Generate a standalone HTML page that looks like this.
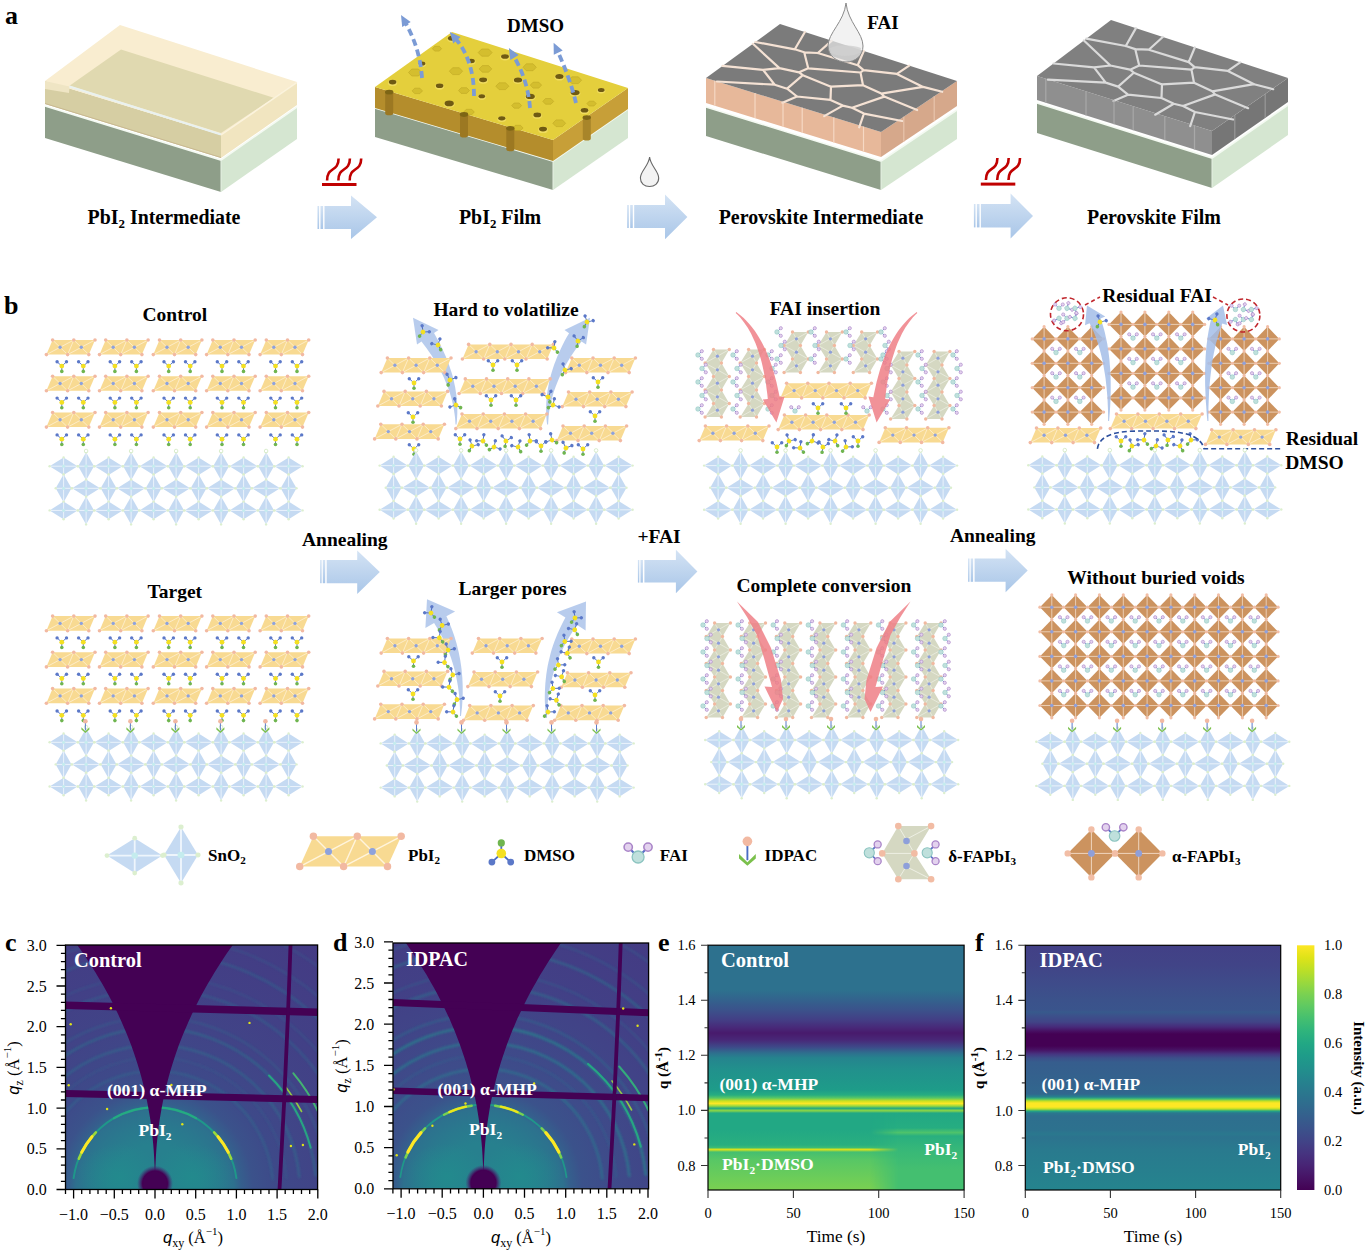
<!DOCTYPE html>
<html><head><meta charset="utf-8"><style>
html,body{margin:0;padding:0;background:#fff;}
svg{display:block;}
text{font-family:"Liberation Serif",serif;}
</style></head><body>
<svg width="1367" height="1252" viewBox="0 0 1367 1252">
<defs>
<linearGradient id="barrow" x1="0" y1="0" x2="0" y2="1">
 <stop offset="0" stop-color="#d4e3f4"/><stop offset="1" stop-color="#a9c6e8"/>
</linearGradient>
<linearGradient id="barrowh" x1="0" y1="0" x2="1" y2="0">
 <stop offset="0" stop-color="#ffffff" stop-opacity="0.35"/><stop offset="1" stop-color="#ffffff" stop-opacity="0"/>
</linearGradient>

<g id="snw"><polygon points="-14.0,0 0,-8.8 14.0,0 0,8.8" fill="#c5daf2"/><path d="M-14.0,0H14.0M0,-8.8V8.8" stroke="#eef5fc" stroke-width="0.9"/><circle r="1.6" fill="#c4ecee"/><circle cx="-14.0" cy="0.0" r="1.2" fill="#dcefcf"/><circle cx="14.0" cy="0.0" r="1.2" fill="#dcefcf"/><circle cx="0.0" cy="-8.8" r="1.2" fill="#dcefcf"/><circle cx="0.0" cy="8.8" r="1.2" fill="#dcefcf"/></g>
<g id="snt"><polygon points="-7.9,0 0,-14.0 7.9,0 0,14.0" fill="#c5daf2"/><path d="M-7.9,0H7.9M0,-14.0V14.0" stroke="#eef5fc" stroke-width="0.9"/><circle r="1.6" fill="#c4ecee"/><circle cx="-7.9" cy="0.0" r="1.2" fill="#dcefcf"/><circle cx="7.9" cy="0.0" r="1.2" fill="#dcefcf"/><circle cx="0.0" cy="-14.0" r="1.2" fill="#dcefcf"/><circle cx="0.0" cy="14.0" r="1.2" fill="#dcefcf"/></g>
<g id="dmso"><path d="M-4.7,-4.3L0,0L4.7,-4.3M0,0V5.3" stroke="#4a6cc4" stroke-width="0.9" fill="none"/><circle cx="-4.7" cy="-4.3" r="1.7" fill="#5b78c8"/><circle cx="4.7" cy="-4.3" r="1.7" fill="#5b78c8"/><circle cx="0" cy="5.3" r="1.8" fill="#6fb54f"/><circle r="2.4" fill="#f4e021"/></g>
<g id="fai"><path d="M-3.5,-3.5L0,0L3.5,-3.5" stroke="#5a70c8" stroke-width="0.8" fill="none"/><circle cx="-3.8" cy="-3.8" r="1.6" fill="#e3d2ee" stroke="#a984c8" stroke-width="0.6"/><circle cx="3.8" cy="-3.8" r="1.6" fill="#e3d2ee" stroke="#a984c8" stroke-width="0.6"/><circle r="2.3" fill="#bfe0dc" stroke="#8cc4c0" stroke-width="0.5"/></g>
<g id="idpac"><path d="M0,-6V2" stroke="#4a6cc4" stroke-width="0.9"/><path d="M-4,-1L0,3L4,-1L4,1.2L0,4.6L-4,1.2Z" fill="#7bc04c"/><circle cx="0" cy="-7" r="2.3" fill="#f2b9a2"/></g>
<clipPath id="clipc"><rect x="65.5" y="945.0" width="252.1" height="244.5"/></clipPath>
<radialGradient id="lobec"><stop offset="0" stop-color="#228b8d" stop-opacity="0.9"/><stop offset="1" stop-color="#228b8d" stop-opacity="0"/></radialGradient>
<radialGradient id="rgc" gradientUnits="userSpaceOnUse" cx="155.0" cy="1189.5" r="309.3"><stop offset="0.0000" stop-color="#2a788e"/><stop offset="0.0789" stop-color="#27808e"/><stop offset="0.1447" stop-color="#27808e"/><stop offset="0.2105" stop-color="#2a788e"/><stop offset="0.2553" stop-color="#2d718e"/><stop offset="0.2789" stop-color="#355f8d"/><stop offset="0.3158" stop-color="#3b528b"/><stop offset="0.3947" stop-color="#3e4989"/><stop offset="0.5263" stop-color="#414487"/><stop offset="0.6842" stop-color="#424086"/><stop offset="1.0000" stop-color="#443a83"/></radialGradient>
<radialGradient id="bsc" gradientUnits="userSpaceOnUse" cx="155.0" cy="1183.5" r="18.0"><stop offset="0" stop-color="#440154"/><stop offset="0.7" stop-color="#440154"/><stop offset="1" stop-color="#482475" stop-opacity="0"/></radialGradient>
<filter id="blc" x="-5%" y="-5%" width="110%" height="110%"><feGaussianBlur stdDeviation="0.9"/></filter>
<clipPath id="clipd"><rect x="393.0" y="943.0" width="255.6" height="245.8"/></clipPath>
<radialGradient id="lobed"><stop offset="0" stop-color="#228b8d" stop-opacity="0.9"/><stop offset="1" stop-color="#228b8d" stop-opacity="0"/></radialGradient>
<radialGradient id="rgd" gradientUnits="userSpaceOnUse" cx="483.4" cy="1188.8" r="312.7"><stop offset="0.0000" stop-color="#2a788e"/><stop offset="0.0789" stop-color="#27808e"/><stop offset="0.1447" stop-color="#27808e"/><stop offset="0.2105" stop-color="#2a788e"/><stop offset="0.2553" stop-color="#2d718e"/><stop offset="0.2789" stop-color="#355f8d"/><stop offset="0.3158" stop-color="#3b528b"/><stop offset="0.3947" stop-color="#3e4c8a"/><stop offset="0.5263" stop-color="#404688"/><stop offset="0.6842" stop-color="#424086"/><stop offset="1.0000" stop-color="#443a83"/></radialGradient>
<radialGradient id="bsd" gradientUnits="userSpaceOnUse" cx="483.4" cy="1182.8" r="18.0"><stop offset="0" stop-color="#440154"/><stop offset="0.7" stop-color="#440154"/><stop offset="1" stop-color="#482475" stop-opacity="0"/></radialGradient>
<filter id="bld" x="-5%" y="-5%" width="110%" height="110%"><feGaussianBlur stdDeviation="0.9"/></filter>
<linearGradient id="lge" x1="0" y1="0" x2="0" y2="1"><stop offset="-0.0008" stop-color="#2d718e"/><stop offset="0.1830" stop-color="#2d718e"/><stop offset="0.2239" stop-color="#33628d"/><stop offset="0.2647" stop-color="#3b528b"/><stop offset="0.3056" stop-color="#433e85"/><stop offset="0.3382" stop-color="#482878"/><stop offset="0.3587" stop-color="#481a6c"/><stop offset="0.3873" stop-color="#482878"/><stop offset="0.4158" stop-color="#3e4989"/><stop offset="0.4404" stop-color="#2e6f8e"/><stop offset="0.4608" stop-color="#25848e"/><stop offset="0.5098" stop-color="#21918c"/><stop offset="0.5915" stop-color="#1e9c89"/><stop offset="0.6119" stop-color="#26ad81"/><stop offset="0.6242" stop-color="#58c765"/><stop offset="0.6364" stop-color="#cae11f"/><stop offset="0.6467" stop-color="#fde725"/><stop offset="0.6569" stop-color="#9bd93c"/><stop offset="0.6663" stop-color="#22a884"/><stop offset="0.6761" stop-color="#8ed645"/><stop offset="0.6855" stop-color="#22a884"/><stop offset="0.7549" stop-color="#22a884"/><stop offset="0.8162" stop-color="#29af7f"/><stop offset="0.8264" stop-color="#3bbb75"/><stop offset="0.8350" stop-color="#dfe318"/><stop offset="0.8448" stop-color="#44bf70"/><stop offset="0.8775" stop-color="#58c765"/><stop offset="1.0000" stop-color="#7ad151"/></linearGradient>
<linearGradient id="lge2" x1="0" y1="0" x2="0" y2="1"><stop offset="0.0000" stop-color="#22a884"/><stop offset="0.1948" stop-color="#26ad81"/><stop offset="0.2545" stop-color="#4ec36b"/><stop offset="0.2987" stop-color="#29af7f"/><stop offset="0.4805" stop-color="#37b878"/><stop offset="0.7403" stop-color="#44bf70"/><stop offset="1.0000" stop-color="#44bf70"/></linearGradient>
<linearGradient id="lge2m" x1="0" y1="0" x2="1" y2="0"><stop offset="0" stop-color="#fff" stop-opacity="0"/><stop offset="0.3" stop-color="#fff" stop-opacity="1"/><stop offset="1" stop-color="#fff" stop-opacity="1"/></linearGradient>
<mask id="me2" maskUnits="userSpaceOnUse" x="870.0" y="1113.0" width="94.1" height="77.0"><rect x="870.0" y="1113.0" width="94.1" height="77.0" fill="url(#lge2m)"/></mask>
<linearGradient id="lgf" x1="0" y1="0" x2="0" y2="1"><stop offset="-0.0012" stop-color="#424086"/><stop offset="0.0805" stop-color="#414487"/><stop offset="0.1622" stop-color="#3e4c8a"/><stop offset="0.2235" stop-color="#3b528b"/><stop offset="0.2644" stop-color="#3a548c"/><stop offset="0.2726" stop-color="#375a8c"/><stop offset="0.2848" stop-color="#3b528b"/><stop offset="0.3134" stop-color="#414487"/><stop offset="0.3339" stop-color="#472a7a"/><stop offset="0.3502" stop-color="#471063"/><stop offset="0.3625" stop-color="#440154"/><stop offset="0.4115" stop-color="#440154"/><stop offset="0.4279" stop-color="#471365"/><stop offset="0.4442" stop-color="#463480"/><stop offset="0.4606" stop-color="#3c4f8a"/><stop offset="0.4769" stop-color="#365d8d"/><stop offset="0.5505" stop-color="#33628d"/><stop offset="0.6077" stop-color="#31678e"/><stop offset="0.6199" stop-color="#25848e"/><stop offset="0.6281" stop-color="#44bf70"/><stop offset="0.6363" stop-color="#bddf26"/><stop offset="0.6445" stop-color="#fde725"/><stop offset="0.6608" stop-color="#fde725"/><stop offset="0.6690" stop-color="#bddf26"/><stop offset="0.6772" stop-color="#22a884"/><stop offset="0.6853" stop-color="#2a788e"/><stop offset="0.6976" stop-color="#2e6f8e"/><stop offset="0.7548" stop-color="#2d718e"/><stop offset="0.7711" stop-color="#2a788e"/><stop offset="0.7834" stop-color="#2c738e"/><stop offset="0.8365" stop-color="#297a8e"/><stop offset="1.0000" stop-color="#25848e"/></linearGradient>
<linearGradient id="cbar" x1="0" y1="1" x2="0" y2="0"><stop offset="0.0000" stop-color="#440154"/><stop offset="0.0500" stop-color="#471365"/><stop offset="0.1000" stop-color="#482475"/><stop offset="0.1500" stop-color="#463480"/><stop offset="0.2000" stop-color="#414487"/><stop offset="0.2500" stop-color="#3b528b"/><stop offset="0.3000" stop-color="#355f8d"/><stop offset="0.3500" stop-color="#2f6c8e"/><stop offset="0.4000" stop-color="#2a788e"/><stop offset="0.4500" stop-color="#25848e"/><stop offset="0.5000" stop-color="#21918c"/><stop offset="0.5500" stop-color="#1e9c89"/><stop offset="0.6000" stop-color="#22a884"/><stop offset="0.6500" stop-color="#2fb47c"/><stop offset="0.7000" stop-color="#44bf70"/><stop offset="0.7500" stop-color="#5ec962"/><stop offset="0.8000" stop-color="#7ad151"/><stop offset="0.8500" stop-color="#9bd93c"/><stop offset="0.9000" stop-color="#bddf26"/><stop offset="0.9500" stop-color="#dfe318"/><stop offset="1.0000" stop-color="#fde725"/></linearGradient></defs>
<rect width="1367" height="1252" fill="#fff"/>
<text x="5.0" y="24.0" font-size="26" text-anchor="start" font-weight="bold" fill="#000" >a</text>
<polygon points="45.0,106.0 221.0,160.0 221.0,192.0 45.0,138.0" fill="#8e9e89" />
<polygon points="221.0,160.0 297.0,107.0 297.0,139.0 221.0,192.0" fill="#d5e6d1" />
<polyline points="45.0,106.0 221.0,160.0 297.0,107.0" fill="none" stroke="#f4faf2" stroke-width="1.6"/>
<line x1="221.0" y1="160.0" x2="221.0" y2="192.0" stroke="#e6f0e3" stroke-width="1"/>
<polygon points="45.0,81.0 221.0,135.0 221.0,158.0 45.0,104.0" fill="#d6cea3" />
<polygon points="221.0,135.0 297.0,82.0 297.0,105.0 221.0,158.0" fill="#f1e5c0" />
<polygon points="120.0,25.0 45.0,81.0 221.0,135.0 297.0,82.0" fill="#f9edd0" />
<polygon points="121.0,49.5 273.6,97.8 221.0,133.0 69.5,85.7" fill="#e0d9b0" />
<polygon points="45.0,81.0 69.5,86.5 69.0,93.0 45.0,89.0" fill="#efe5c4" />
<polyline points="69.5,86.5 221.0,134.5" fill="none" stroke="#e9f1ef" stroke-width="2"/>
<polyline points="221.0,135.0 297.0,82.5" fill="none" stroke="#fbf3dd" stroke-width="1.5"/>
<line x1="45" y1="103.5" x2="221" y2="157.5" stroke="#c8b890" stroke-width="1"/>
<polygon points="375.0,108.0 553.0,161.0 553.0,190.0 375.0,137.0" fill="#8e9e89" />
<polygon points="553.0,161.0 628.0,109.0 628.0,138.0 553.0,190.0" fill="#d5e6d1" />
<polyline points="375.0,108.0 553.0,161.0 628.0,109.0" fill="none" stroke="#f4faf2" stroke-width="1.6"/>
<line x1="553.0" y1="161.0" x2="553.0" y2="190.0" stroke="#e6f0e3" stroke-width="1"/>
<polygon points="375.0,87.0 553.0,140.0 553.0,161.0 375.0,108.0" fill="#b48d2c" />
<polygon points="553.0,140.0 628.0,88.0 628.0,109.0 553.0,161.0" fill="#c79f38" />
<polygon points="452.0,32.0 375.0,87.0 553.0,140.0 628.0,88.0" fill="#e4cf3c" />
<ellipse cx="452.1" cy="39.1" rx="5.0" ry="3.3" fill="#f0dc60"/>
<ellipse cx="452.1" cy="38.3" rx="4.2" ry="2.5" fill="#6f5a12"/>
<polygon points="441.6,48.7 439.3,51.1 434.7,51.1 432.4,48.7 434.7,46.3 439.3,46.3" fill="#d4be2e" stroke="#bfa825" stroke-width="0.6"/>
<ellipse cx="422.0" cy="64.3" rx="4.2" ry="2.8" fill="#f0dc60"/>
<ellipse cx="422.0" cy="63.5" rx="3.4" ry="2.0" fill="#6f5a12"/>
<polygon points="421.8,72.5 418.5,76.0 411.8,76.0 408.5,72.5 411.8,69.0 418.5,69.0" fill="#d4be2e" stroke="#bfa825" stroke-width="0.6"/>
<ellipse cx="392.6" cy="82.9" rx="4.6" ry="3.1" fill="#f0dc60"/>
<ellipse cx="392.6" cy="82.1" rx="3.8" ry="2.3" fill="#6f5a12"/>
<polygon points="492.1,52.6 488.6,56.2 481.7,56.2 478.2,52.6 481.7,49.0 488.6,49.0" fill="#d4be2e" stroke="#bfa825" stroke-width="0.6"/>
<ellipse cx="471.2" cy="61.8" rx="4.4" ry="3.0" fill="#f0dc60"/>
<ellipse cx="471.2" cy="61.0" rx="3.6" ry="2.2" fill="#6f5a12"/>
<polygon points="462.6,71.2 459.3,74.6 452.7,74.6 449.3,71.2 452.7,67.7 459.3,67.7" fill="#d4be2e" stroke="#bfa825" stroke-width="0.6"/>
<ellipse cx="439.6" cy="86.6" rx="4.6" ry="3.1" fill="#f0dc60"/>
<ellipse cx="439.6" cy="85.8" rx="3.8" ry="2.3" fill="#6f5a12"/>
<polygon points="422.5,90.9 419.9,93.6 414.7,93.6 412.1,90.9 414.7,88.2 419.9,88.2" fill="#d4be2e" stroke="#bfa825" stroke-width="0.6"/>
<ellipse cx="505.0" cy="57.3" rx="4.7" ry="3.1" fill="#f0dc60"/>
<ellipse cx="505.0" cy="56.5" rx="3.9" ry="2.3" fill="#6f5a12"/>
<polygon points="491.8,68.9 488.6,72.2 482.3,72.2 479.2,68.9 482.3,65.6 488.6,65.6" fill="#d4be2e" stroke="#bfa825" stroke-width="0.6"/>
<ellipse cx="483.1" cy="80.6" rx="4.8" ry="3.2" fill="#f0dc60"/>
<ellipse cx="483.1" cy="79.8" rx="4.0" ry="2.4" fill="#6f5a12"/>
<polygon points="469.5,90.6 466.7,93.4 461.2,93.4 458.5,90.6 461.2,87.7 466.7,87.7" fill="#d4be2e" stroke="#bfa825" stroke-width="0.6"/>
<ellipse cx="449.2" cy="104.2" rx="5.4" ry="3.6" fill="#f0dc60"/>
<ellipse cx="449.2" cy="103.4" rx="4.6" ry="2.8" fill="#6f5a12"/>
<polygon points="536.3,67.3 533.0,70.7 526.3,70.7 523.0,67.3 526.3,63.8 533.0,63.8" fill="#d4be2e" stroke="#bfa825" stroke-width="0.6"/>
<ellipse cx="518.0" cy="80.7" rx="5.0" ry="3.3" fill="#f0dc60"/>
<ellipse cx="518.0" cy="79.9" rx="4.2" ry="2.5" fill="#6f5a12"/>
<polygon points="508.9,86.2 505.6,89.6 499.1,89.6 495.8,86.2 499.1,82.8 505.6,82.8" fill="#d4be2e" stroke="#bfa825" stroke-width="0.6"/>
<ellipse cx="481.8" cy="97.1" rx="4.1" ry="2.8" fill="#f0dc60"/>
<ellipse cx="481.8" cy="96.3" rx="3.3" ry="2.0" fill="#6f5a12"/>
<polygon points="474.3,112.0 471.7,114.8 466.3,114.8 463.7,112.0 466.3,109.3 471.7,109.3" fill="#d4be2e" stroke="#bfa825" stroke-width="0.6"/>
<ellipse cx="559.4" cy="77.3" rx="4.9" ry="3.3" fill="#f0dc60"/>
<ellipse cx="559.4" cy="76.5" rx="4.1" ry="2.5" fill="#6f5a12"/>
<polygon points="541.6,85.1 538.8,88.1 533.1,88.1 530.3,85.1 533.1,82.2 538.8,82.2" fill="#d4be2e" stroke="#bfa825" stroke-width="0.6"/>
<ellipse cx="530.3" cy="97.2" rx="5.3" ry="3.5" fill="#f0dc60"/>
<ellipse cx="530.3" cy="96.4" rx="4.5" ry="2.7" fill="#6f5a12"/>
<polygon points="521.6,105.6 519.1,108.2 514.2,108.2 511.7,105.6 514.2,103.0 519.1,103.0" fill="#d4be2e" stroke="#bfa825" stroke-width="0.6"/>
<ellipse cx="501.8" cy="119.1" rx="4.4" ry="2.9" fill="#f0dc60"/>
<ellipse cx="501.8" cy="118.3" rx="3.6" ry="2.1" fill="#6f5a12"/>
<polygon points="581.6,80.2 578.3,83.6 571.8,83.6 568.6,80.2 571.8,76.8 578.3,76.8" fill="#d4be2e" stroke="#bfa825" stroke-width="0.6"/>
<ellipse cx="575.1" cy="93.4" rx="5.3" ry="3.5" fill="#f0dc60"/>
<ellipse cx="575.1" cy="92.6" rx="4.5" ry="2.7" fill="#6f5a12"/>
<polygon points="553.7,101.4 550.9,104.2 545.5,104.2 542.8,101.4 545.5,98.5 550.9,98.5" fill="#d4be2e" stroke="#bfa825" stroke-width="0.6"/>
<ellipse cx="537.3" cy="115.7" rx="4.7" ry="3.1" fill="#f0dc60"/>
<ellipse cx="537.3" cy="114.9" rx="3.9" ry="2.3" fill="#6f5a12"/>
<polygon points="523.1,128.0 520.5,130.6 515.4,130.6 512.9,128.0 515.4,125.3 520.5,125.3" fill="#d4be2e" stroke="#bfa825" stroke-width="0.6"/>
<ellipse cx="601.2" cy="90.7" rx="4.2" ry="2.8" fill="#f0dc60"/>
<ellipse cx="601.2" cy="89.9" rx="3.4" ry="2.0" fill="#6f5a12"/>
<polygon points="596.2,103.6 593.9,106.0 589.2,106.0 586.9,103.6 589.2,101.2 593.9,101.2" fill="#d4be2e" stroke="#bfa825" stroke-width="0.6"/>
<ellipse cx="584.5" cy="111.0" rx="4.6" ry="3.1" fill="#f0dc60"/>
<ellipse cx="584.5" cy="110.2" rx="3.8" ry="2.3" fill="#6f5a12"/>
<polygon points="565.6,123.3 562.4,126.6 556.0,126.6 552.8,123.3 556.0,119.9 562.4,119.9" fill="#d4be2e" stroke="#bfa825" stroke-width="0.6"/>
<ellipse cx="543.0" cy="129.9" rx="4.8" ry="3.2" fill="#f0dc60"/>
<ellipse cx="543.0" cy="129.1" rx="4.0" ry="2.4" fill="#6f5a12"/>
<path d="M385.2,92.2 v21 a4,2 0 0 0 8,0 v-21 a4,2 0 0 1 -8,0z" fill="#9c7822"/>
<ellipse cx="389.2" cy="92.2" rx="4.2" ry="2.4" fill="#7d6515"/>
<path d="M460.0,114.5 v21 a4,2 0 0 0 8,0 v-21 a4,2 0 0 1 -8,0z" fill="#9c7822"/>
<ellipse cx="464.0" cy="114.5" rx="4.2" ry="2.4" fill="#7d6515"/>
<path d="M506.3,128.3 v21 a4,2 0 0 0 8,0 v-21 a4,2 0 0 1 -8,0z" fill="#9c7822"/>
<ellipse cx="510.3" cy="128.3" rx="4.2" ry="2.4" fill="#7d6515"/>
<path d="M582.8,117.6 v21 a4,2 0 0 0 8,0 v-21 a4,2 0 0 1 -8,0z" fill="#a8852a"/>
<ellipse cx="586.8" cy="117.6" rx="4.2" ry="2.4" fill="#7d6515"/>
<path d="M422.0,78.0 Q420.0,48.0 405.0,22.0" fill="none" stroke="#7b9bd5" stroke-width="3.8" stroke-dasharray="7,4"/>
<polygon points="401.0,15.1 410.7,22.1 402.2,27.0" fill="#7b9bd5" />
<path d="M474.0,96.0 Q474.0,60.0 455.0,38.0" fill="none" stroke="#7b9bd5" stroke-width="3.8" stroke-dasharray="7,4"/>
<polygon points="449.8,31.9 460.6,37.0 453.2,43.4" fill="#7b9bd5" />
<path d="M530.0,108.0 Q528.0,80.0 513.0,55.0" fill="none" stroke="#7b9bd5" stroke-width="3.8" stroke-dasharray="7,4"/>
<polygon points="508.9,48.1 518.7,55.0 510.3,60.1" fill="#7b9bd5" />
<path d="M576.0,103.0 Q570.0,78.0 557.0,50.0" fill="none" stroke="#7b9bd5" stroke-width="3.8" stroke-dasharray="7,4"/>
<polygon points="553.6,42.7 562.7,50.6 553.8,54.7" fill="#7b9bd5" />
<text x="535.5" y="32.0" font-size="19" text-anchor="middle" font-weight="bold" fill="#000" >DMSO</text>
<polygon points="706.0,107.0 881.0,161.0 881.0,190.0 706.0,136.0" fill="#8e9e89" />
<polygon points="881.0,161.0 957.0,110.0 957.0,139.0 881.0,190.0" fill="#d5e6d1" />
<polyline points="706.0,107.0 881.0,161.0 957.0,110.0" fill="none" stroke="#f4faf2" stroke-width="1.6"/>
<line x1="881.0" y1="161.0" x2="881.0" y2="190.0" stroke="#e6f0e3" stroke-width="1"/>
<polygon points="706.0,78.0 881.0,132.0 881.0,157.0 706.0,103.0" fill="#e7b89a" />
<polygon points="881.0,132.0 957.0,81.0 957.0,106.0 881.0,157.0" fill="#d6a88b" />
<polygon points="780.0,24.0 706.0,78.0 881.0,132.0 957.0,81.0" fill="#7b7b7b" />
<polygon points="1037.0,103.0 1212.0,158.0 1212.0,188.0 1037.0,133.0" fill="#8e9e89" />
<polygon points="1212.0,158.0 1288.0,105.0 1288.0,135.0 1212.0,188.0" fill="#d5e6d1" />
<polyline points="1037.0,103.0 1212.0,158.0 1288.0,105.0" fill="none" stroke="#f4faf2" stroke-width="1.6"/>
<line x1="1212.0" y1="158.0" x2="1212.0" y2="188.0" stroke="#e6f0e3" stroke-width="1"/>
<polygon points="1037.0,76.0 1212.0,131.0 1212.0,155.0 1037.0,100.0" fill="#8f8f8f" />
<polygon points="1212.0,131.0 1288.0,78.0 1288.0,102.0 1212.0,155.0" fill="#767676" />
<polygon points="1111.0,20.0 1037.0,76.0 1212.0,131.0 1288.0,78.0" fill="#808080" />
<path d="M942.2,91.8L923.1,86.9M896.9,73.9L909.2,65.6M923.1,86.9L896.9,73.9M802.8,75.2L799.1,72.3M808.2,68.3L799.1,72.3M860.5,72.5L863.0,85.2M808.2,68.3L860.5,72.5M802.8,75.2L831.0,86.7M831.0,86.7L863.0,85.2M923.1,86.9L881.3,93.6M896.9,73.9L863.6,70.1M860.5,72.5L863.6,70.1M863.0,85.2L881.3,93.6M917.1,110.1L884.2,96.6M884.2,96.6L881.3,93.6M857.7,65.2L863.8,51.0M863.6,70.1L857.7,65.2M857.7,65.2L817.8,53.0M817.8,53.0L831.8,40.7M808.2,68.3L804.2,52.3M804.2,52.3L817.8,53.0M852.0,107.8L884.2,96.6M852.0,107.8L842.8,105.6M831.0,86.7L830.5,99.9M842.8,105.6L830.5,99.9M722.5,65.9L763.0,69.8M779.4,68.1L752.9,43.8M763.0,69.8L779.4,68.1M863.9,113.6L859.2,127.3M863.9,113.6L902.1,121.0M852.0,107.8L863.9,113.6M794.8,49.3L755.3,42.0M794.8,49.3L804.9,32.0M779.4,68.1L799.1,72.3M804.2,52.3L794.8,49.3M842.8,105.6L824.2,116.1M802.8,75.2L787.1,88.7M830.5,99.9L797.0,96.5M797.0,96.5L787.1,88.7M763.0,69.8L774.7,84.7M774.7,84.7L787.1,88.7M797.0,96.5L782.5,102.7M774.7,84.7L716.9,81.5" stroke="#f5e2d4" stroke-width="2.2" fill="none" stroke-linecap="round"/>
<path d="M1273.2,89.2L1254.1,84.2M1227.9,70.9L1240.2,62.3M1254.1,84.2L1227.9,70.9M1133.8,72.7L1130.1,69.7M1139.2,65.5L1130.1,69.7M1191.5,69.7L1194.0,82.7M1139.2,65.5L1191.5,69.7M1133.8,72.7L1162.0,84.4M1162.0,84.4L1194.0,82.7M1254.1,84.2L1212.3,91.3M1227.9,70.9L1194.6,67.2M1191.5,69.7L1194.6,67.2M1194.0,82.7L1212.3,91.3M1248.1,108.2L1215.2,94.4M1215.2,94.4L1212.3,91.3M1188.7,62.1L1194.8,47.5M1194.6,67.2L1188.7,62.1M1188.7,62.1L1148.8,49.7M1148.8,49.7L1162.8,37.0M1139.2,65.5L1135.2,49.1M1135.2,49.1L1148.8,49.7M1183.0,106.0L1215.2,94.4M1183.0,106.0L1173.8,103.8M1162.0,84.4L1161.5,98.0M1173.8,103.8L1161.5,98.0M1053.5,63.5L1094.0,67.3M1110.4,65.5L1083.9,40.5M1094.0,67.3L1110.4,65.5M1194.9,112.0L1190.2,126.2M1194.9,112.0L1233.1,119.5M1183.0,106.0L1194.9,112.0M1125.8,46.0L1086.3,38.7M1125.8,46.0L1135.9,28.1M1110.4,65.5L1130.1,69.7M1135.2,49.1L1125.8,46.0M1173.8,103.8L1155.2,114.7M1133.8,72.7L1118.1,86.6M1161.5,98.0L1128.0,94.7M1128.0,94.7L1118.1,86.6M1094.0,67.3L1105.7,82.6M1105.7,82.6L1118.1,86.6M1128.0,94.7L1113.5,101.1M1105.7,82.6L1047.9,79.6" stroke="#dadada" stroke-width="2.2" fill="none" stroke-linecap="round"/>
<line x1="714.8" y1="80.7" x2="714.8" y2="105.7" stroke="#f6d8c4" stroke-width="1.2"/>
<line x1="1045.8" y1="78.8" x2="1045.8" y2="102.8" stroke="#a8a8a8" stroke-width="1.2"/>
<line x1="755.0" y1="93.1" x2="755.0" y2="118.1" stroke="#f6d8c4" stroke-width="1.2"/>
<line x1="1086.0" y1="91.4" x2="1086.0" y2="115.4" stroke="#a8a8a8" stroke-width="1.2"/>
<line x1="783.0" y1="101.8" x2="783.0" y2="126.8" stroke="#f6d8c4" stroke-width="1.2"/>
<line x1="1114.0" y1="100.2" x2="1114.0" y2="124.2" stroke="#a8a8a8" stroke-width="1.2"/>
<line x1="802.2" y1="107.7" x2="802.2" y2="132.7" stroke="#f6d8c4" stroke-width="1.2"/>
<line x1="1133.2" y1="106.2" x2="1133.2" y2="130.2" stroke="#a8a8a8" stroke-width="1.2"/>
<line x1="833.8" y1="117.4" x2="833.8" y2="142.4" stroke="#f6d8c4" stroke-width="1.2"/>
<line x1="1164.8" y1="116.2" x2="1164.8" y2="140.2" stroke="#a8a8a8" stroke-width="1.2"/>
<line x1="863.5" y1="126.6" x2="863.5" y2="151.6" stroke="#f6d8c4" stroke-width="1.2"/>
<line x1="1194.5" y1="125.5" x2="1194.5" y2="149.5" stroke="#a8a8a8" stroke-width="1.2"/>
<line x1="903.8" y1="116.7" x2="903.8" y2="141.7" stroke="#e8c4ac" stroke-width="1.2"/>
<line x1="1234.8" y1="115.1" x2="1234.8" y2="139.1" stroke="#999" stroke-width="1.2"/>
<line x1="934.2" y1="96.3" x2="934.2" y2="121.3" stroke="#e8c4ac" stroke-width="1.2"/>
<line x1="1265.2" y1="93.9" x2="1265.2" y2="117.9" stroke="#999" stroke-width="1.2"/>
<path d="M846,3 C848,22 863,33 863,46 C863,56 855,62 846,62 C837,62 828,56 828,46 C828,33 844,22 846,3 Z" fill="#ececec" fill-opacity="0.7" stroke="#8a8a8a" stroke-width="1"/>
<path d="M830,48 C838,44 852,45 861,48 L860,53 C852,57 838,57 831,53 Z" fill="#cfcfcf" opacity="0.8"/>
<text x="883.0" y="28.5" font-size="19" text-anchor="middle" font-weight="bold" fill="#000" >FAI</text>
<path d="M649.6,157 C650.5,166 658.7,171 658.7,178 C658.7,183.5 654.5,186.5 649.5,186.5 C644.5,186.5 640.4,183.5 640.4,178 C640.4,171 648.7,166 649.6,157 Z" fill="#f3f3f3" stroke="#666" stroke-width="1.1"/>
<rect x="317.5" y="206.0" width="1.6" height="23.0" fill="url(#barrow)"/>
<rect x="320.5" y="206.0" width="2.6" height="23.0" fill="url(#barrow)"/>
<polygon points="324.5,206.0 351.0,206.0 351.0,195.5 377.0,217.2 351.0,239.0 351.0,229.0 324.5,229.0" fill="url(#barrow)" />
<rect x="627.2" y="205.0" width="1.6" height="23.0" fill="url(#barrow)"/>
<rect x="630.2" y="205.0" width="2.6" height="23.0" fill="url(#barrow)"/>
<polygon points="634.2,205.0 665.0,205.0 665.0,194.5 687.4,216.9 665.0,239.3 665.0,228.0 634.2,228.0" fill="url(#barrow)" />
<rect x="973.9" y="204.0" width="1.6" height="23.4" fill="url(#barrow)"/>
<rect x="976.9" y="204.0" width="2.6" height="23.4" fill="url(#barrow)"/>
<polygon points="980.9,204.0 1010.6,204.0 1010.6,193.6 1033.0,216.0 1010.6,238.4 1010.6,227.4 980.9,227.4" fill="url(#barrow)" />
<path d="M338.6,158.5 C338.6,165.5 335.6,167.5 332.6,169.5 S327.1,173.5 327.1,180.5 M349.9,158.5 C349.9,165.5 346.9,167.5 343.9,169.5 S338.4,173.5 338.4,180.5 M361.2,158.5 C361.2,165.5 358.2,167.5 355.2,169.5 S349.7,173.5 349.7,180.5 " fill="none" stroke="#c00000" stroke-width="2.6"/>
<rect x="322.0" y="183.0" width="34.5" height="3" fill="#c00000"/>
<path d="M997.4,158.1 C997.4,165.1 994.4,167.1 991.4,169.1 S985.9,173.1 985.9,180.1 M1008.7,158.1 C1008.7,165.1 1005.7,167.1 1002.7,169.1 S997.2,173.1 997.2,180.1 M1020.0,158.1 C1020.0,165.1 1017.0,167.1 1014.0,169.1 S1008.5,173.1 1008.5,180.1 " fill="none" stroke="#c00000" stroke-width="2.6"/>
<rect x="980.8" y="182.6" width="34.5" height="3" fill="#c00000"/>
<text x="164.0" y="223.5" font-size="19.9" font-weight="bold" text-anchor="middle">PbI<tspan font-size="12.9" dy="4">2</tspan><tspan dy="-4"> Intermediate</tspan></text>
<text x="500.0" y="223.5" font-size="19.9" font-weight="bold" text-anchor="middle">PbI<tspan font-size="12.9" dy="4">2</tspan><tspan dy="-4"> Film</tspan></text>
<text x="821.0" y="223.5" font-size="19.9" text-anchor="middle" font-weight="bold" fill="#000" >Perovskite Intermediate</text>
<text x="1154.0" y="223.5" font-size="19.9" text-anchor="middle" font-weight="bold" fill="#000" >Perovskite Film</text>
<text x="4.0" y="313.5" font-size="26" text-anchor="start" font-weight="bold" fill="#000" >b</text>
<polygon points="52.6,340.0 95.0,340.0 88.8,354.6 46.4,354.6" fill="#f8da92"/><path d="M73.8,340.0L67.6,354.6M52.6,340.0L67.6,354.6M73.8,340.0L46.4,354.6M73.8,340.0L88.8,354.6M95.0,340.0L67.6,354.6" stroke="#fff4dc" stroke-width="0.7" fill="none"/><circle cx="60.1" cy="347.3" r="1.7" fill="#8ea2dc"/><circle cx="81.3" cy="347.3" r="1.7" fill="#8ea2dc"/><circle cx="52.6" cy="340.0" r="1.8" fill="#f2b9a2"/><circle cx="46.4" cy="354.6" r="1.8" fill="#f2b9a2"/><circle cx="73.8" cy="340.0" r="1.8" fill="#f2b9a2"/><circle cx="67.6" cy="354.6" r="1.8" fill="#f2b9a2"/><circle cx="95.0" cy="340.0" r="1.8" fill="#f2b9a2"/><circle cx="88.8" cy="354.6" r="1.8" fill="#f2b9a2"/>
<polygon points="105.7,340.0 148.1,340.0 141.9,354.6 99.5,354.6" fill="#f8da92"/><path d="M126.9,340.0L120.7,354.6M105.7,340.0L120.7,354.6M126.9,340.0L99.5,354.6M126.9,340.0L141.9,354.6M148.1,340.0L120.7,354.6" stroke="#fff4dc" stroke-width="0.7" fill="none"/><circle cx="113.2" cy="347.3" r="1.7" fill="#8ea2dc"/><circle cx="134.4" cy="347.3" r="1.7" fill="#8ea2dc"/><circle cx="105.7" cy="340.0" r="1.8" fill="#f2b9a2"/><circle cx="99.5" cy="354.6" r="1.8" fill="#f2b9a2"/><circle cx="126.9" cy="340.0" r="1.8" fill="#f2b9a2"/><circle cx="120.7" cy="354.6" r="1.8" fill="#f2b9a2"/><circle cx="148.1" cy="340.0" r="1.8" fill="#f2b9a2"/><circle cx="141.9" cy="354.6" r="1.8" fill="#f2b9a2"/>
<polygon points="159.5,340.0 201.9,340.0 195.7,354.6 153.3,354.6" fill="#f8da92"/><path d="M180.7,340.0L174.5,354.6M159.5,340.0L174.5,354.6M180.7,340.0L153.3,354.6M180.7,340.0L195.7,354.6M201.9,340.0L174.5,354.6" stroke="#fff4dc" stroke-width="0.7" fill="none"/><circle cx="167.0" cy="347.3" r="1.7" fill="#8ea2dc"/><circle cx="188.2" cy="347.3" r="1.7" fill="#8ea2dc"/><circle cx="159.5" cy="340.0" r="1.8" fill="#f2b9a2"/><circle cx="153.3" cy="354.6" r="1.8" fill="#f2b9a2"/><circle cx="180.7" cy="340.0" r="1.8" fill="#f2b9a2"/><circle cx="174.5" cy="354.6" r="1.8" fill="#f2b9a2"/><circle cx="201.9" cy="340.0" r="1.8" fill="#f2b9a2"/><circle cx="195.7" cy="354.6" r="1.8" fill="#f2b9a2"/>
<polygon points="212.8,340.0 255.2,340.0 249.0,354.6 206.6,354.6" fill="#f8da92"/><path d="M234.0,340.0L227.8,354.6M212.8,340.0L227.8,354.6M234.0,340.0L206.6,354.6M234.0,340.0L249.0,354.6M255.2,340.0L227.8,354.6" stroke="#fff4dc" stroke-width="0.7" fill="none"/><circle cx="220.3" cy="347.3" r="1.7" fill="#8ea2dc"/><circle cx="241.5" cy="347.3" r="1.7" fill="#8ea2dc"/><circle cx="212.8" cy="340.0" r="1.8" fill="#f2b9a2"/><circle cx="206.6" cy="354.6" r="1.8" fill="#f2b9a2"/><circle cx="234.0" cy="340.0" r="1.8" fill="#f2b9a2"/><circle cx="227.8" cy="354.6" r="1.8" fill="#f2b9a2"/><circle cx="255.2" cy="340.0" r="1.8" fill="#f2b9a2"/><circle cx="249.0" cy="354.6" r="1.8" fill="#f2b9a2"/>
<polygon points="266.3,340.0 308.7,340.0 302.5,354.6 260.1,354.6" fill="#f8da92"/><path d="M287.5,340.0L281.3,354.6M266.3,340.0L281.3,354.6M287.5,340.0L260.1,354.6M287.5,340.0L302.5,354.6M308.7,340.0L281.3,354.6" stroke="#fff4dc" stroke-width="0.7" fill="none"/><circle cx="273.8" cy="347.3" r="1.7" fill="#8ea2dc"/><circle cx="295.0" cy="347.3" r="1.7" fill="#8ea2dc"/><circle cx="266.3" cy="340.0" r="1.8" fill="#f2b9a2"/><circle cx="260.1" cy="354.6" r="1.8" fill="#f2b9a2"/><circle cx="287.5" cy="340.0" r="1.8" fill="#f2b9a2"/><circle cx="281.3" cy="354.6" r="1.8" fill="#f2b9a2"/><circle cx="308.7" cy="340.0" r="1.8" fill="#f2b9a2"/><circle cx="302.5" cy="354.6" r="1.8" fill="#f2b9a2"/>
<polygon points="52.6,376.2 95.0,376.2 88.8,390.8 46.4,390.8" fill="#f8da92"/><path d="M73.8,376.2L67.6,390.8M52.6,376.2L67.6,390.8M73.8,376.2L46.4,390.8M73.8,376.2L88.8,390.8M95.0,376.2L67.6,390.8" stroke="#fff4dc" stroke-width="0.7" fill="none"/><circle cx="60.1" cy="383.5" r="1.7" fill="#8ea2dc"/><circle cx="81.3" cy="383.5" r="1.7" fill="#8ea2dc"/><circle cx="52.6" cy="376.2" r="1.8" fill="#f2b9a2"/><circle cx="46.4" cy="390.8" r="1.8" fill="#f2b9a2"/><circle cx="73.8" cy="376.2" r="1.8" fill="#f2b9a2"/><circle cx="67.6" cy="390.8" r="1.8" fill="#f2b9a2"/><circle cx="95.0" cy="376.2" r="1.8" fill="#f2b9a2"/><circle cx="88.8" cy="390.8" r="1.8" fill="#f2b9a2"/>
<polygon points="105.7,376.2 148.1,376.2 141.9,390.8 99.5,390.8" fill="#f8da92"/><path d="M126.9,376.2L120.7,390.8M105.7,376.2L120.7,390.8M126.9,376.2L99.5,390.8M126.9,376.2L141.9,390.8M148.1,376.2L120.7,390.8" stroke="#fff4dc" stroke-width="0.7" fill="none"/><circle cx="113.2" cy="383.5" r="1.7" fill="#8ea2dc"/><circle cx="134.4" cy="383.5" r="1.7" fill="#8ea2dc"/><circle cx="105.7" cy="376.2" r="1.8" fill="#f2b9a2"/><circle cx="99.5" cy="390.8" r="1.8" fill="#f2b9a2"/><circle cx="126.9" cy="376.2" r="1.8" fill="#f2b9a2"/><circle cx="120.7" cy="390.8" r="1.8" fill="#f2b9a2"/><circle cx="148.1" cy="376.2" r="1.8" fill="#f2b9a2"/><circle cx="141.9" cy="390.8" r="1.8" fill="#f2b9a2"/>
<polygon points="159.5,376.2 201.9,376.2 195.7,390.8 153.3,390.8" fill="#f8da92"/><path d="M180.7,376.2L174.5,390.8M159.5,376.2L174.5,390.8M180.7,376.2L153.3,390.8M180.7,376.2L195.7,390.8M201.9,376.2L174.5,390.8" stroke="#fff4dc" stroke-width="0.7" fill="none"/><circle cx="167.0" cy="383.5" r="1.7" fill="#8ea2dc"/><circle cx="188.2" cy="383.5" r="1.7" fill="#8ea2dc"/><circle cx="159.5" cy="376.2" r="1.8" fill="#f2b9a2"/><circle cx="153.3" cy="390.8" r="1.8" fill="#f2b9a2"/><circle cx="180.7" cy="376.2" r="1.8" fill="#f2b9a2"/><circle cx="174.5" cy="390.8" r="1.8" fill="#f2b9a2"/><circle cx="201.9" cy="376.2" r="1.8" fill="#f2b9a2"/><circle cx="195.7" cy="390.8" r="1.8" fill="#f2b9a2"/>
<polygon points="212.8,376.2 255.2,376.2 249.0,390.8 206.6,390.8" fill="#f8da92"/><path d="M234.0,376.2L227.8,390.8M212.8,376.2L227.8,390.8M234.0,376.2L206.6,390.8M234.0,376.2L249.0,390.8M255.2,376.2L227.8,390.8" stroke="#fff4dc" stroke-width="0.7" fill="none"/><circle cx="220.3" cy="383.5" r="1.7" fill="#8ea2dc"/><circle cx="241.5" cy="383.5" r="1.7" fill="#8ea2dc"/><circle cx="212.8" cy="376.2" r="1.8" fill="#f2b9a2"/><circle cx="206.6" cy="390.8" r="1.8" fill="#f2b9a2"/><circle cx="234.0" cy="376.2" r="1.8" fill="#f2b9a2"/><circle cx="227.8" cy="390.8" r="1.8" fill="#f2b9a2"/><circle cx="255.2" cy="376.2" r="1.8" fill="#f2b9a2"/><circle cx="249.0" cy="390.8" r="1.8" fill="#f2b9a2"/>
<polygon points="266.3,376.2 308.7,376.2 302.5,390.8 260.1,390.8" fill="#f8da92"/><path d="M287.5,376.2L281.3,390.8M266.3,376.2L281.3,390.8M287.5,376.2L260.1,390.8M287.5,376.2L302.5,390.8M308.7,376.2L281.3,390.8" stroke="#fff4dc" stroke-width="0.7" fill="none"/><circle cx="273.8" cy="383.5" r="1.7" fill="#8ea2dc"/><circle cx="295.0" cy="383.5" r="1.7" fill="#8ea2dc"/><circle cx="266.3" cy="376.2" r="1.8" fill="#f2b9a2"/><circle cx="260.1" cy="390.8" r="1.8" fill="#f2b9a2"/><circle cx="287.5" cy="376.2" r="1.8" fill="#f2b9a2"/><circle cx="281.3" cy="390.8" r="1.8" fill="#f2b9a2"/><circle cx="308.7" cy="376.2" r="1.8" fill="#f2b9a2"/><circle cx="302.5" cy="390.8" r="1.8" fill="#f2b9a2"/>
<polygon points="52.6,412.5 95.0,412.5 88.8,427.1 46.4,427.1" fill="#f8da92"/><path d="M73.8,412.5L67.6,427.1M52.6,412.5L67.6,427.1M73.8,412.5L46.4,427.1M73.8,412.5L88.8,427.1M95.0,412.5L67.6,427.1" stroke="#fff4dc" stroke-width="0.7" fill="none"/><circle cx="60.1" cy="419.8" r="1.7" fill="#8ea2dc"/><circle cx="81.3" cy="419.8" r="1.7" fill="#8ea2dc"/><circle cx="52.6" cy="412.5" r="1.8" fill="#f2b9a2"/><circle cx="46.4" cy="427.1" r="1.8" fill="#f2b9a2"/><circle cx="73.8" cy="412.5" r="1.8" fill="#f2b9a2"/><circle cx="67.6" cy="427.1" r="1.8" fill="#f2b9a2"/><circle cx="95.0" cy="412.5" r="1.8" fill="#f2b9a2"/><circle cx="88.8" cy="427.1" r="1.8" fill="#f2b9a2"/>
<polygon points="105.7,412.5 148.1,412.5 141.9,427.1 99.5,427.1" fill="#f8da92"/><path d="M126.9,412.5L120.7,427.1M105.7,412.5L120.7,427.1M126.9,412.5L99.5,427.1M126.9,412.5L141.9,427.1M148.1,412.5L120.7,427.1" stroke="#fff4dc" stroke-width="0.7" fill="none"/><circle cx="113.2" cy="419.8" r="1.7" fill="#8ea2dc"/><circle cx="134.4" cy="419.8" r="1.7" fill="#8ea2dc"/><circle cx="105.7" cy="412.5" r="1.8" fill="#f2b9a2"/><circle cx="99.5" cy="427.1" r="1.8" fill="#f2b9a2"/><circle cx="126.9" cy="412.5" r="1.8" fill="#f2b9a2"/><circle cx="120.7" cy="427.1" r="1.8" fill="#f2b9a2"/><circle cx="148.1" cy="412.5" r="1.8" fill="#f2b9a2"/><circle cx="141.9" cy="427.1" r="1.8" fill="#f2b9a2"/>
<polygon points="159.5,412.5 201.9,412.5 195.7,427.1 153.3,427.1" fill="#f8da92"/><path d="M180.7,412.5L174.5,427.1M159.5,412.5L174.5,427.1M180.7,412.5L153.3,427.1M180.7,412.5L195.7,427.1M201.9,412.5L174.5,427.1" stroke="#fff4dc" stroke-width="0.7" fill="none"/><circle cx="167.0" cy="419.8" r="1.7" fill="#8ea2dc"/><circle cx="188.2" cy="419.8" r="1.7" fill="#8ea2dc"/><circle cx="159.5" cy="412.5" r="1.8" fill="#f2b9a2"/><circle cx="153.3" cy="427.1" r="1.8" fill="#f2b9a2"/><circle cx="180.7" cy="412.5" r="1.8" fill="#f2b9a2"/><circle cx="174.5" cy="427.1" r="1.8" fill="#f2b9a2"/><circle cx="201.9" cy="412.5" r="1.8" fill="#f2b9a2"/><circle cx="195.7" cy="427.1" r="1.8" fill="#f2b9a2"/>
<polygon points="212.8,412.5 255.2,412.5 249.0,427.1 206.6,427.1" fill="#f8da92"/><path d="M234.0,412.5L227.8,427.1M212.8,412.5L227.8,427.1M234.0,412.5L206.6,427.1M234.0,412.5L249.0,427.1M255.2,412.5L227.8,427.1" stroke="#fff4dc" stroke-width="0.7" fill="none"/><circle cx="220.3" cy="419.8" r="1.7" fill="#8ea2dc"/><circle cx="241.5" cy="419.8" r="1.7" fill="#8ea2dc"/><circle cx="212.8" cy="412.5" r="1.8" fill="#f2b9a2"/><circle cx="206.6" cy="427.1" r="1.8" fill="#f2b9a2"/><circle cx="234.0" cy="412.5" r="1.8" fill="#f2b9a2"/><circle cx="227.8" cy="427.1" r="1.8" fill="#f2b9a2"/><circle cx="255.2" cy="412.5" r="1.8" fill="#f2b9a2"/><circle cx="249.0" cy="427.1" r="1.8" fill="#f2b9a2"/>
<polygon points="266.3,412.5 308.7,412.5 302.5,427.1 260.1,427.1" fill="#f8da92"/><path d="M287.5,412.5L281.3,427.1M266.3,412.5L281.3,427.1M287.5,412.5L260.1,427.1M287.5,412.5L302.5,427.1M308.7,412.5L281.3,427.1" stroke="#fff4dc" stroke-width="0.7" fill="none"/><circle cx="273.8" cy="419.8" r="1.7" fill="#8ea2dc"/><circle cx="295.0" cy="419.8" r="1.7" fill="#8ea2dc"/><circle cx="266.3" cy="412.5" r="1.8" fill="#f2b9a2"/><circle cx="260.1" cy="427.1" r="1.8" fill="#f2b9a2"/><circle cx="287.5" cy="412.5" r="1.8" fill="#f2b9a2"/><circle cx="281.3" cy="427.1" r="1.8" fill="#f2b9a2"/><circle cx="308.7" cy="412.5" r="1.8" fill="#f2b9a2"/><circle cx="302.5" cy="427.1" r="1.8" fill="#f2b9a2"/>
<use href="#dmso" x="61.8" y="366.1"/>
<use href="#dmso" x="83.3" y="366.1"/>
<use href="#dmso" x="114.9" y="366.1"/>
<use href="#dmso" x="136.4" y="366.1"/>
<use href="#dmso" x="168.7" y="366.1"/>
<use href="#dmso" x="190.2" y="366.1"/>
<use href="#dmso" x="222.0" y="366.1"/>
<use href="#dmso" x="243.5" y="366.1"/>
<use href="#dmso" x="275.5" y="366.1"/>
<use href="#dmso" x="297.0" y="366.1"/>
<use href="#dmso" x="61.8" y="402.4"/>
<use href="#dmso" x="83.3" y="402.4"/>
<use href="#dmso" x="114.9" y="402.4"/>
<use href="#dmso" x="136.4" y="402.4"/>
<use href="#dmso" x="168.7" y="402.4"/>
<use href="#dmso" x="190.2" y="402.4"/>
<use href="#dmso" x="222.0" y="402.4"/>
<use href="#dmso" x="243.5" y="402.4"/>
<use href="#dmso" x="275.5" y="402.4"/>
<use href="#dmso" x="297.0" y="402.4"/>
<use href="#dmso" x="61.8" y="439.2"/>
<use href="#dmso" x="83.3" y="439.2"/>
<use href="#dmso" x="114.9" y="439.2"/>
<use href="#dmso" x="136.4" y="439.2"/>
<use href="#dmso" x="168.7" y="439.2"/>
<use href="#dmso" x="190.2" y="439.2"/>
<use href="#dmso" x="222.0" y="439.2"/>
<use href="#dmso" x="243.5" y="439.2"/>
<use href="#dmso" x="275.5" y="439.2"/>
<use href="#dmso" x="297.0" y="439.2"/>
<use href="#snw" x="63.6" y="466.2"/>
<use href="#snt" x="86.1" y="466.2"/>
<use href="#snw" x="108.6" y="466.2"/>
<use href="#snt" x="131.1" y="466.2"/>
<use href="#snw" x="153.6" y="466.2"/>
<use href="#snt" x="176.1" y="466.2"/>
<use href="#snw" x="198.6" y="466.2"/>
<use href="#snt" x="221.1" y="466.2"/>
<use href="#snw" x="243.6" y="466.2"/>
<use href="#snt" x="266.1" y="466.2"/>
<use href="#snw" x="288.6" y="466.2"/>
<use href="#snt" x="63.6" y="488.3"/>
<use href="#snw" x="86.1" y="488.3"/>
<use href="#snt" x="108.6" y="488.3"/>
<use href="#snw" x="131.1" y="488.3"/>
<use href="#snt" x="153.6" y="488.3"/>
<use href="#snw" x="176.1" y="488.3"/>
<use href="#snt" x="198.6" y="488.3"/>
<use href="#snw" x="221.1" y="488.3"/>
<use href="#snt" x="243.6" y="488.3"/>
<use href="#snw" x="266.1" y="488.3"/>
<use href="#snt" x="288.6" y="488.3"/>
<use href="#snw" x="63.6" y="510.4"/>
<use href="#snt" x="86.1" y="510.4"/>
<use href="#snw" x="108.6" y="510.4"/>
<use href="#snt" x="131.1" y="510.4"/>
<use href="#snw" x="153.6" y="510.4"/>
<use href="#snt" x="176.1" y="510.4"/>
<use href="#snw" x="198.6" y="510.4"/>
<use href="#snt" x="221.1" y="510.4"/>
<use href="#snw" x="243.6" y="510.4"/>
<use href="#snt" x="266.1" y="510.4"/>
<use href="#snw" x="288.6" y="510.4"/>
<circle cx="86.1" cy="451.0" r="1.8" fill="#fff" stroke="#d0e8c0" stroke-width="0.8"/>
<circle cx="131.1" cy="451.0" r="1.8" fill="#fff" stroke="#d0e8c0" stroke-width="0.8"/>
<circle cx="176.1" cy="451.0" r="1.8" fill="#fff" stroke="#d0e8c0" stroke-width="0.8"/>
<circle cx="221.1" cy="451.0" r="1.8" fill="#fff" stroke="#d0e8c0" stroke-width="0.8"/>
<circle cx="266.1" cy="451.0" r="1.8" fill="#fff" stroke="#d0e8c0" stroke-width="0.8"/>
<polygon points="52.6,616.1 95.0,616.1 88.8,630.7 46.4,630.7" fill="#f8da92"/><path d="M73.8,616.1L67.6,630.7M52.6,616.1L67.6,630.7M73.8,616.1L46.4,630.7M73.8,616.1L88.8,630.7M95.0,616.1L67.6,630.7" stroke="#fff4dc" stroke-width="0.7" fill="none"/><circle cx="60.1" cy="623.4" r="1.7" fill="#8ea2dc"/><circle cx="81.3" cy="623.4" r="1.7" fill="#8ea2dc"/><circle cx="52.6" cy="616.1" r="1.8" fill="#f2b9a2"/><circle cx="46.4" cy="630.7" r="1.8" fill="#f2b9a2"/><circle cx="73.8" cy="616.1" r="1.8" fill="#f2b9a2"/><circle cx="67.6" cy="630.7" r="1.8" fill="#f2b9a2"/><circle cx="95.0" cy="616.1" r="1.8" fill="#f2b9a2"/><circle cx="88.8" cy="630.7" r="1.8" fill="#f2b9a2"/>
<polygon points="105.7,616.1 148.1,616.1 141.9,630.7 99.5,630.7" fill="#f8da92"/><path d="M126.9,616.1L120.7,630.7M105.7,616.1L120.7,630.7M126.9,616.1L99.5,630.7M126.9,616.1L141.9,630.7M148.1,616.1L120.7,630.7" stroke="#fff4dc" stroke-width="0.7" fill="none"/><circle cx="113.2" cy="623.4" r="1.7" fill="#8ea2dc"/><circle cx="134.4" cy="623.4" r="1.7" fill="#8ea2dc"/><circle cx="105.7" cy="616.1" r="1.8" fill="#f2b9a2"/><circle cx="99.5" cy="630.7" r="1.8" fill="#f2b9a2"/><circle cx="126.9" cy="616.1" r="1.8" fill="#f2b9a2"/><circle cx="120.7" cy="630.7" r="1.8" fill="#f2b9a2"/><circle cx="148.1" cy="616.1" r="1.8" fill="#f2b9a2"/><circle cx="141.9" cy="630.7" r="1.8" fill="#f2b9a2"/>
<polygon points="159.5,616.1 201.9,616.1 195.7,630.7 153.3,630.7" fill="#f8da92"/><path d="M180.7,616.1L174.5,630.7M159.5,616.1L174.5,630.7M180.7,616.1L153.3,630.7M180.7,616.1L195.7,630.7M201.9,616.1L174.5,630.7" stroke="#fff4dc" stroke-width="0.7" fill="none"/><circle cx="167.0" cy="623.4" r="1.7" fill="#8ea2dc"/><circle cx="188.2" cy="623.4" r="1.7" fill="#8ea2dc"/><circle cx="159.5" cy="616.1" r="1.8" fill="#f2b9a2"/><circle cx="153.3" cy="630.7" r="1.8" fill="#f2b9a2"/><circle cx="180.7" cy="616.1" r="1.8" fill="#f2b9a2"/><circle cx="174.5" cy="630.7" r="1.8" fill="#f2b9a2"/><circle cx="201.9" cy="616.1" r="1.8" fill="#f2b9a2"/><circle cx="195.7" cy="630.7" r="1.8" fill="#f2b9a2"/>
<polygon points="212.8,616.1 255.2,616.1 249.0,630.7 206.6,630.7" fill="#f8da92"/><path d="M234.0,616.1L227.8,630.7M212.8,616.1L227.8,630.7M234.0,616.1L206.6,630.7M234.0,616.1L249.0,630.7M255.2,616.1L227.8,630.7" stroke="#fff4dc" stroke-width="0.7" fill="none"/><circle cx="220.3" cy="623.4" r="1.7" fill="#8ea2dc"/><circle cx="241.5" cy="623.4" r="1.7" fill="#8ea2dc"/><circle cx="212.8" cy="616.1" r="1.8" fill="#f2b9a2"/><circle cx="206.6" cy="630.7" r="1.8" fill="#f2b9a2"/><circle cx="234.0" cy="616.1" r="1.8" fill="#f2b9a2"/><circle cx="227.8" cy="630.7" r="1.8" fill="#f2b9a2"/><circle cx="255.2" cy="616.1" r="1.8" fill="#f2b9a2"/><circle cx="249.0" cy="630.7" r="1.8" fill="#f2b9a2"/>
<polygon points="266.3,616.1 308.7,616.1 302.5,630.7 260.1,630.7" fill="#f8da92"/><path d="M287.5,616.1L281.3,630.7M266.3,616.1L281.3,630.7M287.5,616.1L260.1,630.7M287.5,616.1L302.5,630.7M308.7,616.1L281.3,630.7" stroke="#fff4dc" stroke-width="0.7" fill="none"/><circle cx="273.8" cy="623.4" r="1.7" fill="#8ea2dc"/><circle cx="295.0" cy="623.4" r="1.7" fill="#8ea2dc"/><circle cx="266.3" cy="616.1" r="1.8" fill="#f2b9a2"/><circle cx="260.1" cy="630.7" r="1.8" fill="#f2b9a2"/><circle cx="287.5" cy="616.1" r="1.8" fill="#f2b9a2"/><circle cx="281.3" cy="630.7" r="1.8" fill="#f2b9a2"/><circle cx="308.7" cy="616.1" r="1.8" fill="#f2b9a2"/><circle cx="302.5" cy="630.7" r="1.8" fill="#f2b9a2"/>
<polygon points="52.6,652.3 95.0,652.3 88.8,666.9 46.4,666.9" fill="#f8da92"/><path d="M73.8,652.3L67.6,666.9M52.6,652.3L67.6,666.9M73.8,652.3L46.4,666.9M73.8,652.3L88.8,666.9M95.0,652.3L67.6,666.9" stroke="#fff4dc" stroke-width="0.7" fill="none"/><circle cx="60.1" cy="659.6" r="1.7" fill="#8ea2dc"/><circle cx="81.3" cy="659.6" r="1.7" fill="#8ea2dc"/><circle cx="52.6" cy="652.3" r="1.8" fill="#f2b9a2"/><circle cx="46.4" cy="666.9" r="1.8" fill="#f2b9a2"/><circle cx="73.8" cy="652.3" r="1.8" fill="#f2b9a2"/><circle cx="67.6" cy="666.9" r="1.8" fill="#f2b9a2"/><circle cx="95.0" cy="652.3" r="1.8" fill="#f2b9a2"/><circle cx="88.8" cy="666.9" r="1.8" fill="#f2b9a2"/>
<polygon points="105.7,652.3 148.1,652.3 141.9,666.9 99.5,666.9" fill="#f8da92"/><path d="M126.9,652.3L120.7,666.9M105.7,652.3L120.7,666.9M126.9,652.3L99.5,666.9M126.9,652.3L141.9,666.9M148.1,652.3L120.7,666.9" stroke="#fff4dc" stroke-width="0.7" fill="none"/><circle cx="113.2" cy="659.6" r="1.7" fill="#8ea2dc"/><circle cx="134.4" cy="659.6" r="1.7" fill="#8ea2dc"/><circle cx="105.7" cy="652.3" r="1.8" fill="#f2b9a2"/><circle cx="99.5" cy="666.9" r="1.8" fill="#f2b9a2"/><circle cx="126.9" cy="652.3" r="1.8" fill="#f2b9a2"/><circle cx="120.7" cy="666.9" r="1.8" fill="#f2b9a2"/><circle cx="148.1" cy="652.3" r="1.8" fill="#f2b9a2"/><circle cx="141.9" cy="666.9" r="1.8" fill="#f2b9a2"/>
<polygon points="159.5,652.3 201.9,652.3 195.7,666.9 153.3,666.9" fill="#f8da92"/><path d="M180.7,652.3L174.5,666.9M159.5,652.3L174.5,666.9M180.7,652.3L153.3,666.9M180.7,652.3L195.7,666.9M201.9,652.3L174.5,666.9" stroke="#fff4dc" stroke-width="0.7" fill="none"/><circle cx="167.0" cy="659.6" r="1.7" fill="#8ea2dc"/><circle cx="188.2" cy="659.6" r="1.7" fill="#8ea2dc"/><circle cx="159.5" cy="652.3" r="1.8" fill="#f2b9a2"/><circle cx="153.3" cy="666.9" r="1.8" fill="#f2b9a2"/><circle cx="180.7" cy="652.3" r="1.8" fill="#f2b9a2"/><circle cx="174.5" cy="666.9" r="1.8" fill="#f2b9a2"/><circle cx="201.9" cy="652.3" r="1.8" fill="#f2b9a2"/><circle cx="195.7" cy="666.9" r="1.8" fill="#f2b9a2"/>
<polygon points="212.8,652.3 255.2,652.3 249.0,666.9 206.6,666.9" fill="#f8da92"/><path d="M234.0,652.3L227.8,666.9M212.8,652.3L227.8,666.9M234.0,652.3L206.6,666.9M234.0,652.3L249.0,666.9M255.2,652.3L227.8,666.9" stroke="#fff4dc" stroke-width="0.7" fill="none"/><circle cx="220.3" cy="659.6" r="1.7" fill="#8ea2dc"/><circle cx="241.5" cy="659.6" r="1.7" fill="#8ea2dc"/><circle cx="212.8" cy="652.3" r="1.8" fill="#f2b9a2"/><circle cx="206.6" cy="666.9" r="1.8" fill="#f2b9a2"/><circle cx="234.0" cy="652.3" r="1.8" fill="#f2b9a2"/><circle cx="227.8" cy="666.9" r="1.8" fill="#f2b9a2"/><circle cx="255.2" cy="652.3" r="1.8" fill="#f2b9a2"/><circle cx="249.0" cy="666.9" r="1.8" fill="#f2b9a2"/>
<polygon points="266.3,652.3 308.7,652.3 302.5,666.9 260.1,666.9" fill="#f8da92"/><path d="M287.5,652.3L281.3,666.9M266.3,652.3L281.3,666.9M287.5,652.3L260.1,666.9M287.5,652.3L302.5,666.9M308.7,652.3L281.3,666.9" stroke="#fff4dc" stroke-width="0.7" fill="none"/><circle cx="273.8" cy="659.6" r="1.7" fill="#8ea2dc"/><circle cx="295.0" cy="659.6" r="1.7" fill="#8ea2dc"/><circle cx="266.3" cy="652.3" r="1.8" fill="#f2b9a2"/><circle cx="260.1" cy="666.9" r="1.8" fill="#f2b9a2"/><circle cx="287.5" cy="652.3" r="1.8" fill="#f2b9a2"/><circle cx="281.3" cy="666.9" r="1.8" fill="#f2b9a2"/><circle cx="308.7" cy="652.3" r="1.8" fill="#f2b9a2"/><circle cx="302.5" cy="666.9" r="1.8" fill="#f2b9a2"/>
<polygon points="52.6,688.6 95.0,688.6 88.8,703.2 46.4,703.2" fill="#f8da92"/><path d="M73.8,688.6L67.6,703.2M52.6,688.6L67.6,703.2M73.8,688.6L46.4,703.2M73.8,688.6L88.8,703.2M95.0,688.6L67.6,703.2" stroke="#fff4dc" stroke-width="0.7" fill="none"/><circle cx="60.1" cy="695.9" r="1.7" fill="#8ea2dc"/><circle cx="81.3" cy="695.9" r="1.7" fill="#8ea2dc"/><circle cx="52.6" cy="688.6" r="1.8" fill="#f2b9a2"/><circle cx="46.4" cy="703.2" r="1.8" fill="#f2b9a2"/><circle cx="73.8" cy="688.6" r="1.8" fill="#f2b9a2"/><circle cx="67.6" cy="703.2" r="1.8" fill="#f2b9a2"/><circle cx="95.0" cy="688.6" r="1.8" fill="#f2b9a2"/><circle cx="88.8" cy="703.2" r="1.8" fill="#f2b9a2"/>
<polygon points="105.7,688.6 148.1,688.6 141.9,703.2 99.5,703.2" fill="#f8da92"/><path d="M126.9,688.6L120.7,703.2M105.7,688.6L120.7,703.2M126.9,688.6L99.5,703.2M126.9,688.6L141.9,703.2M148.1,688.6L120.7,703.2" stroke="#fff4dc" stroke-width="0.7" fill="none"/><circle cx="113.2" cy="695.9" r="1.7" fill="#8ea2dc"/><circle cx="134.4" cy="695.9" r="1.7" fill="#8ea2dc"/><circle cx="105.7" cy="688.6" r="1.8" fill="#f2b9a2"/><circle cx="99.5" cy="703.2" r="1.8" fill="#f2b9a2"/><circle cx="126.9" cy="688.6" r="1.8" fill="#f2b9a2"/><circle cx="120.7" cy="703.2" r="1.8" fill="#f2b9a2"/><circle cx="148.1" cy="688.6" r="1.8" fill="#f2b9a2"/><circle cx="141.9" cy="703.2" r="1.8" fill="#f2b9a2"/>
<polygon points="159.5,688.6 201.9,688.6 195.7,703.2 153.3,703.2" fill="#f8da92"/><path d="M180.7,688.6L174.5,703.2M159.5,688.6L174.5,703.2M180.7,688.6L153.3,703.2M180.7,688.6L195.7,703.2M201.9,688.6L174.5,703.2" stroke="#fff4dc" stroke-width="0.7" fill="none"/><circle cx="167.0" cy="695.9" r="1.7" fill="#8ea2dc"/><circle cx="188.2" cy="695.9" r="1.7" fill="#8ea2dc"/><circle cx="159.5" cy="688.6" r="1.8" fill="#f2b9a2"/><circle cx="153.3" cy="703.2" r="1.8" fill="#f2b9a2"/><circle cx="180.7" cy="688.6" r="1.8" fill="#f2b9a2"/><circle cx="174.5" cy="703.2" r="1.8" fill="#f2b9a2"/><circle cx="201.9" cy="688.6" r="1.8" fill="#f2b9a2"/><circle cx="195.7" cy="703.2" r="1.8" fill="#f2b9a2"/>
<polygon points="212.8,688.6 255.2,688.6 249.0,703.2 206.6,703.2" fill="#f8da92"/><path d="M234.0,688.6L227.8,703.2M212.8,688.6L227.8,703.2M234.0,688.6L206.6,703.2M234.0,688.6L249.0,703.2M255.2,688.6L227.8,703.2" stroke="#fff4dc" stroke-width="0.7" fill="none"/><circle cx="220.3" cy="695.9" r="1.7" fill="#8ea2dc"/><circle cx="241.5" cy="695.9" r="1.7" fill="#8ea2dc"/><circle cx="212.8" cy="688.6" r="1.8" fill="#f2b9a2"/><circle cx="206.6" cy="703.2" r="1.8" fill="#f2b9a2"/><circle cx="234.0" cy="688.6" r="1.8" fill="#f2b9a2"/><circle cx="227.8" cy="703.2" r="1.8" fill="#f2b9a2"/><circle cx="255.2" cy="688.6" r="1.8" fill="#f2b9a2"/><circle cx="249.0" cy="703.2" r="1.8" fill="#f2b9a2"/>
<polygon points="266.3,688.6 308.7,688.6 302.5,703.2 260.1,703.2" fill="#f8da92"/><path d="M287.5,688.6L281.3,703.2M266.3,688.6L281.3,703.2M287.5,688.6L260.1,703.2M287.5,688.6L302.5,703.2M308.7,688.6L281.3,703.2" stroke="#fff4dc" stroke-width="0.7" fill="none"/><circle cx="273.8" cy="695.9" r="1.7" fill="#8ea2dc"/><circle cx="295.0" cy="695.9" r="1.7" fill="#8ea2dc"/><circle cx="266.3" cy="688.6" r="1.8" fill="#f2b9a2"/><circle cx="260.1" cy="703.2" r="1.8" fill="#f2b9a2"/><circle cx="287.5" cy="688.6" r="1.8" fill="#f2b9a2"/><circle cx="281.3" cy="703.2" r="1.8" fill="#f2b9a2"/><circle cx="308.7" cy="688.6" r="1.8" fill="#f2b9a2"/><circle cx="302.5" cy="703.2" r="1.8" fill="#f2b9a2"/>
<use href="#dmso" x="61.8" y="642.2"/>
<use href="#dmso" x="83.3" y="642.2"/>
<use href="#dmso" x="114.9" y="642.2"/>
<use href="#dmso" x="136.4" y="642.2"/>
<use href="#dmso" x="168.7" y="642.2"/>
<use href="#dmso" x="190.2" y="642.2"/>
<use href="#dmso" x="222.0" y="642.2"/>
<use href="#dmso" x="243.5" y="642.2"/>
<use href="#dmso" x="275.5" y="642.2"/>
<use href="#dmso" x="297.0" y="642.2"/>
<use href="#dmso" x="61.8" y="678.5"/>
<use href="#dmso" x="83.3" y="678.5"/>
<use href="#dmso" x="114.9" y="678.5"/>
<use href="#dmso" x="136.4" y="678.5"/>
<use href="#dmso" x="168.7" y="678.5"/>
<use href="#dmso" x="190.2" y="678.5"/>
<use href="#dmso" x="222.0" y="678.5"/>
<use href="#dmso" x="243.5" y="678.5"/>
<use href="#dmso" x="275.5" y="678.5"/>
<use href="#dmso" x="297.0" y="678.5"/>
<use href="#dmso" x="61.8" y="715.3"/>
<use href="#dmso" x="83.3" y="715.3"/>
<use href="#dmso" x="114.9" y="715.3"/>
<use href="#dmso" x="136.4" y="715.3"/>
<use href="#dmso" x="168.7" y="715.3"/>
<use href="#dmso" x="190.2" y="715.3"/>
<use href="#dmso" x="222.0" y="715.3"/>
<use href="#dmso" x="243.5" y="715.3"/>
<use href="#dmso" x="275.5" y="715.3"/>
<use href="#dmso" x="297.0" y="715.3"/>
<use href="#snw" x="63.6" y="742.3"/>
<use href="#snt" x="86.1" y="742.3"/>
<use href="#snw" x="108.6" y="742.3"/>
<use href="#snt" x="131.1" y="742.3"/>
<use href="#snw" x="153.6" y="742.3"/>
<use href="#snt" x="176.1" y="742.3"/>
<use href="#snw" x="198.6" y="742.3"/>
<use href="#snt" x="221.1" y="742.3"/>
<use href="#snw" x="243.6" y="742.3"/>
<use href="#snt" x="266.1" y="742.3"/>
<use href="#snw" x="288.6" y="742.3"/>
<use href="#snt" x="63.6" y="764.4"/>
<use href="#snw" x="86.1" y="764.4"/>
<use href="#snt" x="108.6" y="764.4"/>
<use href="#snw" x="131.1" y="764.4"/>
<use href="#snt" x="153.6" y="764.4"/>
<use href="#snw" x="176.1" y="764.4"/>
<use href="#snt" x="198.6" y="764.4"/>
<use href="#snw" x="221.1" y="764.4"/>
<use href="#snt" x="243.6" y="764.4"/>
<use href="#snw" x="266.1" y="764.4"/>
<use href="#snt" x="288.6" y="764.4"/>
<use href="#snw" x="63.6" y="786.5"/>
<use href="#snt" x="86.1" y="786.5"/>
<use href="#snw" x="108.6" y="786.5"/>
<use href="#snt" x="131.1" y="786.5"/>
<use href="#snw" x="153.6" y="786.5"/>
<use href="#snt" x="176.1" y="786.5"/>
<use href="#snw" x="198.6" y="786.5"/>
<use href="#snt" x="221.1" y="786.5"/>
<use href="#snw" x="243.6" y="786.5"/>
<use href="#snt" x="266.1" y="786.5"/>
<use href="#snw" x="288.6" y="786.5"/>
<circle cx="86.1" cy="727.1" r="1.8" fill="#fff" stroke="#d0e8c0" stroke-width="0.8"/>
<circle cx="131.1" cy="727.1" r="1.8" fill="#fff" stroke="#d0e8c0" stroke-width="0.8"/>
<circle cx="176.1" cy="727.1" r="1.8" fill="#fff" stroke="#d0e8c0" stroke-width="0.8"/>
<circle cx="221.1" cy="727.1" r="1.8" fill="#fff" stroke="#d0e8c0" stroke-width="0.8"/>
<circle cx="266.1" cy="727.1" r="1.8" fill="#fff" stroke="#d0e8c0" stroke-width="0.8"/>
<use href="#idpac" x="85.4" y="728.3"/>
<use href="#idpac" x="130.4" y="728.3"/>
<use href="#idpac" x="175.4" y="728.3"/>
<use href="#idpac" x="220.4" y="728.3"/>
<use href="#idpac" x="265.4" y="728.3"/>
<text x="174.8" y="321.0" font-size="19.5" text-anchor="middle" font-weight="bold" fill="#000" >Control</text>
<text x="174.8" y="597.5" font-size="19.5" text-anchor="middle" font-weight="bold" fill="#000" >Target</text>
<polygon points="456.5,424.5 456.9,420.9 457.1,417.3 457.3,413.7 457.3,410.0 457.3,406.3 457.1,402.6 456.8,398.9 456.4,395.1 455.8,391.4 455.2,387.6 454.4,383.8 453.6,380.0 452.6,376.1 451.5,372.3 450.2,368.4 448.9,364.6 447.4,360.7 445.9,356.8 444.2,352.9 442.4,348.9 440.4,345.0 438.4,341.1 436.2,337.1 434.0,333.1 438.5,330.1 413.0,317.8 417.0,344.6 421.5,341.6 424.1,345.0 426.6,348.3 429.0,351.7 431.3,355.1 433.5,358.5 435.6,361.9 437.6,365.3 439.4,368.7 441.2,372.2 442.9,375.6 444.5,379.0 445.9,382.4 447.3,385.9 448.6,389.3 449.8,392.8 450.8,396.3 451.8,399.8 452.6,403.2 453.4,406.8 454.0,410.3 454.5,413.8 455.0,417.3 455.3,420.9 455.5,424.5" fill="#9db8e6" fill-opacity="0.72"/>
<polygon points="548.1,424.5 548.3,420.9 548.6,417.3 548.9,413.8 549.4,410.3 550.0,406.7 550.8,403.2 551.6,399.7 552.5,396.3 553.5,392.8 554.7,389.3 555.9,385.9 557.3,382.4 558.7,379.0 560.3,375.6 561.9,372.1 563.7,368.7 565.6,365.3 567.5,361.9 569.6,358.5 571.8,355.1 574.0,351.7 576.4,348.3 578.9,344.9 581.5,341.6 586.1,344.6 590.0,317.8 564.5,330.1 569.1,333.2 566.8,337.1 564.6,341.1 562.6,345.0 560.7,349.0 558.9,352.9 557.2,356.8 555.7,360.7 554.2,364.6 552.9,368.5 551.7,372.3 550.6,376.2 549.6,380.0 548.8,383.8 548.1,387.6 547.4,391.4 546.9,395.2 546.6,398.9 546.3,402.6 546.2,406.3 546.1,410.0 546.2,413.7 546.4,417.3 546.7,420.9 547.1,424.5" fill="#9db8e6" fill-opacity="0.72"/>
<polygon points="387.4,358.0 451.0,358.0 444.8,372.6 381.2,372.6" fill="#f8da92"/><path d="M408.6,358.0L402.4,372.6M429.8,358.0L423.6,372.6M387.4,358.0L402.4,372.6M408.6,358.0L381.2,372.6M408.6,358.0L423.6,372.6M429.8,358.0L402.4,372.6M429.8,358.0L444.8,372.6M451.0,358.0L423.6,372.6" stroke="#fff4dc" stroke-width="0.7" fill="none"/><circle cx="394.9" cy="365.3" r="1.7" fill="#8ea2dc"/><circle cx="416.1" cy="365.3" r="1.7" fill="#8ea2dc"/><circle cx="437.3" cy="365.3" r="1.7" fill="#8ea2dc"/><circle cx="387.4" cy="358.0" r="1.8" fill="#f2b9a2"/><circle cx="381.2" cy="372.6" r="1.8" fill="#f2b9a2"/><circle cx="408.6" cy="358.0" r="1.8" fill="#f2b9a2"/><circle cx="402.4" cy="372.6" r="1.8" fill="#f2b9a2"/><circle cx="429.8" cy="358.0" r="1.8" fill="#f2b9a2"/><circle cx="423.6" cy="372.6" r="1.8" fill="#f2b9a2"/><circle cx="451.0" cy="358.0" r="1.8" fill="#f2b9a2"/><circle cx="444.8" cy="372.6" r="1.8" fill="#f2b9a2"/>
<polygon points="384.0,391.4 447.6,391.4 441.4,406.0 377.8,406.0" fill="#f8da92"/><path d="M405.2,391.4L399.0,406.0M426.4,391.4L420.2,406.0M384.0,391.4L399.0,406.0M405.2,391.4L377.8,406.0M405.2,391.4L420.2,406.0M426.4,391.4L399.0,406.0M426.4,391.4L441.4,406.0M447.6,391.4L420.2,406.0" stroke="#fff4dc" stroke-width="0.7" fill="none"/><circle cx="391.5" cy="398.7" r="1.7" fill="#8ea2dc"/><circle cx="412.7" cy="398.7" r="1.7" fill="#8ea2dc"/><circle cx="433.9" cy="398.7" r="1.7" fill="#8ea2dc"/><circle cx="384.0" cy="391.4" r="1.8" fill="#f2b9a2"/><circle cx="377.8" cy="406.0" r="1.8" fill="#f2b9a2"/><circle cx="405.2" cy="391.4" r="1.8" fill="#f2b9a2"/><circle cx="399.0" cy="406.0" r="1.8" fill="#f2b9a2"/><circle cx="426.4" cy="391.4" r="1.8" fill="#f2b9a2"/><circle cx="420.2" cy="406.0" r="1.8" fill="#f2b9a2"/><circle cx="447.6" cy="391.4" r="1.8" fill="#f2b9a2"/><circle cx="441.4" cy="406.0" r="1.8" fill="#f2b9a2"/>
<polygon points="380.8,424.3 444.4,424.3 438.2,438.9 374.6,438.9" fill="#f8da92"/><path d="M402.0,424.3L395.8,438.9M423.2,424.3L417.0,438.9M380.8,424.3L395.8,438.9M402.0,424.3L374.6,438.9M402.0,424.3L417.0,438.9M423.2,424.3L395.8,438.9M423.2,424.3L438.2,438.9M444.4,424.3L417.0,438.9" stroke="#fff4dc" stroke-width="0.7" fill="none"/><circle cx="388.3" cy="431.6" r="1.7" fill="#8ea2dc"/><circle cx="409.5" cy="431.6" r="1.7" fill="#8ea2dc"/><circle cx="430.7" cy="431.6" r="1.7" fill="#8ea2dc"/><circle cx="380.8" cy="424.3" r="1.8" fill="#f2b9a2"/><circle cx="374.6" cy="438.9" r="1.8" fill="#f2b9a2"/><circle cx="402.0" cy="424.3" r="1.8" fill="#f2b9a2"/><circle cx="395.8" cy="438.9" r="1.8" fill="#f2b9a2"/><circle cx="423.2" cy="424.3" r="1.8" fill="#f2b9a2"/><circle cx="417.0" cy="438.9" r="1.8" fill="#f2b9a2"/><circle cx="444.4" cy="424.3" r="1.8" fill="#f2b9a2"/><circle cx="438.2" cy="438.9" r="1.8" fill="#f2b9a2"/>
<polygon points="468.6,344.4 553.4,344.4 547.2,359.0 462.4,359.0" fill="#f8da92"/><path d="M489.8,344.4L483.6,359.0M511.0,344.4L504.8,359.0M532.2,344.4L526.0,359.0M468.6,344.4L483.6,359.0M489.8,344.4L462.4,359.0M489.8,344.4L504.8,359.0M511.0,344.4L483.6,359.0M511.0,344.4L526.0,359.0M532.2,344.4L504.8,359.0M532.2,344.4L547.2,359.0M553.4,344.4L526.0,359.0" stroke="#fff4dc" stroke-width="0.7" fill="none"/><circle cx="476.1" cy="351.7" r="1.7" fill="#8ea2dc"/><circle cx="497.3" cy="351.7" r="1.7" fill="#8ea2dc"/><circle cx="518.5" cy="351.7" r="1.7" fill="#8ea2dc"/><circle cx="539.7" cy="351.7" r="1.7" fill="#8ea2dc"/><circle cx="468.6" cy="344.4" r="1.8" fill="#f2b9a2"/><circle cx="462.4" cy="359.0" r="1.8" fill="#f2b9a2"/><circle cx="489.8" cy="344.4" r="1.8" fill="#f2b9a2"/><circle cx="483.6" cy="359.0" r="1.8" fill="#f2b9a2"/><circle cx="511.0" cy="344.4" r="1.8" fill="#f2b9a2"/><circle cx="504.8" cy="359.0" r="1.8" fill="#f2b9a2"/><circle cx="532.2" cy="344.4" r="1.8" fill="#f2b9a2"/><circle cx="526.0" cy="359.0" r="1.8" fill="#f2b9a2"/><circle cx="553.4" cy="344.4" r="1.8" fill="#f2b9a2"/><circle cx="547.2" cy="359.0" r="1.8" fill="#f2b9a2"/>
<polygon points="465.3,378.9 550.1,378.9 543.9,393.5 459.1,393.5" fill="#f8da92"/><path d="M486.5,378.9L480.3,393.5M507.7,378.9L501.5,393.5M528.9,378.9L522.7,393.5M465.3,378.9L480.3,393.5M486.5,378.9L459.1,393.5M486.5,378.9L501.5,393.5M507.7,378.9L480.3,393.5M507.7,378.9L522.7,393.5M528.9,378.9L501.5,393.5M528.9,378.9L543.9,393.5M550.1,378.9L522.7,393.5" stroke="#fff4dc" stroke-width="0.7" fill="none"/><circle cx="472.8" cy="386.2" r="1.7" fill="#8ea2dc"/><circle cx="494.0" cy="386.2" r="1.7" fill="#8ea2dc"/><circle cx="515.2" cy="386.2" r="1.7" fill="#8ea2dc"/><circle cx="536.4" cy="386.2" r="1.7" fill="#8ea2dc"/><circle cx="465.3" cy="378.9" r="1.8" fill="#f2b9a2"/><circle cx="459.1" cy="393.5" r="1.8" fill="#f2b9a2"/><circle cx="486.5" cy="378.9" r="1.8" fill="#f2b9a2"/><circle cx="480.3" cy="393.5" r="1.8" fill="#f2b9a2"/><circle cx="507.7" cy="378.9" r="1.8" fill="#f2b9a2"/><circle cx="501.5" cy="393.5" r="1.8" fill="#f2b9a2"/><circle cx="528.9" cy="378.9" r="1.8" fill="#f2b9a2"/><circle cx="522.7" cy="393.5" r="1.8" fill="#f2b9a2"/><circle cx="550.1" cy="378.9" r="1.8" fill="#f2b9a2"/><circle cx="543.9" cy="393.5" r="1.8" fill="#f2b9a2"/>
<polygon points="462.0,414.0 546.8,414.0 540.6,428.6 455.8,428.6" fill="#f8da92"/><path d="M483.2,414.0L477.0,428.6M504.4,414.0L498.2,428.6M525.6,414.0L519.4,428.6M462.0,414.0L477.0,428.6M483.2,414.0L455.8,428.6M483.2,414.0L498.2,428.6M504.4,414.0L477.0,428.6M504.4,414.0L519.4,428.6M525.6,414.0L498.2,428.6M525.6,414.0L540.6,428.6M546.8,414.0L519.4,428.6" stroke="#fff4dc" stroke-width="0.7" fill="none"/><circle cx="469.5" cy="421.3" r="1.7" fill="#8ea2dc"/><circle cx="490.7" cy="421.3" r="1.7" fill="#8ea2dc"/><circle cx="511.9" cy="421.3" r="1.7" fill="#8ea2dc"/><circle cx="533.1" cy="421.3" r="1.7" fill="#8ea2dc"/><circle cx="462.0" cy="414.0" r="1.8" fill="#f2b9a2"/><circle cx="455.8" cy="428.6" r="1.8" fill="#f2b9a2"/><circle cx="483.2" cy="414.0" r="1.8" fill="#f2b9a2"/><circle cx="477.0" cy="428.6" r="1.8" fill="#f2b9a2"/><circle cx="504.4" cy="414.0" r="1.8" fill="#f2b9a2"/><circle cx="498.2" cy="428.6" r="1.8" fill="#f2b9a2"/><circle cx="525.6" cy="414.0" r="1.8" fill="#f2b9a2"/><circle cx="519.4" cy="428.6" r="1.8" fill="#f2b9a2"/><circle cx="546.8" cy="414.0" r="1.8" fill="#f2b9a2"/><circle cx="540.6" cy="428.6" r="1.8" fill="#f2b9a2"/>
<polygon points="571.8,358.0 635.4,358.0 629.2,372.6 565.6,372.6" fill="#f8da92"/><path d="M593.0,358.0L586.8,372.6M614.2,358.0L608.0,372.6M571.8,358.0L586.8,372.6M593.0,358.0L565.6,372.6M593.0,358.0L608.0,372.6M614.2,358.0L586.8,372.6M614.2,358.0L629.2,372.6M635.4,358.0L608.0,372.6" stroke="#fff4dc" stroke-width="0.7" fill="none"/><circle cx="579.3" cy="365.3" r="1.7" fill="#8ea2dc"/><circle cx="600.5" cy="365.3" r="1.7" fill="#8ea2dc"/><circle cx="621.7" cy="365.3" r="1.7" fill="#8ea2dc"/><circle cx="571.8" cy="358.0" r="1.8" fill="#f2b9a2"/><circle cx="565.6" cy="372.6" r="1.8" fill="#f2b9a2"/><circle cx="593.0" cy="358.0" r="1.8" fill="#f2b9a2"/><circle cx="586.8" cy="372.6" r="1.8" fill="#f2b9a2"/><circle cx="614.2" cy="358.0" r="1.8" fill="#f2b9a2"/><circle cx="608.0" cy="372.6" r="1.8" fill="#f2b9a2"/><circle cx="635.4" cy="358.0" r="1.8" fill="#f2b9a2"/><circle cx="629.2" cy="372.6" r="1.8" fill="#f2b9a2"/>
<polygon points="568.5,392.0 632.1,392.0 625.9,406.6 562.3,406.6" fill="#f8da92"/><path d="M589.7,392.0L583.5,406.6M610.9,392.0L604.7,406.6M568.5,392.0L583.5,406.6M589.7,392.0L562.3,406.6M589.7,392.0L604.7,406.6M610.9,392.0L583.5,406.6M610.9,392.0L625.9,406.6M632.1,392.0L604.7,406.6" stroke="#fff4dc" stroke-width="0.7" fill="none"/><circle cx="576.0" cy="399.3" r="1.7" fill="#8ea2dc"/><circle cx="597.2" cy="399.3" r="1.7" fill="#8ea2dc"/><circle cx="618.4" cy="399.3" r="1.7" fill="#8ea2dc"/><circle cx="568.5" cy="392.0" r="1.8" fill="#f2b9a2"/><circle cx="562.3" cy="406.6" r="1.8" fill="#f2b9a2"/><circle cx="589.7" cy="392.0" r="1.8" fill="#f2b9a2"/><circle cx="583.5" cy="406.6" r="1.8" fill="#f2b9a2"/><circle cx="610.9" cy="392.0" r="1.8" fill="#f2b9a2"/><circle cx="604.7" cy="406.6" r="1.8" fill="#f2b9a2"/><circle cx="632.1" cy="392.0" r="1.8" fill="#f2b9a2"/><circle cx="625.9" cy="406.6" r="1.8" fill="#f2b9a2"/>
<polygon points="563.0,426.0 626.6,426.0 620.4,440.6 556.8,440.6" fill="#f8da92"/><path d="M584.2,426.0L578.0,440.6M605.4,426.0L599.2,440.6M563.0,426.0L578.0,440.6M584.2,426.0L556.8,440.6M584.2,426.0L599.2,440.6M605.4,426.0L578.0,440.6M605.4,426.0L620.4,440.6M626.6,426.0L599.2,440.6" stroke="#fff4dc" stroke-width="0.7" fill="none"/><circle cx="570.5" cy="433.3" r="1.7" fill="#8ea2dc"/><circle cx="591.7" cy="433.3" r="1.7" fill="#8ea2dc"/><circle cx="612.9" cy="433.3" r="1.7" fill="#8ea2dc"/><circle cx="563.0" cy="426.0" r="1.8" fill="#f2b9a2"/><circle cx="556.8" cy="440.6" r="1.8" fill="#f2b9a2"/><circle cx="584.2" cy="426.0" r="1.8" fill="#f2b9a2"/><circle cx="578.0" cy="440.6" r="1.8" fill="#f2b9a2"/><circle cx="605.4" cy="426.0" r="1.8" fill="#f2b9a2"/><circle cx="599.2" cy="440.6" r="1.8" fill="#f2b9a2"/><circle cx="626.6" cy="426.0" r="1.8" fill="#f2b9a2"/><circle cx="620.4" cy="440.6" r="1.8" fill="#f2b9a2"/>
<use href="#dmso" x="414.0" y="383.0"/>
<use href="#dmso" x="413.0" y="417.0"/>
<use href="#dmso" x="414.0" y="449.0"/>
<use href="#dmso" x="493.0" y="365.0"/>
<use href="#dmso" x="517.0" y="365.0"/>
<use href="#dmso" x="491.0" y="400.0"/>
<use href="#dmso" x="516.0" y="400.0"/>
<use href="#dmso" x="598.0" y="382.0"/>
<use href="#dmso" x="595.0" y="416.0"/>
<use href="#dmso" x="583.0" y="449.0"/>
<use href="#dmso" transform="translate(423.0,332.0) rotate(40)"/>
<use href="#dmso" transform="translate(438.0,345.0) rotate(-30)"/>
<use href="#dmso" transform="translate(450.0,380.0) rotate(20)"/>
<use href="#dmso" transform="translate(456.0,405.0) rotate(-60)"/>
<use href="#dmso" transform="translate(554.0,348.0) rotate(-40)"/>
<use href="#dmso" transform="translate(565.0,370.0) rotate(30)"/>
<use href="#dmso" transform="translate(548.0,397.0) rotate(-20)"/>
<use href="#dmso" transform="translate(553.0,405.0) rotate(60)"/>
<use href="#dmso" transform="translate(587.0,322.0) rotate(30)"/>
<use href="#dmso" transform="translate(578.0,341.0) rotate(10)"/>
<use href="#dmso" x="460.0" y="439.0"/>
<use href="#dmso" transform="translate(472.0,446.0) rotate(30)"/>
<use href="#dmso" transform="translate(483.0,441.0) rotate(-40)"/>
<use href="#dmso" transform="translate(494.0,447.0) rotate(60)"/>
<use href="#dmso" transform="translate(506.0,441.0) rotate(10)"/>
<use href="#dmso" transform="translate(518.0,447.0) rotate(-30)"/>
<use href="#dmso" transform="translate(530.0,441.0) rotate(40)"/>
<use href="#dmso" x="541.0" y="446.0"/>
<use href="#dmso" transform="translate(552.0,440.0) rotate(-60)"/>
<use href="#dmso" transform="translate(566.0,448.0) rotate(20)"/>
<use href="#snw" x="393.6" y="465.6"/>
<use href="#snt" x="416.1" y="465.6"/>
<use href="#snw" x="438.6" y="465.6"/>
<use href="#snt" x="461.1" y="465.6"/>
<use href="#snw" x="483.6" y="465.6"/>
<use href="#snt" x="506.1" y="465.6"/>
<use href="#snw" x="528.6" y="465.6"/>
<use href="#snt" x="551.1" y="465.6"/>
<use href="#snw" x="573.6" y="465.6"/>
<use href="#snt" x="596.1" y="465.6"/>
<use href="#snw" x="618.6" y="465.6"/>
<use href="#snt" x="393.6" y="487.7"/>
<use href="#snw" x="416.1" y="487.7"/>
<use href="#snt" x="438.6" y="487.7"/>
<use href="#snw" x="461.1" y="487.7"/>
<use href="#snt" x="483.6" y="487.7"/>
<use href="#snw" x="506.1" y="487.7"/>
<use href="#snt" x="528.6" y="487.7"/>
<use href="#snw" x="551.1" y="487.7"/>
<use href="#snt" x="573.6" y="487.7"/>
<use href="#snw" x="596.1" y="487.7"/>
<use href="#snt" x="618.6" y="487.7"/>
<use href="#snw" x="393.6" y="509.8"/>
<use href="#snt" x="416.1" y="509.8"/>
<use href="#snw" x="438.6" y="509.8"/>
<use href="#snt" x="461.1" y="509.8"/>
<use href="#snw" x="483.6" y="509.8"/>
<use href="#snt" x="506.1" y="509.8"/>
<use href="#snw" x="528.6" y="509.8"/>
<use href="#snt" x="551.1" y="509.8"/>
<use href="#snw" x="573.6" y="509.8"/>
<use href="#snt" x="596.1" y="509.8"/>
<use href="#snw" x="618.6" y="509.8"/>
<circle cx="416.1" cy="450.4" r="1.8" fill="#fff" stroke="#d0e8c0" stroke-width="0.8"/>
<circle cx="461.1" cy="450.4" r="1.8" fill="#fff" stroke="#d0e8c0" stroke-width="0.8"/>
<circle cx="506.1" cy="450.4" r="1.8" fill="#fff" stroke="#d0e8c0" stroke-width="0.8"/>
<circle cx="551.1" cy="450.4" r="1.8" fill="#fff" stroke="#d0e8c0" stroke-width="0.8"/>
<circle cx="596.1" cy="450.4" r="1.8" fill="#fff" stroke="#d0e8c0" stroke-width="0.8"/>
<text x="506.0" y="315.5" font-size="19.5" text-anchor="middle" font-weight="bold" fill="#000" >Hard to volatilize</text>
<polygon points="461.0,716.0 461.5,711.6 462.0,707.3 462.3,702.9 462.5,698.6 462.7,694.2 462.7,689.9 462.7,685.7 462.5,681.4 462.3,677.2 461.9,673.0 461.5,668.8 460.9,664.6 460.3,660.5 459.5,656.3 458.7,652.2 457.7,648.2 456.7,644.1 455.5,640.1 454.3,636.0 452.9,632.0 451.4,628.1 449.8,624.1 448.2,620.2 446.4,616.3 455.1,611.5 427.0,599.2 425.4,627.9 434.1,623.1 436.2,626.4 438.2,629.8 440.2,633.2 442.0,636.7 443.8,640.2 445.4,643.8 447.0,647.4 448.5,651.1 449.9,654.8 451.2,658.5 452.4,662.3 453.6,666.2 454.6,670.1 455.6,674.0 456.4,678.0 457.2,682.0 457.9,686.1 458.5,690.2 459.0,694.4 459.4,698.6 459.7,702.9 459.9,707.2 460.0,711.6 460.0,716.0" fill="#9db8e6" fill-opacity="0.72"/>
<polygon points="547.0,718.0 547.1,713.5 547.3,709.2 547.6,704.8 548.0,700.6 548.5,696.3 549.1,692.1 549.8,688.0 550.6,683.9 551.6,679.9 552.6,675.9 553.7,672.0 554.9,668.1 556.2,664.2 557.6,660.4 559.2,656.7 560.8,653.0 562.5,649.4 564.3,645.8 566.2,642.2 568.2,638.7 570.3,635.2 572.5,631.8 574.8,628.4 577.2,625.1 585.6,630.5 586.0,601.5 556.9,612.2 565.4,617.6 563.3,621.5 561.3,625.4 559.4,629.4 557.6,633.4 556.0,637.4 554.4,641.5 553.0,645.5 551.7,649.6 550.5,653.7 549.5,657.9 548.5,662.0 547.6,666.2 546.9,670.4 546.3,674.6 545.8,678.9 545.4,683.1 545.1,687.4 544.9,691.7 544.8,696.1 544.8,700.4 545.0,704.8 545.2,709.2 545.5,713.6 546.0,718.0" fill="#9db8e6" fill-opacity="0.72"/>
<polygon points="387.4,638.5 451.0,638.5 444.8,653.1 381.2,653.1" fill="#f8da92"/><path d="M408.6,638.5L402.4,653.1M429.8,638.5L423.6,653.1M387.4,638.5L402.4,653.1M408.6,638.5L381.2,653.1M408.6,638.5L423.6,653.1M429.8,638.5L402.4,653.1M429.8,638.5L444.8,653.1M451.0,638.5L423.6,653.1" stroke="#fff4dc" stroke-width="0.7" fill="none"/><circle cx="394.9" cy="645.8" r="1.7" fill="#8ea2dc"/><circle cx="416.1" cy="645.8" r="1.7" fill="#8ea2dc"/><circle cx="437.3" cy="645.8" r="1.7" fill="#8ea2dc"/><circle cx="387.4" cy="638.5" r="1.8" fill="#f2b9a2"/><circle cx="381.2" cy="653.1" r="1.8" fill="#f2b9a2"/><circle cx="408.6" cy="638.5" r="1.8" fill="#f2b9a2"/><circle cx="402.4" cy="653.1" r="1.8" fill="#f2b9a2"/><circle cx="429.8" cy="638.5" r="1.8" fill="#f2b9a2"/><circle cx="423.6" cy="653.1" r="1.8" fill="#f2b9a2"/><circle cx="451.0" cy="638.5" r="1.8" fill="#f2b9a2"/><circle cx="444.8" cy="653.1" r="1.8" fill="#f2b9a2"/>
<polygon points="384.0,671.4 447.6,671.4 441.4,686.0 377.8,686.0" fill="#f8da92"/><path d="M405.2,671.4L399.0,686.0M426.4,671.4L420.2,686.0M384.0,671.4L399.0,686.0M405.2,671.4L377.8,686.0M405.2,671.4L420.2,686.0M426.4,671.4L399.0,686.0M426.4,671.4L441.4,686.0M447.6,671.4L420.2,686.0" stroke="#fff4dc" stroke-width="0.7" fill="none"/><circle cx="391.5" cy="678.7" r="1.7" fill="#8ea2dc"/><circle cx="412.7" cy="678.7" r="1.7" fill="#8ea2dc"/><circle cx="433.9" cy="678.7" r="1.7" fill="#8ea2dc"/><circle cx="384.0" cy="671.4" r="1.8" fill="#f2b9a2"/><circle cx="377.8" cy="686.0" r="1.8" fill="#f2b9a2"/><circle cx="405.2" cy="671.4" r="1.8" fill="#f2b9a2"/><circle cx="399.0" cy="686.0" r="1.8" fill="#f2b9a2"/><circle cx="426.4" cy="671.4" r="1.8" fill="#f2b9a2"/><circle cx="420.2" cy="686.0" r="1.8" fill="#f2b9a2"/><circle cx="447.6" cy="671.4" r="1.8" fill="#f2b9a2"/><circle cx="441.4" cy="686.0" r="1.8" fill="#f2b9a2"/>
<polygon points="380.8,704.3 444.4,704.3 438.2,718.9 374.6,718.9" fill="#f8da92"/><path d="M402.0,704.3L395.8,718.9M423.2,704.3L417.0,718.9M380.8,704.3L395.8,718.9M402.0,704.3L374.6,718.9M402.0,704.3L417.0,718.9M423.2,704.3L395.8,718.9M423.2,704.3L438.2,718.9M444.4,704.3L417.0,718.9" stroke="#fff4dc" stroke-width="0.7" fill="none"/><circle cx="388.3" cy="711.6" r="1.7" fill="#8ea2dc"/><circle cx="409.5" cy="711.6" r="1.7" fill="#8ea2dc"/><circle cx="430.7" cy="711.6" r="1.7" fill="#8ea2dc"/><circle cx="380.8" cy="704.3" r="1.8" fill="#f2b9a2"/><circle cx="374.6" cy="718.9" r="1.8" fill="#f2b9a2"/><circle cx="402.0" cy="704.3" r="1.8" fill="#f2b9a2"/><circle cx="395.8" cy="718.9" r="1.8" fill="#f2b9a2"/><circle cx="423.2" cy="704.3" r="1.8" fill="#f2b9a2"/><circle cx="417.0" cy="718.9" r="1.8" fill="#f2b9a2"/><circle cx="444.4" cy="704.3" r="1.8" fill="#f2b9a2"/><circle cx="438.2" cy="718.9" r="1.8" fill="#f2b9a2"/>
<polygon points="478.5,638.5 542.1,638.5 535.9,653.1 472.3,653.1" fill="#f8da92"/><path d="M499.7,638.5L493.5,653.1M520.9,638.5L514.7,653.1M478.5,638.5L493.5,653.1M499.7,638.5L472.3,653.1M499.7,638.5L514.7,653.1M520.9,638.5L493.5,653.1M520.9,638.5L535.9,653.1M542.1,638.5L514.7,653.1" stroke="#fff4dc" stroke-width="0.7" fill="none"/><circle cx="486.0" cy="645.8" r="1.7" fill="#8ea2dc"/><circle cx="507.2" cy="645.8" r="1.7" fill="#8ea2dc"/><circle cx="528.4" cy="645.8" r="1.7" fill="#8ea2dc"/><circle cx="478.5" cy="638.5" r="1.8" fill="#f2b9a2"/><circle cx="472.3" cy="653.1" r="1.8" fill="#f2b9a2"/><circle cx="499.7" cy="638.5" r="1.8" fill="#f2b9a2"/><circle cx="493.5" cy="653.1" r="1.8" fill="#f2b9a2"/><circle cx="520.9" cy="638.5" r="1.8" fill="#f2b9a2"/><circle cx="514.7" cy="653.1" r="1.8" fill="#f2b9a2"/><circle cx="542.1" cy="638.5" r="1.8" fill="#f2b9a2"/><circle cx="535.9" cy="653.1" r="1.8" fill="#f2b9a2"/>
<polygon points="474.0,672.0 537.6,672.0 531.4,686.6 467.8,686.6" fill="#f8da92"/><path d="M495.2,672.0L489.0,686.6M516.4,672.0L510.2,686.6M474.0,672.0L489.0,686.6M495.2,672.0L467.8,686.6M495.2,672.0L510.2,686.6M516.4,672.0L489.0,686.6M516.4,672.0L531.4,686.6M537.6,672.0L510.2,686.6" stroke="#fff4dc" stroke-width="0.7" fill="none"/><circle cx="481.5" cy="679.3" r="1.7" fill="#8ea2dc"/><circle cx="502.7" cy="679.3" r="1.7" fill="#8ea2dc"/><circle cx="523.9" cy="679.3" r="1.7" fill="#8ea2dc"/><circle cx="474.0" cy="672.0" r="1.8" fill="#f2b9a2"/><circle cx="467.8" cy="686.6" r="1.8" fill="#f2b9a2"/><circle cx="495.2" cy="672.0" r="1.8" fill="#f2b9a2"/><circle cx="489.0" cy="686.6" r="1.8" fill="#f2b9a2"/><circle cx="516.4" cy="672.0" r="1.8" fill="#f2b9a2"/><circle cx="510.2" cy="686.6" r="1.8" fill="#f2b9a2"/><circle cx="537.6" cy="672.0" r="1.8" fill="#f2b9a2"/><circle cx="531.4" cy="686.6" r="1.8" fill="#f2b9a2"/>
<polygon points="469.7,705.6 533.3,705.6 527.1,720.2 463.5,720.2" fill="#f8da92"/><path d="M490.9,705.6L484.7,720.2M512.1,705.6L505.9,720.2M469.7,705.6L484.7,720.2M490.9,705.6L463.5,720.2M490.9,705.6L505.9,720.2M512.1,705.6L484.7,720.2M512.1,705.6L527.1,720.2M533.3,705.6L505.9,720.2" stroke="#fff4dc" stroke-width="0.7" fill="none"/><circle cx="477.2" cy="712.9" r="1.7" fill="#8ea2dc"/><circle cx="498.4" cy="712.9" r="1.7" fill="#8ea2dc"/><circle cx="519.6" cy="712.9" r="1.7" fill="#8ea2dc"/><circle cx="469.7" cy="705.6" r="1.8" fill="#f2b9a2"/><circle cx="463.5" cy="720.2" r="1.8" fill="#f2b9a2"/><circle cx="490.9" cy="705.6" r="1.8" fill="#f2b9a2"/><circle cx="484.7" cy="720.2" r="1.8" fill="#f2b9a2"/><circle cx="512.1" cy="705.6" r="1.8" fill="#f2b9a2"/><circle cx="505.9" cy="720.2" r="1.8" fill="#f2b9a2"/><circle cx="533.3" cy="705.6" r="1.8" fill="#f2b9a2"/><circle cx="527.1" cy="720.2" r="1.8" fill="#f2b9a2"/>
<polygon points="571.8,639.0 635.4,639.0 629.2,653.6 565.6,653.6" fill="#f8da92"/><path d="M593.0,639.0L586.8,653.6M614.2,639.0L608.0,653.6M571.8,639.0L586.8,653.6M593.0,639.0L565.6,653.6M593.0,639.0L608.0,653.6M614.2,639.0L586.8,653.6M614.2,639.0L629.2,653.6M635.4,639.0L608.0,653.6" stroke="#fff4dc" stroke-width="0.7" fill="none"/><circle cx="579.3" cy="646.3" r="1.7" fill="#8ea2dc"/><circle cx="600.5" cy="646.3" r="1.7" fill="#8ea2dc"/><circle cx="621.7" cy="646.3" r="1.7" fill="#8ea2dc"/><circle cx="571.8" cy="639.0" r="1.8" fill="#f2b9a2"/><circle cx="565.6" cy="653.6" r="1.8" fill="#f2b9a2"/><circle cx="593.0" cy="639.0" r="1.8" fill="#f2b9a2"/><circle cx="586.8" cy="653.6" r="1.8" fill="#f2b9a2"/><circle cx="614.2" cy="639.0" r="1.8" fill="#f2b9a2"/><circle cx="608.0" cy="653.6" r="1.8" fill="#f2b9a2"/><circle cx="635.4" cy="639.0" r="1.8" fill="#f2b9a2"/><circle cx="629.2" cy="653.6" r="1.8" fill="#f2b9a2"/>
<polygon points="567.4,672.7 631.0,672.7 624.8,687.3 561.2,687.3" fill="#f8da92"/><path d="M588.6,672.7L582.4,687.3M609.8,672.7L603.6,687.3M567.4,672.7L582.4,687.3M588.6,672.7L561.2,687.3M588.6,672.7L603.6,687.3M609.8,672.7L582.4,687.3M609.8,672.7L624.8,687.3M631.0,672.7L603.6,687.3" stroke="#fff4dc" stroke-width="0.7" fill="none"/><circle cx="574.9" cy="680.0" r="1.7" fill="#8ea2dc"/><circle cx="596.1" cy="680.0" r="1.7" fill="#8ea2dc"/><circle cx="617.3" cy="680.0" r="1.7" fill="#8ea2dc"/><circle cx="567.4" cy="672.7" r="1.8" fill="#f2b9a2"/><circle cx="561.2" cy="687.3" r="1.8" fill="#f2b9a2"/><circle cx="588.6" cy="672.7" r="1.8" fill="#f2b9a2"/><circle cx="582.4" cy="687.3" r="1.8" fill="#f2b9a2"/><circle cx="609.8" cy="672.7" r="1.8" fill="#f2b9a2"/><circle cx="603.6" cy="687.3" r="1.8" fill="#f2b9a2"/><circle cx="631.0" cy="672.7" r="1.8" fill="#f2b9a2"/><circle cx="624.8" cy="687.3" r="1.8" fill="#f2b9a2"/>
<polygon points="560.8,705.6 624.4,705.6 618.2,720.2 554.6,720.2" fill="#f8da92"/><path d="M582.0,705.6L575.8,720.2M603.2,705.6L597.0,720.2M560.8,705.6L575.8,720.2M582.0,705.6L554.6,720.2M582.0,705.6L597.0,720.2M603.2,705.6L575.8,720.2M603.2,705.6L618.2,720.2M624.4,705.6L597.0,720.2" stroke="#fff4dc" stroke-width="0.7" fill="none"/><circle cx="568.3" cy="712.9" r="1.7" fill="#8ea2dc"/><circle cx="589.5" cy="712.9" r="1.7" fill="#8ea2dc"/><circle cx="610.7" cy="712.9" r="1.7" fill="#8ea2dc"/><circle cx="560.8" cy="705.6" r="1.8" fill="#f2b9a2"/><circle cx="554.6" cy="720.2" r="1.8" fill="#f2b9a2"/><circle cx="582.0" cy="705.6" r="1.8" fill="#f2b9a2"/><circle cx="575.8" cy="720.2" r="1.8" fill="#f2b9a2"/><circle cx="603.2" cy="705.6" r="1.8" fill="#f2b9a2"/><circle cx="597.0" cy="720.2" r="1.8" fill="#f2b9a2"/><circle cx="624.4" cy="705.6" r="1.8" fill="#f2b9a2"/><circle cx="618.2" cy="720.2" r="1.8" fill="#f2b9a2"/>
<use href="#dmso" x="413.5" y="661.0"/>
<use href="#dmso" x="413.0" y="694.0"/>
<use href="#dmso" x="502.0" y="662.0"/>
<use href="#dmso" x="500.0" y="696.0"/>
<use href="#dmso" x="598.5" y="662.0"/>
<use href="#dmso" x="595.0" y="695.0"/>
<use href="#dmso" transform="translate(431.0,613.0) rotate(-40)"/>
<use href="#dmso" transform="translate(575.0,618.0) rotate(40)"/>
<use href="#dmso" transform="translate(442.1,625.4) rotate(30)"/>
<use href="#dmso" transform="translate(574.7,629.8) rotate(-30)"/>
<use href="#dmso" transform="translate(439.3,637.8) rotate(-40)"/>
<use href="#dmso" transform="translate(564.8,641.5) rotate(40)"/>
<use href="#dmso" transform="translate(448.1,650.1) rotate(30)"/>
<use href="#dmso" transform="translate(567.4,653.2) rotate(-30)"/>
<use href="#dmso" transform="translate(444.5,662.5) rotate(-40)"/>
<use href="#dmso" transform="translate(558.4,665.0) rotate(40)"/>
<use href="#dmso" transform="translate(452.8,674.9) rotate(30)"/>
<use href="#dmso" transform="translate(561.6,676.8) rotate(-30)"/>
<use href="#dmso" transform="translate(449.0,687.2) rotate(-40)"/>
<use href="#dmso" transform="translate(552.9,688.5) rotate(40)"/>
<use href="#dmso" transform="translate(457.0,699.6) rotate(30)"/>
<use href="#dmso" transform="translate(556.4,700.2) rotate(-30)"/>
<use href="#dmso" transform="translate(453.0,712.0) rotate(-40)"/>
<use href="#dmso" transform="translate(548.0,712.0) rotate(40)"/>
<use href="#snw" x="394.7" y="743.4"/>
<use href="#snt" x="417.2" y="743.4"/>
<use href="#snw" x="439.7" y="743.4"/>
<use href="#snt" x="462.2" y="743.4"/>
<use href="#snw" x="484.7" y="743.4"/>
<use href="#snt" x="507.2" y="743.4"/>
<use href="#snw" x="529.7" y="743.4"/>
<use href="#snt" x="552.2" y="743.4"/>
<use href="#snw" x="574.7" y="743.4"/>
<use href="#snt" x="597.2" y="743.4"/>
<use href="#snw" x="619.7" y="743.4"/>
<use href="#snt" x="394.7" y="765.5"/>
<use href="#snw" x="417.2" y="765.5"/>
<use href="#snt" x="439.7" y="765.5"/>
<use href="#snw" x="462.2" y="765.5"/>
<use href="#snt" x="484.7" y="765.5"/>
<use href="#snw" x="507.2" y="765.5"/>
<use href="#snt" x="529.7" y="765.5"/>
<use href="#snw" x="552.2" y="765.5"/>
<use href="#snt" x="574.7" y="765.5"/>
<use href="#snw" x="597.2" y="765.5"/>
<use href="#snt" x="619.7" y="765.5"/>
<use href="#snw" x="394.7" y="787.6"/>
<use href="#snt" x="417.2" y="787.6"/>
<use href="#snw" x="439.7" y="787.6"/>
<use href="#snt" x="462.2" y="787.6"/>
<use href="#snw" x="484.7" y="787.6"/>
<use href="#snt" x="507.2" y="787.6"/>
<use href="#snw" x="529.7" y="787.6"/>
<use href="#snt" x="552.2" y="787.6"/>
<use href="#snw" x="574.7" y="787.6"/>
<use href="#snt" x="597.2" y="787.6"/>
<use href="#snw" x="619.7" y="787.6"/>
<use href="#idpac" x="416.5" y="729.4"/>
<use href="#idpac" x="461.5" y="729.4"/>
<use href="#idpac" x="506.5" y="729.4"/>
<use href="#idpac" x="551.5" y="729.4"/>
<use href="#idpac" x="596.5" y="729.4"/>
<text x="512.5" y="595.0" font-size="19.5" text-anchor="middle" font-weight="bold" fill="#000" >Larger pores</text>
<polygon points="729.3,349.5 721.4,363.0 729.3,376.5 721.4,390.0 729.3,403.5 721.4,417.0 705.1,417.0 713.5,403.5 705.1,390.0 713.5,376.5 705.1,363.0 713.5,349.5" fill="#d5d8c2"/><path d="M713.5,349.5L721.4,363.0M705.1,363.0L729.3,349.5M705.1,363.0L729.3,376.5M713.5,376.5L721.4,363.0M713.5,376.5L721.4,390.0M705.1,390.0L729.3,376.5M705.1,390.0L729.3,403.5M713.5,403.5L721.4,390.0M713.5,403.5L721.4,417.0M705.1,417.0L729.3,403.5" stroke="#f4f5ec" stroke-width="0.6"/><circle cx="717.4" cy="356.2" r="1.6" fill="#8e9fda"/><circle cx="717.4" cy="369.8" r="1.6" fill="#8e9fda"/><circle cx="717.4" cy="383.2" r="1.6" fill="#8e9fda"/><circle cx="717.4" cy="396.8" r="1.6" fill="#8e9fda"/><circle cx="717.4" cy="410.2" r="1.6" fill="#8e9fda"/><circle cx="729.3" cy="349.5" r="1.7" fill="#f1b9a0"/><circle cx="721.4" cy="363.0" r="1.7" fill="#f1b9a0"/><circle cx="729.3" cy="376.5" r="1.7" fill="#f1b9a0"/><circle cx="721.4" cy="390.0" r="1.7" fill="#f1b9a0"/><circle cx="729.3" cy="403.5" r="1.7" fill="#f1b9a0"/><circle cx="721.4" cy="417.0" r="1.7" fill="#f1b9a0"/><circle cx="713.5" cy="349.5" r="1.7" fill="#f1b9a0"/><circle cx="705.1" cy="363.0" r="1.7" fill="#f1b9a0"/><circle cx="713.5" cy="376.5" r="1.7" fill="#f1b9a0"/><circle cx="705.1" cy="390.0" r="1.7" fill="#f1b9a0"/><circle cx="713.5" cy="403.5" r="1.7" fill="#f1b9a0"/><circle cx="705.1" cy="417.0" r="1.7" fill="#f1b9a0"/>
<polygon points="764.4,349.5 756.5,363.0 764.4,376.5 756.5,390.0 764.4,403.5 756.5,417.0 740.2,417.0 748.6,403.5 740.2,390.0 748.6,376.5 740.2,363.0 748.6,349.5" fill="#d5d8c2"/><path d="M748.6,349.5L756.5,363.0M740.2,363.0L764.4,349.5M740.2,363.0L764.4,376.5M748.6,376.5L756.5,363.0M748.6,376.5L756.5,390.0M740.2,390.0L764.4,376.5M740.2,390.0L764.4,403.5M748.6,403.5L756.5,390.0M748.6,403.5L756.5,417.0M740.2,417.0L764.4,403.5" stroke="#f4f5ec" stroke-width="0.6"/><circle cx="752.5" cy="356.2" r="1.6" fill="#8e9fda"/><circle cx="752.5" cy="369.8" r="1.6" fill="#8e9fda"/><circle cx="752.5" cy="383.2" r="1.6" fill="#8e9fda"/><circle cx="752.5" cy="396.8" r="1.6" fill="#8e9fda"/><circle cx="752.5" cy="410.2" r="1.6" fill="#8e9fda"/><circle cx="764.4" cy="349.5" r="1.7" fill="#f1b9a0"/><circle cx="756.5" cy="363.0" r="1.7" fill="#f1b9a0"/><circle cx="764.4" cy="376.5" r="1.7" fill="#f1b9a0"/><circle cx="756.5" cy="390.0" r="1.7" fill="#f1b9a0"/><circle cx="764.4" cy="403.5" r="1.7" fill="#f1b9a0"/><circle cx="756.5" cy="417.0" r="1.7" fill="#f1b9a0"/><circle cx="748.6" cy="349.5" r="1.7" fill="#f1b9a0"/><circle cx="740.2" cy="363.0" r="1.7" fill="#f1b9a0"/><circle cx="748.6" cy="376.5" r="1.7" fill="#f1b9a0"/><circle cx="740.2" cy="390.0" r="1.7" fill="#f1b9a0"/><circle cx="748.6" cy="403.5" r="1.7" fill="#f1b9a0"/><circle cx="740.2" cy="417.0" r="1.7" fill="#f1b9a0"/>
<polygon points="808.3,332.0 800.4,345.5 808.3,359.0 800.4,372.5 784.1,372.5 792.5,359.0 784.1,345.5 792.5,332.0" fill="#d5d8c2"/><path d="M792.5,332.0L800.4,345.5M784.1,345.5L808.3,332.0M784.1,345.5L808.3,359.0M792.5,359.0L800.4,345.5M792.5,359.0L800.4,372.5M784.1,372.5L808.3,359.0" stroke="#f4f5ec" stroke-width="0.6"/><circle cx="796.4" cy="338.8" r="1.6" fill="#8e9fda"/><circle cx="796.4" cy="352.2" r="1.6" fill="#8e9fda"/><circle cx="796.4" cy="365.8" r="1.6" fill="#8e9fda"/><circle cx="808.3" cy="332.0" r="1.7" fill="#f1b9a0"/><circle cx="800.4" cy="345.5" r="1.7" fill="#f1b9a0"/><circle cx="808.3" cy="359.0" r="1.7" fill="#f1b9a0"/><circle cx="800.4" cy="372.5" r="1.7" fill="#f1b9a0"/><circle cx="792.5" cy="332.0" r="1.7" fill="#f1b9a0"/><circle cx="784.1" cy="345.5" r="1.7" fill="#f1b9a0"/><circle cx="792.5" cy="359.0" r="1.7" fill="#f1b9a0"/><circle cx="784.1" cy="372.5" r="1.7" fill="#f1b9a0"/>
<polygon points="842.3,332.0 834.4,345.5 842.3,359.0 834.4,372.5 818.1,372.5 826.5,359.0 818.1,345.5 826.5,332.0" fill="#d5d8c2"/><path d="M826.5,332.0L834.4,345.5M818.1,345.5L842.3,332.0M818.1,345.5L842.3,359.0M826.5,359.0L834.4,345.5M826.5,359.0L834.4,372.5M818.1,372.5L842.3,359.0" stroke="#f4f5ec" stroke-width="0.6"/><circle cx="830.4" cy="338.8" r="1.6" fill="#8e9fda"/><circle cx="830.4" cy="352.2" r="1.6" fill="#8e9fda"/><circle cx="830.4" cy="365.8" r="1.6" fill="#8e9fda"/><circle cx="842.3" cy="332.0" r="1.7" fill="#f1b9a0"/><circle cx="834.4" cy="345.5" r="1.7" fill="#f1b9a0"/><circle cx="842.3" cy="359.0" r="1.7" fill="#f1b9a0"/><circle cx="834.4" cy="372.5" r="1.7" fill="#f1b9a0"/><circle cx="826.5" cy="332.0" r="1.7" fill="#f1b9a0"/><circle cx="818.1" cy="345.5" r="1.7" fill="#f1b9a0"/><circle cx="826.5" cy="359.0" r="1.7" fill="#f1b9a0"/><circle cx="818.1" cy="372.5" r="1.7" fill="#f1b9a0"/>
<polygon points="877.5,332.0 869.6,345.5 877.5,359.0 869.6,372.5 853.3,372.5 861.7,359.0 853.3,345.5 861.7,332.0" fill="#d5d8c2"/><path d="M861.7,332.0L869.6,345.5M853.3,345.5L877.5,332.0M853.3,345.5L877.5,359.0M861.7,359.0L869.6,345.5M861.7,359.0L869.6,372.5M853.3,372.5L877.5,359.0" stroke="#f4f5ec" stroke-width="0.6"/><circle cx="865.6" cy="338.8" r="1.6" fill="#8e9fda"/><circle cx="865.6" cy="352.2" r="1.6" fill="#8e9fda"/><circle cx="865.6" cy="365.8" r="1.6" fill="#8e9fda"/><circle cx="877.5" cy="332.0" r="1.7" fill="#f1b9a0"/><circle cx="869.6" cy="345.5" r="1.7" fill="#f1b9a0"/><circle cx="877.5" cy="359.0" r="1.7" fill="#f1b9a0"/><circle cx="869.6" cy="372.5" r="1.7" fill="#f1b9a0"/><circle cx="861.7" cy="332.0" r="1.7" fill="#f1b9a0"/><circle cx="853.3" cy="345.5" r="1.7" fill="#f1b9a0"/><circle cx="861.7" cy="359.0" r="1.7" fill="#f1b9a0"/><circle cx="853.3" cy="372.5" r="1.7" fill="#f1b9a0"/>
<polygon points="914.8,351.5 906.9,365.0 914.8,378.5 906.9,392.0 914.8,405.5 906.9,419.0 890.6,419.0 899.0,405.5 890.6,392.0 899.0,378.5 890.6,365.0 899.0,351.5" fill="#d5d8c2"/><path d="M899.0,351.5L906.9,365.0M890.6,365.0L914.8,351.5M890.6,365.0L914.8,378.5M899.0,378.5L906.9,365.0M899.0,378.5L906.9,392.0M890.6,392.0L914.8,378.5M890.6,392.0L914.8,405.5M899.0,405.5L906.9,392.0M899.0,405.5L906.9,419.0M890.6,419.0L914.8,405.5" stroke="#f4f5ec" stroke-width="0.6"/><circle cx="902.9" cy="358.2" r="1.6" fill="#8e9fda"/><circle cx="902.9" cy="371.8" r="1.6" fill="#8e9fda"/><circle cx="902.9" cy="385.2" r="1.6" fill="#8e9fda"/><circle cx="902.9" cy="398.8" r="1.6" fill="#8e9fda"/><circle cx="902.9" cy="412.2" r="1.6" fill="#8e9fda"/><circle cx="914.8" cy="351.5" r="1.7" fill="#f1b9a0"/><circle cx="906.9" cy="365.0" r="1.7" fill="#f1b9a0"/><circle cx="914.8" cy="378.5" r="1.7" fill="#f1b9a0"/><circle cx="906.9" cy="392.0" r="1.7" fill="#f1b9a0"/><circle cx="914.8" cy="405.5" r="1.7" fill="#f1b9a0"/><circle cx="906.9" cy="419.0" r="1.7" fill="#f1b9a0"/><circle cx="899.0" cy="351.5" r="1.7" fill="#f1b9a0"/><circle cx="890.6" cy="365.0" r="1.7" fill="#f1b9a0"/><circle cx="899.0" cy="378.5" r="1.7" fill="#f1b9a0"/><circle cx="890.6" cy="392.0" r="1.7" fill="#f1b9a0"/><circle cx="899.0" cy="405.5" r="1.7" fill="#f1b9a0"/><circle cx="890.6" cy="419.0" r="1.7" fill="#f1b9a0"/>
<polygon points="949.9,351.5 942.0,365.0 949.9,378.5 942.0,392.0 949.9,405.5 942.0,419.0 925.7,419.0 934.1,405.5 925.7,392.0 934.1,378.5 925.7,365.0 934.1,351.5" fill="#d5d8c2"/><path d="M934.1,351.5L942.0,365.0M925.7,365.0L949.9,351.5M925.7,365.0L949.9,378.5M934.1,378.5L942.0,365.0M934.1,378.5L942.0,392.0M925.7,392.0L949.9,378.5M925.7,392.0L949.9,405.5M934.1,405.5L942.0,392.0M934.1,405.5L942.0,419.0M925.7,419.0L949.9,405.5" stroke="#f4f5ec" stroke-width="0.6"/><circle cx="938.0" cy="358.2" r="1.6" fill="#8e9fda"/><circle cx="938.0" cy="371.8" r="1.6" fill="#8e9fda"/><circle cx="938.0" cy="385.2" r="1.6" fill="#8e9fda"/><circle cx="938.0" cy="398.8" r="1.6" fill="#8e9fda"/><circle cx="938.0" cy="412.2" r="1.6" fill="#8e9fda"/><circle cx="949.9" cy="351.5" r="1.7" fill="#f1b9a0"/><circle cx="942.0" cy="365.0" r="1.7" fill="#f1b9a0"/><circle cx="949.9" cy="378.5" r="1.7" fill="#f1b9a0"/><circle cx="942.0" cy="392.0" r="1.7" fill="#f1b9a0"/><circle cx="949.9" cy="405.5" r="1.7" fill="#f1b9a0"/><circle cx="942.0" cy="419.0" r="1.7" fill="#f1b9a0"/><circle cx="934.1" cy="351.5" r="1.7" fill="#f1b9a0"/><circle cx="925.7" cy="365.0" r="1.7" fill="#f1b9a0"/><circle cx="934.1" cy="378.5" r="1.7" fill="#f1b9a0"/><circle cx="925.7" cy="392.0" r="1.7" fill="#f1b9a0"/><circle cx="934.1" cy="405.5" r="1.7" fill="#f1b9a0"/><circle cx="925.7" cy="419.0" r="1.7" fill="#f1b9a0"/>
<use href="#fai" transform="translate(698.0,355.0) rotate(90)"/>
<use href="#fai" transform="translate(702.0,368.5) rotate(90)"/>
<use href="#fai" transform="translate(698.0,382.0) rotate(90)"/>
<use href="#fai" transform="translate(702.0,395.5) rotate(90)"/>
<use href="#fai" transform="translate(698.0,409.0) rotate(90)"/>
<use href="#fai" transform="translate(733.0,355.0) rotate(90)"/>
<use href="#fai" transform="translate(737.0,368.5) rotate(90)"/>
<use href="#fai" transform="translate(733.0,382.0) rotate(90)"/>
<use href="#fai" transform="translate(737.0,395.5) rotate(90)"/>
<use href="#fai" transform="translate(733.0,409.0) rotate(90)"/>
<use href="#fai" transform="translate(768.0,355.0) rotate(90)"/>
<use href="#fai" transform="translate(772.0,368.5) rotate(90)"/>
<use href="#fai" transform="translate(768.0,382.0) rotate(90)"/>
<use href="#fai" transform="translate(772.0,395.5) rotate(90)"/>
<use href="#fai" transform="translate(768.0,409.0) rotate(90)"/>
<use href="#fai" transform="translate(777.0,332.0) rotate(90)"/>
<use href="#fai" transform="translate(781.0,345.5) rotate(90)"/>
<use href="#fai" transform="translate(777.0,359.0) rotate(90)"/>
<use href="#fai" transform="translate(811.0,332.0) rotate(90)"/>
<use href="#fai" transform="translate(815.0,345.5) rotate(90)"/>
<use href="#fai" transform="translate(811.0,359.0) rotate(90)"/>
<use href="#fai" transform="translate(846.0,332.0) rotate(90)"/>
<use href="#fai" transform="translate(850.0,345.5) rotate(90)"/>
<use href="#fai" transform="translate(846.0,359.0) rotate(90)"/>
<use href="#fai" transform="translate(881.0,332.0) rotate(90)"/>
<use href="#fai" transform="translate(885.0,345.5) rotate(90)"/>
<use href="#fai" transform="translate(881.0,359.0) rotate(90)"/>
<use href="#fai" transform="translate(883.0,355.0) rotate(90)"/>
<use href="#fai" transform="translate(887.0,368.5) rotate(90)"/>
<use href="#fai" transform="translate(883.0,382.0) rotate(90)"/>
<use href="#fai" transform="translate(887.0,395.5) rotate(90)"/>
<use href="#fai" transform="translate(883.0,409.0) rotate(90)"/>
<use href="#fai" transform="translate(918.0,355.0) rotate(90)"/>
<use href="#fai" transform="translate(922.0,368.5) rotate(90)"/>
<use href="#fai" transform="translate(918.0,382.0) rotate(90)"/>
<use href="#fai" transform="translate(922.0,395.5) rotate(90)"/>
<use href="#fai" transform="translate(918.0,409.0) rotate(90)"/>
<use href="#fai" transform="translate(953.0,355.0) rotate(90)"/>
<use href="#fai" transform="translate(957.0,368.5) rotate(90)"/>
<use href="#fai" transform="translate(953.0,382.0) rotate(90)"/>
<use href="#fai" transform="translate(957.0,395.5) rotate(90)"/>
<use href="#fai" transform="translate(953.0,409.0) rotate(90)"/>
<polygon points="786.6,383.3 871.4,383.3 865.2,397.9 780.4,397.9" fill="#f8da92"/><path d="M807.8,383.3L801.6,397.9M829.0,383.3L822.8,397.9M850.2,383.3L844.0,397.9M786.6,383.3L801.6,397.9M807.8,383.3L780.4,397.9M807.8,383.3L822.8,397.9M829.0,383.3L801.6,397.9M829.0,383.3L844.0,397.9M850.2,383.3L822.8,397.9M850.2,383.3L865.2,397.9M871.4,383.3L844.0,397.9" stroke="#fff4dc" stroke-width="0.7" fill="none"/><circle cx="794.1" cy="390.6" r="1.7" fill="#8ea2dc"/><circle cx="815.3" cy="390.6" r="1.7" fill="#8ea2dc"/><circle cx="836.5" cy="390.6" r="1.7" fill="#8ea2dc"/><circle cx="857.7" cy="390.6" r="1.7" fill="#8ea2dc"/><circle cx="786.6" cy="383.3" r="1.8" fill="#f2b9a2"/><circle cx="780.4" cy="397.9" r="1.8" fill="#f2b9a2"/><circle cx="807.8" cy="383.3" r="1.8" fill="#f2b9a2"/><circle cx="801.6" cy="397.9" r="1.8" fill="#f2b9a2"/><circle cx="829.0" cy="383.3" r="1.8" fill="#f2b9a2"/><circle cx="822.8" cy="397.9" r="1.8" fill="#f2b9a2"/><circle cx="850.2" cy="383.3" r="1.8" fill="#f2b9a2"/><circle cx="844.0" cy="397.9" r="1.8" fill="#f2b9a2"/><circle cx="871.4" cy="383.3" r="1.8" fill="#f2b9a2"/><circle cx="865.2" cy="397.9" r="1.8" fill="#f2b9a2"/>
<polygon points="784.4,415.0 869.2,415.0 863.0,429.6 778.2,429.6" fill="#f8da92"/><path d="M805.6,415.0L799.4,429.6M826.8,415.0L820.6,429.6M848.0,415.0L841.8,429.6M784.4,415.0L799.4,429.6M805.6,415.0L778.2,429.6M805.6,415.0L820.6,429.6M826.8,415.0L799.4,429.6M826.8,415.0L841.8,429.6M848.0,415.0L820.6,429.6M848.0,415.0L863.0,429.6M869.2,415.0L841.8,429.6" stroke="#fff4dc" stroke-width="0.7" fill="none"/><circle cx="791.9" cy="422.3" r="1.7" fill="#8ea2dc"/><circle cx="813.1" cy="422.3" r="1.7" fill="#8ea2dc"/><circle cx="834.3" cy="422.3" r="1.7" fill="#8ea2dc"/><circle cx="855.5" cy="422.3" r="1.7" fill="#8ea2dc"/><circle cx="784.4" cy="415.0" r="1.8" fill="#f2b9a2"/><circle cx="778.2" cy="429.6" r="1.8" fill="#f2b9a2"/><circle cx="805.6" cy="415.0" r="1.8" fill="#f2b9a2"/><circle cx="799.4" cy="429.6" r="1.8" fill="#f2b9a2"/><circle cx="826.8" cy="415.0" r="1.8" fill="#f2b9a2"/><circle cx="820.6" cy="429.6" r="1.8" fill="#f2b9a2"/><circle cx="848.0" cy="415.0" r="1.8" fill="#f2b9a2"/><circle cx="841.8" cy="429.6" r="1.8" fill="#f2b9a2"/><circle cx="869.2" cy="415.0" r="1.8" fill="#f2b9a2"/><circle cx="863.0" cy="429.6" r="1.8" fill="#f2b9a2"/>
<polygon points="705.4,426.0 769.0,426.0 762.8,440.6 699.2,440.6" fill="#f8da92"/><path d="M726.6,426.0L720.4,440.6M747.8,426.0L741.6,440.6M705.4,426.0L720.4,440.6M726.6,426.0L699.2,440.6M726.6,426.0L741.6,440.6M747.8,426.0L720.4,440.6M747.8,426.0L762.8,440.6M769.0,426.0L741.6,440.6" stroke="#fff4dc" stroke-width="0.7" fill="none"/><circle cx="712.9" cy="433.3" r="1.7" fill="#8ea2dc"/><circle cx="734.1" cy="433.3" r="1.7" fill="#8ea2dc"/><circle cx="755.3" cy="433.3" r="1.7" fill="#8ea2dc"/><circle cx="705.4" cy="426.0" r="1.8" fill="#f2b9a2"/><circle cx="699.2" cy="440.6" r="1.8" fill="#f2b9a2"/><circle cx="726.6" cy="426.0" r="1.8" fill="#f2b9a2"/><circle cx="720.4" cy="440.6" r="1.8" fill="#f2b9a2"/><circle cx="747.8" cy="426.0" r="1.8" fill="#f2b9a2"/><circle cx="741.6" cy="440.6" r="1.8" fill="#f2b9a2"/><circle cx="769.0" cy="426.0" r="1.8" fill="#f2b9a2"/><circle cx="762.8" cy="440.6" r="1.8" fill="#f2b9a2"/>
<polygon points="885.3,427.8 948.9,427.8 942.7,442.4 879.1,442.4" fill="#f8da92"/><path d="M906.5,427.8L900.3,442.4M927.7,427.8L921.5,442.4M885.3,427.8L900.3,442.4M906.5,427.8L879.1,442.4M906.5,427.8L921.5,442.4M927.7,427.8L900.3,442.4M927.7,427.8L942.7,442.4M948.9,427.8L921.5,442.4" stroke="#fff4dc" stroke-width="0.7" fill="none"/><circle cx="892.8" cy="435.1" r="1.7" fill="#8ea2dc"/><circle cx="914.0" cy="435.1" r="1.7" fill="#8ea2dc"/><circle cx="935.2" cy="435.1" r="1.7" fill="#8ea2dc"/><circle cx="885.3" cy="427.8" r="1.8" fill="#f2b9a2"/><circle cx="879.1" cy="442.4" r="1.8" fill="#f2b9a2"/><circle cx="906.5" cy="427.8" r="1.8" fill="#f2b9a2"/><circle cx="900.3" cy="442.4" r="1.8" fill="#f2b9a2"/><circle cx="927.7" cy="427.8" r="1.8" fill="#f2b9a2"/><circle cx="921.5" cy="442.4" r="1.8" fill="#f2b9a2"/><circle cx="948.9" cy="427.8" r="1.8" fill="#f2b9a2"/><circle cx="942.7" cy="442.4" r="1.8" fill="#f2b9a2"/>
<use href="#dmso" x="818.0" y="408.0"/>
<use href="#dmso" x="846.0" y="408.0"/>
<use href="#fai" transform="translate(795.0,411.0) rotate(0)"/>
<use href="#fai" transform="translate(867.0,411.0) rotate(0)"/>
<use href="#dmso" x="777.0" y="447.0"/>
<use href="#dmso" transform="translate(789.0,441.0) rotate(30)"/>
<use href="#dmso" transform="translate(800.0,448.0) rotate(-40)"/>
<use href="#dmso" transform="translate(812.0,441.0) rotate(60)"/>
<use href="#dmso" transform="translate(823.0,447.0) rotate(10)"/>
<use href="#dmso" transform="translate(835.0,441.0) rotate(-30)"/>
<use href="#dmso" transform="translate(846.0,447.0) rotate(40)"/>
<use href="#dmso" x="858.0" y="441.0"/>
<polygon points="735.7,312.9 737.9,315.0 740.0,317.3 742.0,319.7 743.9,322.2 745.8,324.9 747.6,327.6 749.3,330.5 751.0,333.5 752.5,336.7 754.0,339.9 755.5,343.3 756.8,346.8 758.1,350.4 759.3,354.2 760.5,358.1 761.6,362.1 762.6,366.2 763.5,370.5 764.4,374.9 765.2,379.5 766.0,384.1 766.6,388.9 767.3,393.9 767.8,398.9 762.8,399.6 776.4,422.4 784.6,396.5 779.7,397.2 778.6,392.0 777.5,387.0 776.4,382.0 775.1,377.3 773.8,372.6 772.5,368.1 771.0,363.8 769.5,359.6 767.9,355.5 766.3,351.6 764.5,347.8 762.8,344.2 760.9,340.7 759.0,337.4 757.0,334.2 754.9,331.1 752.8,328.2 750.6,325.5 748.4,322.9 746.1,320.4 743.7,318.1 741.3,316.0 738.8,314.0 736.3,312.1" fill="#ef7f86" fill-opacity="0.85"/>
<polygon points="916.7,312.1 914.2,314.0 911.7,316.0 909.3,318.1 906.9,320.4 904.6,322.9 902.4,325.5 900.2,328.2 898.1,331.1 896.0,334.2 894.0,337.4 892.1,340.7 890.2,344.2 888.5,347.8 886.7,351.6 885.1,355.5 883.5,359.6 882.0,363.8 880.5,368.1 879.2,372.6 877.9,377.3 876.6,382.0 875.5,387.0 874.4,392.0 873.3,397.2 868.4,396.5 876.6,422.4 890.2,399.6 885.2,398.9 885.7,393.9 886.4,388.9 887.0,384.1 887.8,379.5 888.6,374.9 889.5,370.5 890.4,366.2 891.4,362.1 892.5,358.1 893.7,354.2 894.9,350.4 896.2,346.8 897.5,343.3 899.0,339.9 900.5,336.7 902.0,333.5 903.7,330.5 905.4,327.6 907.2,324.9 909.1,322.2 911.0,319.7 913.0,317.3 915.1,315.0 917.3,312.9" fill="#ef7f86" fill-opacity="0.85"/>
<use href="#snw" x="718.1" y="465.6"/>
<use href="#snt" x="740.6" y="465.6"/>
<use href="#snw" x="763.1" y="465.6"/>
<use href="#snt" x="785.6" y="465.6"/>
<use href="#snw" x="808.1" y="465.6"/>
<use href="#snt" x="830.6" y="465.6"/>
<use href="#snw" x="853.1" y="465.6"/>
<use href="#snt" x="875.6" y="465.6"/>
<use href="#snw" x="898.1" y="465.6"/>
<use href="#snt" x="920.6" y="465.6"/>
<use href="#snw" x="943.1" y="465.6"/>
<use href="#snt" x="718.1" y="487.7"/>
<use href="#snw" x="740.6" y="487.7"/>
<use href="#snt" x="763.1" y="487.7"/>
<use href="#snw" x="785.6" y="487.7"/>
<use href="#snt" x="808.1" y="487.7"/>
<use href="#snw" x="830.6" y="487.7"/>
<use href="#snt" x="853.1" y="487.7"/>
<use href="#snw" x="875.6" y="487.7"/>
<use href="#snt" x="898.1" y="487.7"/>
<use href="#snw" x="920.6" y="487.7"/>
<use href="#snt" x="943.1" y="487.7"/>
<use href="#snw" x="718.1" y="509.8"/>
<use href="#snt" x="740.6" y="509.8"/>
<use href="#snw" x="763.1" y="509.8"/>
<use href="#snt" x="785.6" y="509.8"/>
<use href="#snw" x="808.1" y="509.8"/>
<use href="#snt" x="830.6" y="509.8"/>
<use href="#snw" x="853.1" y="509.8"/>
<use href="#snt" x="875.6" y="509.8"/>
<use href="#snw" x="898.1" y="509.8"/>
<use href="#snt" x="920.6" y="509.8"/>
<use href="#snw" x="943.1" y="509.8"/>
<circle cx="740.6" cy="450.4" r="1.8" fill="#fff" stroke="#d0e8c0" stroke-width="0.8"/>
<circle cx="785.6" cy="450.4" r="1.8" fill="#fff" stroke="#d0e8c0" stroke-width="0.8"/>
<circle cx="830.6" cy="450.4" r="1.8" fill="#fff" stroke="#d0e8c0" stroke-width="0.8"/>
<circle cx="875.6" cy="450.4" r="1.8" fill="#fff" stroke="#d0e8c0" stroke-width="0.8"/>
<circle cx="920.6" cy="450.4" r="1.8" fill="#fff" stroke="#d0e8c0" stroke-width="0.8"/>
<text x="825.0" y="315.0" font-size="19.5" text-anchor="middle" font-weight="bold" fill="#000" >FAI insertion</text>
<polygon points="730.4,623.0 722.5,636.5 730.4,650.0 722.5,663.5 730.4,677.0 722.5,690.5 730.4,704.0 722.5,717.5 706.2,717.5 714.6,704.0 706.2,690.5 714.6,677.0 706.2,663.5 714.6,650.0 706.2,636.5 714.6,623.0" fill="#d5d8c2"/><path d="M714.6,623.0L722.5,636.5M706.2,636.5L730.4,623.0M706.2,636.5L730.4,650.0M714.6,650.0L722.5,636.5M714.6,650.0L722.5,663.5M706.2,663.5L730.4,650.0M706.2,663.5L730.4,677.0M714.6,677.0L722.5,663.5M714.6,677.0L722.5,690.5M706.2,690.5L730.4,677.0M706.2,690.5L730.4,704.0M714.6,704.0L722.5,690.5M714.6,704.0L722.5,717.5M706.2,717.5L730.4,704.0" stroke="#f4f5ec" stroke-width="0.6"/><circle cx="718.5" cy="629.8" r="1.6" fill="#8e9fda"/><circle cx="718.5" cy="643.2" r="1.6" fill="#8e9fda"/><circle cx="718.5" cy="656.8" r="1.6" fill="#8e9fda"/><circle cx="718.5" cy="670.2" r="1.6" fill="#8e9fda"/><circle cx="718.5" cy="683.8" r="1.6" fill="#8e9fda"/><circle cx="718.5" cy="697.2" r="1.6" fill="#8e9fda"/><circle cx="718.5" cy="710.8" r="1.6" fill="#8e9fda"/><circle cx="730.4" cy="623.0" r="1.7" fill="#f1b9a0"/><circle cx="722.5" cy="636.5" r="1.7" fill="#f1b9a0"/><circle cx="730.4" cy="650.0" r="1.7" fill="#f1b9a0"/><circle cx="722.5" cy="663.5" r="1.7" fill="#f1b9a0"/><circle cx="730.4" cy="677.0" r="1.7" fill="#f1b9a0"/><circle cx="722.5" cy="690.5" r="1.7" fill="#f1b9a0"/><circle cx="730.4" cy="704.0" r="1.7" fill="#f1b9a0"/><circle cx="722.5" cy="717.5" r="1.7" fill="#f1b9a0"/><circle cx="714.6" cy="623.0" r="1.7" fill="#f1b9a0"/><circle cx="706.2" cy="636.5" r="1.7" fill="#f1b9a0"/><circle cx="714.6" cy="650.0" r="1.7" fill="#f1b9a0"/><circle cx="706.2" cy="663.5" r="1.7" fill="#f1b9a0"/><circle cx="714.6" cy="677.0" r="1.7" fill="#f1b9a0"/><circle cx="706.2" cy="690.5" r="1.7" fill="#f1b9a0"/><circle cx="714.6" cy="704.0" r="1.7" fill="#f1b9a0"/><circle cx="706.2" cy="717.5" r="1.7" fill="#f1b9a0"/>
<polygon points="765.5,623.0 757.6,636.5 765.5,650.0 757.6,663.5 765.5,677.0 757.6,690.5 765.5,704.0 757.6,717.5 741.3,717.5 749.7,704.0 741.3,690.5 749.7,677.0 741.3,663.5 749.7,650.0 741.3,636.5 749.7,623.0" fill="#d5d8c2"/><path d="M749.7,623.0L757.6,636.5M741.3,636.5L765.5,623.0M741.3,636.5L765.5,650.0M749.7,650.0L757.6,636.5M749.7,650.0L757.6,663.5M741.3,663.5L765.5,650.0M741.3,663.5L765.5,677.0M749.7,677.0L757.6,663.5M749.7,677.0L757.6,690.5M741.3,690.5L765.5,677.0M741.3,690.5L765.5,704.0M749.7,704.0L757.6,690.5M749.7,704.0L757.6,717.5M741.3,717.5L765.5,704.0" stroke="#f4f5ec" stroke-width="0.6"/><circle cx="753.6" cy="629.8" r="1.6" fill="#8e9fda"/><circle cx="753.6" cy="643.2" r="1.6" fill="#8e9fda"/><circle cx="753.6" cy="656.8" r="1.6" fill="#8e9fda"/><circle cx="753.6" cy="670.2" r="1.6" fill="#8e9fda"/><circle cx="753.6" cy="683.8" r="1.6" fill="#8e9fda"/><circle cx="753.6" cy="697.2" r="1.6" fill="#8e9fda"/><circle cx="753.6" cy="710.8" r="1.6" fill="#8e9fda"/><circle cx="765.5" cy="623.0" r="1.7" fill="#f1b9a0"/><circle cx="757.6" cy="636.5" r="1.7" fill="#f1b9a0"/><circle cx="765.5" cy="650.0" r="1.7" fill="#f1b9a0"/><circle cx="757.6" cy="663.5" r="1.7" fill="#f1b9a0"/><circle cx="765.5" cy="677.0" r="1.7" fill="#f1b9a0"/><circle cx="757.6" cy="690.5" r="1.7" fill="#f1b9a0"/><circle cx="765.5" cy="704.0" r="1.7" fill="#f1b9a0"/><circle cx="757.6" cy="717.5" r="1.7" fill="#f1b9a0"/><circle cx="749.7" cy="623.0" r="1.7" fill="#f1b9a0"/><circle cx="741.3" cy="636.5" r="1.7" fill="#f1b9a0"/><circle cx="749.7" cy="650.0" r="1.7" fill="#f1b9a0"/><circle cx="741.3" cy="663.5" r="1.7" fill="#f1b9a0"/><circle cx="749.7" cy="677.0" r="1.7" fill="#f1b9a0"/><circle cx="741.3" cy="690.5" r="1.7" fill="#f1b9a0"/><circle cx="749.7" cy="704.0" r="1.7" fill="#f1b9a0"/><circle cx="741.3" cy="717.5" r="1.7" fill="#f1b9a0"/>
<polygon points="800.6,623.0 792.7,636.5 800.6,650.0 792.7,663.5 800.6,677.0 792.7,690.5 800.6,704.0 792.7,717.5 776.4,717.5 784.8,704.0 776.4,690.5 784.8,677.0 776.4,663.5 784.8,650.0 776.4,636.5 784.8,623.0" fill="#d5d8c2"/><path d="M784.8,623.0L792.7,636.5M776.4,636.5L800.6,623.0M776.4,636.5L800.6,650.0M784.8,650.0L792.7,636.5M784.8,650.0L792.7,663.5M776.4,663.5L800.6,650.0M776.4,663.5L800.6,677.0M784.8,677.0L792.7,663.5M784.8,677.0L792.7,690.5M776.4,690.5L800.6,677.0M776.4,690.5L800.6,704.0M784.8,704.0L792.7,690.5M784.8,704.0L792.7,717.5M776.4,717.5L800.6,704.0" stroke="#f4f5ec" stroke-width="0.6"/><circle cx="788.7" cy="629.8" r="1.6" fill="#8e9fda"/><circle cx="788.7" cy="643.2" r="1.6" fill="#8e9fda"/><circle cx="788.7" cy="656.8" r="1.6" fill="#8e9fda"/><circle cx="788.7" cy="670.2" r="1.6" fill="#8e9fda"/><circle cx="788.7" cy="683.8" r="1.6" fill="#8e9fda"/><circle cx="788.7" cy="697.2" r="1.6" fill="#8e9fda"/><circle cx="788.7" cy="710.8" r="1.6" fill="#8e9fda"/><circle cx="800.6" cy="623.0" r="1.7" fill="#f1b9a0"/><circle cx="792.7" cy="636.5" r="1.7" fill="#f1b9a0"/><circle cx="800.6" cy="650.0" r="1.7" fill="#f1b9a0"/><circle cx="792.7" cy="663.5" r="1.7" fill="#f1b9a0"/><circle cx="800.6" cy="677.0" r="1.7" fill="#f1b9a0"/><circle cx="792.7" cy="690.5" r="1.7" fill="#f1b9a0"/><circle cx="800.6" cy="704.0" r="1.7" fill="#f1b9a0"/><circle cx="792.7" cy="717.5" r="1.7" fill="#f1b9a0"/><circle cx="784.8" cy="623.0" r="1.7" fill="#f1b9a0"/><circle cx="776.4" cy="636.5" r="1.7" fill="#f1b9a0"/><circle cx="784.8" cy="650.0" r="1.7" fill="#f1b9a0"/><circle cx="776.4" cy="663.5" r="1.7" fill="#f1b9a0"/><circle cx="784.8" cy="677.0" r="1.7" fill="#f1b9a0"/><circle cx="776.4" cy="690.5" r="1.7" fill="#f1b9a0"/><circle cx="784.8" cy="704.0" r="1.7" fill="#f1b9a0"/><circle cx="776.4" cy="717.5" r="1.7" fill="#f1b9a0"/>
<polygon points="835.7,623.0 827.8,636.5 835.7,650.0 827.8,663.5 835.7,677.0 827.8,690.5 835.7,704.0 827.8,717.5 811.5,717.5 819.9,704.0 811.5,690.5 819.9,677.0 811.5,663.5 819.9,650.0 811.5,636.5 819.9,623.0" fill="#d5d8c2"/><path d="M819.9,623.0L827.8,636.5M811.5,636.5L835.7,623.0M811.5,636.5L835.7,650.0M819.9,650.0L827.8,636.5M819.9,650.0L827.8,663.5M811.5,663.5L835.7,650.0M811.5,663.5L835.7,677.0M819.9,677.0L827.8,663.5M819.9,677.0L827.8,690.5M811.5,690.5L835.7,677.0M811.5,690.5L835.7,704.0M819.9,704.0L827.8,690.5M819.9,704.0L827.8,717.5M811.5,717.5L835.7,704.0" stroke="#f4f5ec" stroke-width="0.6"/><circle cx="823.8" cy="629.8" r="1.6" fill="#8e9fda"/><circle cx="823.8" cy="643.2" r="1.6" fill="#8e9fda"/><circle cx="823.8" cy="656.8" r="1.6" fill="#8e9fda"/><circle cx="823.8" cy="670.2" r="1.6" fill="#8e9fda"/><circle cx="823.8" cy="683.8" r="1.6" fill="#8e9fda"/><circle cx="823.8" cy="697.2" r="1.6" fill="#8e9fda"/><circle cx="823.8" cy="710.8" r="1.6" fill="#8e9fda"/><circle cx="835.7" cy="623.0" r="1.7" fill="#f1b9a0"/><circle cx="827.8" cy="636.5" r="1.7" fill="#f1b9a0"/><circle cx="835.7" cy="650.0" r="1.7" fill="#f1b9a0"/><circle cx="827.8" cy="663.5" r="1.7" fill="#f1b9a0"/><circle cx="835.7" cy="677.0" r="1.7" fill="#f1b9a0"/><circle cx="827.8" cy="690.5" r="1.7" fill="#f1b9a0"/><circle cx="835.7" cy="704.0" r="1.7" fill="#f1b9a0"/><circle cx="827.8" cy="717.5" r="1.7" fill="#f1b9a0"/><circle cx="819.9" cy="623.0" r="1.7" fill="#f1b9a0"/><circle cx="811.5" cy="636.5" r="1.7" fill="#f1b9a0"/><circle cx="819.9" cy="650.0" r="1.7" fill="#f1b9a0"/><circle cx="811.5" cy="663.5" r="1.7" fill="#f1b9a0"/><circle cx="819.9" cy="677.0" r="1.7" fill="#f1b9a0"/><circle cx="811.5" cy="690.5" r="1.7" fill="#f1b9a0"/><circle cx="819.9" cy="704.0" r="1.7" fill="#f1b9a0"/><circle cx="811.5" cy="717.5" r="1.7" fill="#f1b9a0"/>
<polygon points="870.8,623.0 862.9,636.5 870.8,650.0 862.9,663.5 870.8,677.0 862.9,690.5 870.8,704.0 862.9,717.5 846.6,717.5 855.0,704.0 846.6,690.5 855.0,677.0 846.6,663.5 855.0,650.0 846.6,636.5 855.0,623.0" fill="#d5d8c2"/><path d="M855.0,623.0L862.9,636.5M846.6,636.5L870.8,623.0M846.6,636.5L870.8,650.0M855.0,650.0L862.9,636.5M855.0,650.0L862.9,663.5M846.6,663.5L870.8,650.0M846.6,663.5L870.8,677.0M855.0,677.0L862.9,663.5M855.0,677.0L862.9,690.5M846.6,690.5L870.8,677.0M846.6,690.5L870.8,704.0M855.0,704.0L862.9,690.5M855.0,704.0L862.9,717.5M846.6,717.5L870.8,704.0" stroke="#f4f5ec" stroke-width="0.6"/><circle cx="858.9" cy="629.8" r="1.6" fill="#8e9fda"/><circle cx="858.9" cy="643.2" r="1.6" fill="#8e9fda"/><circle cx="858.9" cy="656.8" r="1.6" fill="#8e9fda"/><circle cx="858.9" cy="670.2" r="1.6" fill="#8e9fda"/><circle cx="858.9" cy="683.8" r="1.6" fill="#8e9fda"/><circle cx="858.9" cy="697.2" r="1.6" fill="#8e9fda"/><circle cx="858.9" cy="710.8" r="1.6" fill="#8e9fda"/><circle cx="870.8" cy="623.0" r="1.7" fill="#f1b9a0"/><circle cx="862.9" cy="636.5" r="1.7" fill="#f1b9a0"/><circle cx="870.8" cy="650.0" r="1.7" fill="#f1b9a0"/><circle cx="862.9" cy="663.5" r="1.7" fill="#f1b9a0"/><circle cx="870.8" cy="677.0" r="1.7" fill="#f1b9a0"/><circle cx="862.9" cy="690.5" r="1.7" fill="#f1b9a0"/><circle cx="870.8" cy="704.0" r="1.7" fill="#f1b9a0"/><circle cx="862.9" cy="717.5" r="1.7" fill="#f1b9a0"/><circle cx="855.0" cy="623.0" r="1.7" fill="#f1b9a0"/><circle cx="846.6" cy="636.5" r="1.7" fill="#f1b9a0"/><circle cx="855.0" cy="650.0" r="1.7" fill="#f1b9a0"/><circle cx="846.6" cy="663.5" r="1.7" fill="#f1b9a0"/><circle cx="855.0" cy="677.0" r="1.7" fill="#f1b9a0"/><circle cx="846.6" cy="690.5" r="1.7" fill="#f1b9a0"/><circle cx="855.0" cy="704.0" r="1.7" fill="#f1b9a0"/><circle cx="846.6" cy="717.5" r="1.7" fill="#f1b9a0"/>
<polygon points="905.9,623.0 898.0,636.5 905.9,650.0 898.0,663.5 905.9,677.0 898.0,690.5 905.9,704.0 898.0,717.5 881.7,717.5 890.1,704.0 881.7,690.5 890.1,677.0 881.7,663.5 890.1,650.0 881.7,636.5 890.1,623.0" fill="#d5d8c2"/><path d="M890.1,623.0L898.0,636.5M881.7,636.5L905.9,623.0M881.7,636.5L905.9,650.0M890.1,650.0L898.0,636.5M890.1,650.0L898.0,663.5M881.7,663.5L905.9,650.0M881.7,663.5L905.9,677.0M890.1,677.0L898.0,663.5M890.1,677.0L898.0,690.5M881.7,690.5L905.9,677.0M881.7,690.5L905.9,704.0M890.1,704.0L898.0,690.5M890.1,704.0L898.0,717.5M881.7,717.5L905.9,704.0" stroke="#f4f5ec" stroke-width="0.6"/><circle cx="894.0" cy="629.8" r="1.6" fill="#8e9fda"/><circle cx="894.0" cy="643.2" r="1.6" fill="#8e9fda"/><circle cx="894.0" cy="656.8" r="1.6" fill="#8e9fda"/><circle cx="894.0" cy="670.2" r="1.6" fill="#8e9fda"/><circle cx="894.0" cy="683.8" r="1.6" fill="#8e9fda"/><circle cx="894.0" cy="697.2" r="1.6" fill="#8e9fda"/><circle cx="894.0" cy="710.8" r="1.6" fill="#8e9fda"/><circle cx="905.9" cy="623.0" r="1.7" fill="#f1b9a0"/><circle cx="898.0" cy="636.5" r="1.7" fill="#f1b9a0"/><circle cx="905.9" cy="650.0" r="1.7" fill="#f1b9a0"/><circle cx="898.0" cy="663.5" r="1.7" fill="#f1b9a0"/><circle cx="905.9" cy="677.0" r="1.7" fill="#f1b9a0"/><circle cx="898.0" cy="690.5" r="1.7" fill="#f1b9a0"/><circle cx="905.9" cy="704.0" r="1.7" fill="#f1b9a0"/><circle cx="898.0" cy="717.5" r="1.7" fill="#f1b9a0"/><circle cx="890.1" cy="623.0" r="1.7" fill="#f1b9a0"/><circle cx="881.7" cy="636.5" r="1.7" fill="#f1b9a0"/><circle cx="890.1" cy="650.0" r="1.7" fill="#f1b9a0"/><circle cx="881.7" cy="663.5" r="1.7" fill="#f1b9a0"/><circle cx="890.1" cy="677.0" r="1.7" fill="#f1b9a0"/><circle cx="881.7" cy="690.5" r="1.7" fill="#f1b9a0"/><circle cx="890.1" cy="704.0" r="1.7" fill="#f1b9a0"/><circle cx="881.7" cy="717.5" r="1.7" fill="#f1b9a0"/>
<polygon points="941.0,623.0 933.1,636.5 941.0,650.0 933.1,663.5 941.0,677.0 933.1,690.5 941.0,704.0 933.1,717.5 916.8,717.5 925.2,704.0 916.8,690.5 925.2,677.0 916.8,663.5 925.2,650.0 916.8,636.5 925.2,623.0" fill="#d5d8c2"/><path d="M925.2,623.0L933.1,636.5M916.8,636.5L941.0,623.0M916.8,636.5L941.0,650.0M925.2,650.0L933.1,636.5M925.2,650.0L933.1,663.5M916.8,663.5L941.0,650.0M916.8,663.5L941.0,677.0M925.2,677.0L933.1,663.5M925.2,677.0L933.1,690.5M916.8,690.5L941.0,677.0M916.8,690.5L941.0,704.0M925.2,704.0L933.1,690.5M925.2,704.0L933.1,717.5M916.8,717.5L941.0,704.0" stroke="#f4f5ec" stroke-width="0.6"/><circle cx="929.1" cy="629.8" r="1.6" fill="#8e9fda"/><circle cx="929.1" cy="643.2" r="1.6" fill="#8e9fda"/><circle cx="929.1" cy="656.8" r="1.6" fill="#8e9fda"/><circle cx="929.1" cy="670.2" r="1.6" fill="#8e9fda"/><circle cx="929.1" cy="683.8" r="1.6" fill="#8e9fda"/><circle cx="929.1" cy="697.2" r="1.6" fill="#8e9fda"/><circle cx="929.1" cy="710.8" r="1.6" fill="#8e9fda"/><circle cx="941.0" cy="623.0" r="1.7" fill="#f1b9a0"/><circle cx="933.1" cy="636.5" r="1.7" fill="#f1b9a0"/><circle cx="941.0" cy="650.0" r="1.7" fill="#f1b9a0"/><circle cx="933.1" cy="663.5" r="1.7" fill="#f1b9a0"/><circle cx="941.0" cy="677.0" r="1.7" fill="#f1b9a0"/><circle cx="933.1" cy="690.5" r="1.7" fill="#f1b9a0"/><circle cx="941.0" cy="704.0" r="1.7" fill="#f1b9a0"/><circle cx="933.1" cy="717.5" r="1.7" fill="#f1b9a0"/><circle cx="925.2" cy="623.0" r="1.7" fill="#f1b9a0"/><circle cx="916.8" cy="636.5" r="1.7" fill="#f1b9a0"/><circle cx="925.2" cy="650.0" r="1.7" fill="#f1b9a0"/><circle cx="916.8" cy="663.5" r="1.7" fill="#f1b9a0"/><circle cx="925.2" cy="677.0" r="1.7" fill="#f1b9a0"/><circle cx="916.8" cy="690.5" r="1.7" fill="#f1b9a0"/><circle cx="925.2" cy="704.0" r="1.7" fill="#f1b9a0"/><circle cx="916.8" cy="717.5" r="1.7" fill="#f1b9a0"/>
<use href="#fai" transform="translate(703.0,625.0) rotate(90)"/>
<use href="#fai" transform="translate(707.0,638.5) rotate(90)"/>
<use href="#fai" transform="translate(703.0,652.0) rotate(90)"/>
<use href="#fai" transform="translate(707.0,665.5) rotate(90)"/>
<use href="#fai" transform="translate(703.0,679.0) rotate(90)"/>
<use href="#fai" transform="translate(707.0,692.5) rotate(90)"/>
<use href="#fai" transform="translate(703.0,706.0) rotate(90)"/>
<use href="#fai" transform="translate(738.1,625.0) rotate(90)"/>
<use href="#fai" transform="translate(742.1,638.5) rotate(90)"/>
<use href="#fai" transform="translate(738.1,652.0) rotate(90)"/>
<use href="#fai" transform="translate(742.1,665.5) rotate(90)"/>
<use href="#fai" transform="translate(738.1,679.0) rotate(90)"/>
<use href="#fai" transform="translate(742.1,692.5) rotate(90)"/>
<use href="#fai" transform="translate(738.1,706.0) rotate(90)"/>
<use href="#fai" transform="translate(773.2,625.0) rotate(90)"/>
<use href="#fai" transform="translate(777.2,638.5) rotate(90)"/>
<use href="#fai" transform="translate(773.2,652.0) rotate(90)"/>
<use href="#fai" transform="translate(777.2,665.5) rotate(90)"/>
<use href="#fai" transform="translate(773.2,679.0) rotate(90)"/>
<use href="#fai" transform="translate(777.2,692.5) rotate(90)"/>
<use href="#fai" transform="translate(773.2,706.0) rotate(90)"/>
<use href="#fai" transform="translate(808.3,625.0) rotate(90)"/>
<use href="#fai" transform="translate(812.3,638.5) rotate(90)"/>
<use href="#fai" transform="translate(808.3,652.0) rotate(90)"/>
<use href="#fai" transform="translate(812.3,665.5) rotate(90)"/>
<use href="#fai" transform="translate(808.3,679.0) rotate(90)"/>
<use href="#fai" transform="translate(812.3,692.5) rotate(90)"/>
<use href="#fai" transform="translate(808.3,706.0) rotate(90)"/>
<use href="#fai" transform="translate(843.4,625.0) rotate(90)"/>
<use href="#fai" transform="translate(847.4,638.5) rotate(90)"/>
<use href="#fai" transform="translate(843.4,652.0) rotate(90)"/>
<use href="#fai" transform="translate(847.4,665.5) rotate(90)"/>
<use href="#fai" transform="translate(843.4,679.0) rotate(90)"/>
<use href="#fai" transform="translate(847.4,692.5) rotate(90)"/>
<use href="#fai" transform="translate(843.4,706.0) rotate(90)"/>
<use href="#fai" transform="translate(878.5,625.0) rotate(90)"/>
<use href="#fai" transform="translate(882.5,638.5) rotate(90)"/>
<use href="#fai" transform="translate(878.5,652.0) rotate(90)"/>
<use href="#fai" transform="translate(882.5,665.5) rotate(90)"/>
<use href="#fai" transform="translate(878.5,679.0) rotate(90)"/>
<use href="#fai" transform="translate(882.5,692.5) rotate(90)"/>
<use href="#fai" transform="translate(878.5,706.0) rotate(90)"/>
<use href="#fai" transform="translate(913.6,625.0) rotate(90)"/>
<use href="#fai" transform="translate(917.6,638.5) rotate(90)"/>
<use href="#fai" transform="translate(913.6,652.0) rotate(90)"/>
<use href="#fai" transform="translate(917.6,665.5) rotate(90)"/>
<use href="#fai" transform="translate(913.6,679.0) rotate(90)"/>
<use href="#fai" transform="translate(917.6,692.5) rotate(90)"/>
<use href="#fai" transform="translate(913.6,706.0) rotate(90)"/>
<use href="#fai" transform="translate(941.0,625.0) rotate(90)"/>
<use href="#fai" transform="translate(945.0,638.5) rotate(90)"/>
<use href="#fai" transform="translate(941.0,652.0) rotate(90)"/>
<use href="#fai" transform="translate(945.0,665.5) rotate(90)"/>
<use href="#fai" transform="translate(941.0,679.0) rotate(90)"/>
<use href="#fai" transform="translate(945.0,692.5) rotate(90)"/>
<use href="#fai" transform="translate(941.0,706.0) rotate(90)"/>
<polygon points="737.0,601.5 758.0,622.0 771.0,648.0 781.0,680.0 783.0,699.0 777.0,712.0 764.5,686.5 772.0,687.0 764.0,658.0 757.0,635.0 747.0,617.0" fill="#ef7f86" fill-opacity="0.85"/>
<polygon points="910.5,601.5 889.5,622.0 876.5,648.0 866.5,680.0 864.5,699.0 870.5,712.0 883.0,686.5 875.5,687.0 883.5,658.0 890.5,635.0 900.5,617.0" fill="#ef7f86" fill-opacity="0.85"/>
<use href="#snw" x="719.2" y="740.0"/>
<use href="#snt" x="741.7" y="740.0"/>
<use href="#snw" x="764.2" y="740.0"/>
<use href="#snt" x="786.7" y="740.0"/>
<use href="#snw" x="809.2" y="740.0"/>
<use href="#snt" x="831.7" y="740.0"/>
<use href="#snw" x="854.2" y="740.0"/>
<use href="#snt" x="876.7" y="740.0"/>
<use href="#snw" x="899.2" y="740.0"/>
<use href="#snt" x="921.7" y="740.0"/>
<use href="#snw" x="944.2" y="740.0"/>
<use href="#snt" x="719.2" y="762.1"/>
<use href="#snw" x="741.7" y="762.1"/>
<use href="#snt" x="764.2" y="762.1"/>
<use href="#snw" x="786.7" y="762.1"/>
<use href="#snt" x="809.2" y="762.1"/>
<use href="#snw" x="831.7" y="762.1"/>
<use href="#snt" x="854.2" y="762.1"/>
<use href="#snw" x="876.7" y="762.1"/>
<use href="#snt" x="899.2" y="762.1"/>
<use href="#snw" x="921.7" y="762.1"/>
<use href="#snt" x="944.2" y="762.1"/>
<use href="#snw" x="719.2" y="784.2"/>
<use href="#snt" x="741.7" y="784.2"/>
<use href="#snw" x="764.2" y="784.2"/>
<use href="#snt" x="786.7" y="784.2"/>
<use href="#snw" x="809.2" y="784.2"/>
<use href="#snt" x="831.7" y="784.2"/>
<use href="#snw" x="854.2" y="784.2"/>
<use href="#snt" x="876.7" y="784.2"/>
<use href="#snw" x="899.2" y="784.2"/>
<use href="#snt" x="921.7" y="784.2"/>
<use href="#snw" x="944.2" y="784.2"/>
<use href="#idpac" x="741.0" y="726.0"/>
<use href="#idpac" x="786.0" y="726.0"/>
<use href="#idpac" x="831.0" y="726.0"/>
<use href="#idpac" x="876.0" y="726.0"/>
<use href="#idpac" x="921.0" y="726.0"/>
<text x="823.9" y="591.5" font-size="19.5" text-anchor="middle" font-weight="bold" fill="#000" >Complete conversion</text>
<polygon points="1032.2,338.9 1044.1,326.7 1056.0,338.9 1044.1,351.1" fill="#cc935f"/><polygon points="1056.0,338.9 1067.9,326.7 1079.8,338.9 1067.9,351.1" fill="#cc935f"/><polygon points="1079.8,338.9 1091.7,326.7 1103.6,338.9 1091.7,351.1" fill="#cc935f"/><polygon points="1032.2,363.3 1044.1,351.1 1056.0,363.3 1044.1,375.5" fill="#cc935f"/><polygon points="1056.0,363.3 1067.9,351.1 1079.8,363.3 1067.9,375.5" fill="#cc935f"/><polygon points="1079.8,363.3 1091.7,351.1 1103.6,363.3 1091.7,375.5" fill="#cc935f"/><polygon points="1032.2,387.7 1044.1,375.5 1056.0,387.7 1044.1,399.9" fill="#cc935f"/><polygon points="1056.0,387.7 1067.9,375.5 1079.8,387.7 1067.9,399.9" fill="#cc935f"/><polygon points="1079.8,387.7 1091.7,375.5 1103.6,387.7 1091.7,399.9" fill="#cc935f"/><polygon points="1032.2,412.1 1044.1,399.9 1056.0,412.1 1044.1,424.3" fill="#cc935f"/><polygon points="1056.0,412.1 1067.9,399.9 1079.8,412.1 1067.9,424.3" fill="#cc935f"/><polygon points="1079.8,412.1 1091.7,399.9 1103.6,412.1 1091.7,424.3" fill="#cc935f"/><path d="M1032.2,338.9H1103.6M1032.2,363.3H1103.6M1032.2,387.7H1103.6M1032.2,412.1H1103.6M1044.1,326.7V424.3M1067.9,326.7V424.3M1091.7,326.7V424.3" stroke="#f3dcc8" stroke-width="0.8"/><circle cx="1044.1" cy="338.9" r="1.8" fill="#8f9fd9"/><circle cx="1067.9" cy="338.9" r="1.8" fill="#8f9fd9"/><circle cx="1091.7" cy="338.9" r="1.8" fill="#8f9fd9"/><circle cx="1044.1" cy="363.3" r="1.8" fill="#8f9fd9"/><circle cx="1067.9" cy="363.3" r="1.8" fill="#8f9fd9"/><circle cx="1091.7" cy="363.3" r="1.8" fill="#8f9fd9"/><circle cx="1044.1" cy="387.7" r="1.8" fill="#8f9fd9"/><circle cx="1067.9" cy="387.7" r="1.8" fill="#8f9fd9"/><circle cx="1091.7" cy="387.7" r="1.8" fill="#8f9fd9"/><circle cx="1044.1" cy="412.1" r="1.8" fill="#8f9fd9"/><circle cx="1067.9" cy="412.1" r="1.8" fill="#8f9fd9"/><circle cx="1091.7" cy="412.1" r="1.8" fill="#8f9fd9"/><circle cx="1032.2" cy="338.9" r="1.6" fill="#f2bea6"/><circle cx="1056.0" cy="338.9" r="1.6" fill="#f2bea6"/><circle cx="1079.8" cy="338.9" r="1.6" fill="#f2bea6"/><circle cx="1103.6" cy="338.9" r="1.6" fill="#f2bea6"/><circle cx="1032.2" cy="363.3" r="1.6" fill="#f2bea6"/><circle cx="1056.0" cy="363.3" r="1.6" fill="#f2bea6"/><circle cx="1079.8" cy="363.3" r="1.6" fill="#f2bea6"/><circle cx="1103.6" cy="363.3" r="1.6" fill="#f2bea6"/><circle cx="1032.2" cy="387.7" r="1.6" fill="#f2bea6"/><circle cx="1056.0" cy="387.7" r="1.6" fill="#f2bea6"/><circle cx="1079.8" cy="387.7" r="1.6" fill="#f2bea6"/><circle cx="1103.6" cy="387.7" r="1.6" fill="#f2bea6"/><circle cx="1032.2" cy="412.1" r="1.6" fill="#f2bea6"/><circle cx="1056.0" cy="412.1" r="1.6" fill="#f2bea6"/><circle cx="1079.8" cy="412.1" r="1.6" fill="#f2bea6"/><circle cx="1103.6" cy="412.1" r="1.6" fill="#f2bea6"/><circle cx="1044.1" cy="326.7" r="1.6" fill="#f2bea6"/><circle cx="1067.9" cy="326.7" r="1.6" fill="#f2bea6"/><circle cx="1091.7" cy="326.7" r="1.6" fill="#f2bea6"/><circle cx="1044.1" cy="351.1" r="1.6" fill="#f2bea6"/><circle cx="1067.9" cy="351.1" r="1.6" fill="#f2bea6"/><circle cx="1091.7" cy="351.1" r="1.6" fill="#f2bea6"/><circle cx="1044.1" cy="375.5" r="1.6" fill="#f2bea6"/><circle cx="1067.9" cy="375.5" r="1.6" fill="#f2bea6"/><circle cx="1091.7" cy="375.5" r="1.6" fill="#f2bea6"/><circle cx="1044.1" cy="399.9" r="1.6" fill="#f2bea6"/><circle cx="1067.9" cy="399.9" r="1.6" fill="#f2bea6"/><circle cx="1091.7" cy="399.9" r="1.6" fill="#f2bea6"/><circle cx="1044.1" cy="424.3" r="1.6" fill="#f2bea6"/><circle cx="1067.9" cy="424.3" r="1.6" fill="#f2bea6"/><circle cx="1091.7" cy="424.3" r="1.6" fill="#f2bea6"/>
<use href="#fai" transform="translate(1056.0,352.6) rotate(0)"/>
<use href="#fai" transform="translate(1079.8,352.6) rotate(0)"/>
<use href="#fai" transform="translate(1056.0,377.0) rotate(0)"/>
<use href="#fai" transform="translate(1079.8,377.0) rotate(0)"/>
<use href="#fai" transform="translate(1056.0,401.4) rotate(0)"/>
<use href="#fai" transform="translate(1079.8,401.4) rotate(0)"/>
<polygon points="1109.0,324.4 1121.0,312.1 1133.0,324.4 1121.0,336.6" fill="#cc935f"/><polygon points="1133.0,324.4 1144.9,312.1 1156.9,324.4 1144.9,336.6" fill="#cc935f"/><polygon points="1156.8,324.4 1168.8,312.1 1180.8,324.4 1168.8,336.6" fill="#cc935f"/><polygon points="1180.8,324.4 1192.7,312.1 1204.7,324.4 1192.7,336.6" fill="#cc935f"/><polygon points="1109.0,348.9 1121.0,336.6 1133.0,348.9 1121.0,361.1" fill="#cc935f"/><polygon points="1133.0,348.9 1144.9,336.6 1156.9,348.9 1144.9,361.1" fill="#cc935f"/><polygon points="1156.8,348.9 1168.8,336.6 1180.8,348.9 1168.8,361.1" fill="#cc935f"/><polygon points="1180.8,348.9 1192.7,336.6 1204.7,348.9 1192.7,361.1" fill="#cc935f"/><polygon points="1109.0,373.4 1121.0,361.1 1133.0,373.4 1121.0,385.6" fill="#cc935f"/><polygon points="1133.0,373.4 1144.9,361.1 1156.9,373.4 1144.9,385.6" fill="#cc935f"/><polygon points="1156.8,373.4 1168.8,361.1 1180.8,373.4 1168.8,385.6" fill="#cc935f"/><polygon points="1180.8,373.4 1192.7,361.1 1204.7,373.4 1192.7,385.6" fill="#cc935f"/><polygon points="1109.0,397.9 1121.0,385.6 1133.0,397.9 1121.0,410.1" fill="#cc935f"/><polygon points="1133.0,397.9 1144.9,385.6 1156.9,397.9 1144.9,410.1" fill="#cc935f"/><polygon points="1156.8,397.9 1168.8,385.6 1180.8,397.9 1168.8,410.1" fill="#cc935f"/><polygon points="1180.8,397.9 1192.7,385.6 1204.7,397.9 1192.7,410.1" fill="#cc935f"/><path d="M1109.0,324.4H1204.7M1109.0,348.9H1204.7M1109.0,373.4H1204.7M1109.0,397.9H1204.7M1121.0,312.1V410.1M1144.9,312.1V410.1M1168.8,312.1V410.1M1192.7,312.1V410.1" stroke="#f3dcc8" stroke-width="0.8"/><circle cx="1121.0" cy="324.4" r="1.8" fill="#8f9fd9"/><circle cx="1144.9" cy="324.4" r="1.8" fill="#8f9fd9"/><circle cx="1168.8" cy="324.4" r="1.8" fill="#8f9fd9"/><circle cx="1192.7" cy="324.4" r="1.8" fill="#8f9fd9"/><circle cx="1121.0" cy="348.9" r="1.8" fill="#8f9fd9"/><circle cx="1144.9" cy="348.9" r="1.8" fill="#8f9fd9"/><circle cx="1168.8" cy="348.9" r="1.8" fill="#8f9fd9"/><circle cx="1192.7" cy="348.9" r="1.8" fill="#8f9fd9"/><circle cx="1121.0" cy="373.4" r="1.8" fill="#8f9fd9"/><circle cx="1144.9" cy="373.4" r="1.8" fill="#8f9fd9"/><circle cx="1168.8" cy="373.4" r="1.8" fill="#8f9fd9"/><circle cx="1192.7" cy="373.4" r="1.8" fill="#8f9fd9"/><circle cx="1121.0" cy="397.9" r="1.8" fill="#8f9fd9"/><circle cx="1144.9" cy="397.9" r="1.8" fill="#8f9fd9"/><circle cx="1168.8" cy="397.9" r="1.8" fill="#8f9fd9"/><circle cx="1192.7" cy="397.9" r="1.8" fill="#8f9fd9"/><circle cx="1109.0" cy="324.4" r="1.6" fill="#f2bea6"/><circle cx="1133.0" cy="324.4" r="1.6" fill="#f2bea6"/><circle cx="1156.8" cy="324.4" r="1.6" fill="#f2bea6"/><circle cx="1180.8" cy="324.4" r="1.6" fill="#f2bea6"/><circle cx="1204.7" cy="324.4" r="1.6" fill="#f2bea6"/><circle cx="1109.0" cy="348.9" r="1.6" fill="#f2bea6"/><circle cx="1133.0" cy="348.9" r="1.6" fill="#f2bea6"/><circle cx="1156.8" cy="348.9" r="1.6" fill="#f2bea6"/><circle cx="1180.8" cy="348.9" r="1.6" fill="#f2bea6"/><circle cx="1204.7" cy="348.9" r="1.6" fill="#f2bea6"/><circle cx="1109.0" cy="373.4" r="1.6" fill="#f2bea6"/><circle cx="1133.0" cy="373.4" r="1.6" fill="#f2bea6"/><circle cx="1156.8" cy="373.4" r="1.6" fill="#f2bea6"/><circle cx="1180.8" cy="373.4" r="1.6" fill="#f2bea6"/><circle cx="1204.7" cy="373.4" r="1.6" fill="#f2bea6"/><circle cx="1109.0" cy="397.9" r="1.6" fill="#f2bea6"/><circle cx="1133.0" cy="397.9" r="1.6" fill="#f2bea6"/><circle cx="1156.8" cy="397.9" r="1.6" fill="#f2bea6"/><circle cx="1180.8" cy="397.9" r="1.6" fill="#f2bea6"/><circle cx="1204.7" cy="397.9" r="1.6" fill="#f2bea6"/><circle cx="1121.0" cy="312.1" r="1.6" fill="#f2bea6"/><circle cx="1144.9" cy="312.1" r="1.6" fill="#f2bea6"/><circle cx="1168.8" cy="312.1" r="1.6" fill="#f2bea6"/><circle cx="1192.7" cy="312.1" r="1.6" fill="#f2bea6"/><circle cx="1121.0" cy="336.6" r="1.6" fill="#f2bea6"/><circle cx="1144.9" cy="336.6" r="1.6" fill="#f2bea6"/><circle cx="1168.8" cy="336.6" r="1.6" fill="#f2bea6"/><circle cx="1192.7" cy="336.6" r="1.6" fill="#f2bea6"/><circle cx="1121.0" cy="361.1" r="1.6" fill="#f2bea6"/><circle cx="1144.9" cy="361.1" r="1.6" fill="#f2bea6"/><circle cx="1168.8" cy="361.1" r="1.6" fill="#f2bea6"/><circle cx="1192.7" cy="361.1" r="1.6" fill="#f2bea6"/><circle cx="1121.0" cy="385.6" r="1.6" fill="#f2bea6"/><circle cx="1144.9" cy="385.6" r="1.6" fill="#f2bea6"/><circle cx="1168.8" cy="385.6" r="1.6" fill="#f2bea6"/><circle cx="1192.7" cy="385.6" r="1.6" fill="#f2bea6"/><circle cx="1121.0" cy="410.1" r="1.6" fill="#f2bea6"/><circle cx="1144.9" cy="410.1" r="1.6" fill="#f2bea6"/><circle cx="1168.8" cy="410.1" r="1.6" fill="#f2bea6"/><circle cx="1192.7" cy="410.1" r="1.6" fill="#f2bea6"/>
<use href="#fai" transform="translate(1133.0,338.1) rotate(0)"/>
<use href="#fai" transform="translate(1156.8,338.1) rotate(0)"/>
<use href="#fai" transform="translate(1180.8,338.1) rotate(0)"/>
<use href="#fai" transform="translate(1133.0,362.6) rotate(0)"/>
<use href="#fai" transform="translate(1156.8,362.6) rotate(0)"/>
<use href="#fai" transform="translate(1180.8,362.6) rotate(0)"/>
<use href="#fai" transform="translate(1133.0,387.1) rotate(0)"/>
<use href="#fai" transform="translate(1156.8,387.1) rotate(0)"/>
<use href="#fai" transform="translate(1180.8,387.1) rotate(0)"/>
<polygon points="1208.8,338.9 1220.6,326.7 1232.3,338.9 1220.6,351.1" fill="#cc935f"/><polygon points="1232.3,338.9 1244.1,326.7 1255.8,338.9 1244.1,351.1" fill="#cc935f"/><polygon points="1255.8,338.9 1267.6,326.7 1279.3,338.9 1267.6,351.1" fill="#cc935f"/><polygon points="1208.8,363.3 1220.6,351.1 1232.3,363.3 1220.6,375.5" fill="#cc935f"/><polygon points="1232.3,363.3 1244.1,351.1 1255.8,363.3 1244.1,375.5" fill="#cc935f"/><polygon points="1255.8,363.3 1267.6,351.1 1279.3,363.3 1267.6,375.5" fill="#cc935f"/><polygon points="1208.8,387.7 1220.6,375.5 1232.3,387.7 1220.6,399.9" fill="#cc935f"/><polygon points="1232.3,387.7 1244.1,375.5 1255.8,387.7 1244.1,399.9" fill="#cc935f"/><polygon points="1255.8,387.7 1267.6,375.5 1279.3,387.7 1267.6,399.9" fill="#cc935f"/><polygon points="1208.8,412.1 1220.6,399.9 1232.3,412.1 1220.6,424.3" fill="#cc935f"/><polygon points="1232.3,412.1 1244.1,399.9 1255.8,412.1 1244.1,424.3" fill="#cc935f"/><polygon points="1255.8,412.1 1267.6,399.9 1279.3,412.1 1267.6,424.3" fill="#cc935f"/><path d="M1208.8,338.9H1279.3M1208.8,363.3H1279.3M1208.8,387.7H1279.3M1208.8,412.1H1279.3M1220.6,326.7V424.3M1244.1,326.7V424.3M1267.6,326.7V424.3" stroke="#f3dcc8" stroke-width="0.8"/><circle cx="1220.6" cy="338.9" r="1.8" fill="#8f9fd9"/><circle cx="1244.1" cy="338.9" r="1.8" fill="#8f9fd9"/><circle cx="1267.6" cy="338.9" r="1.8" fill="#8f9fd9"/><circle cx="1220.6" cy="363.3" r="1.8" fill="#8f9fd9"/><circle cx="1244.1" cy="363.3" r="1.8" fill="#8f9fd9"/><circle cx="1267.6" cy="363.3" r="1.8" fill="#8f9fd9"/><circle cx="1220.6" cy="387.7" r="1.8" fill="#8f9fd9"/><circle cx="1244.1" cy="387.7" r="1.8" fill="#8f9fd9"/><circle cx="1267.6" cy="387.7" r="1.8" fill="#8f9fd9"/><circle cx="1220.6" cy="412.1" r="1.8" fill="#8f9fd9"/><circle cx="1244.1" cy="412.1" r="1.8" fill="#8f9fd9"/><circle cx="1267.6" cy="412.1" r="1.8" fill="#8f9fd9"/><circle cx="1208.8" cy="338.9" r="1.6" fill="#f2bea6"/><circle cx="1232.3" cy="338.9" r="1.6" fill="#f2bea6"/><circle cx="1255.8" cy="338.9" r="1.6" fill="#f2bea6"/><circle cx="1279.3" cy="338.9" r="1.6" fill="#f2bea6"/><circle cx="1208.8" cy="363.3" r="1.6" fill="#f2bea6"/><circle cx="1232.3" cy="363.3" r="1.6" fill="#f2bea6"/><circle cx="1255.8" cy="363.3" r="1.6" fill="#f2bea6"/><circle cx="1279.3" cy="363.3" r="1.6" fill="#f2bea6"/><circle cx="1208.8" cy="387.7" r="1.6" fill="#f2bea6"/><circle cx="1232.3" cy="387.7" r="1.6" fill="#f2bea6"/><circle cx="1255.8" cy="387.7" r="1.6" fill="#f2bea6"/><circle cx="1279.3" cy="387.7" r="1.6" fill="#f2bea6"/><circle cx="1208.8" cy="412.1" r="1.6" fill="#f2bea6"/><circle cx="1232.3" cy="412.1" r="1.6" fill="#f2bea6"/><circle cx="1255.8" cy="412.1" r="1.6" fill="#f2bea6"/><circle cx="1279.3" cy="412.1" r="1.6" fill="#f2bea6"/><circle cx="1220.6" cy="326.7" r="1.6" fill="#f2bea6"/><circle cx="1244.1" cy="326.7" r="1.6" fill="#f2bea6"/><circle cx="1267.6" cy="326.7" r="1.6" fill="#f2bea6"/><circle cx="1220.6" cy="351.1" r="1.6" fill="#f2bea6"/><circle cx="1244.1" cy="351.1" r="1.6" fill="#f2bea6"/><circle cx="1267.6" cy="351.1" r="1.6" fill="#f2bea6"/><circle cx="1220.6" cy="375.5" r="1.6" fill="#f2bea6"/><circle cx="1244.1" cy="375.5" r="1.6" fill="#f2bea6"/><circle cx="1267.6" cy="375.5" r="1.6" fill="#f2bea6"/><circle cx="1220.6" cy="399.9" r="1.6" fill="#f2bea6"/><circle cx="1244.1" cy="399.9" r="1.6" fill="#f2bea6"/><circle cx="1267.6" cy="399.9" r="1.6" fill="#f2bea6"/><circle cx="1220.6" cy="424.3" r="1.6" fill="#f2bea6"/><circle cx="1244.1" cy="424.3" r="1.6" fill="#f2bea6"/><circle cx="1267.6" cy="424.3" r="1.6" fill="#f2bea6"/>
<use href="#fai" transform="translate(1232.3,352.6) rotate(0)"/>
<use href="#fai" transform="translate(1255.8,352.6) rotate(0)"/>
<use href="#fai" transform="translate(1232.3,377.0) rotate(0)"/>
<use href="#fai" transform="translate(1255.8,377.0) rotate(0)"/>
<use href="#fai" transform="translate(1232.3,401.4) rotate(0)"/>
<use href="#fai" transform="translate(1255.8,401.4) rotate(0)"/>
<polygon points="1109.1,421.0 1109.5,415.9 1109.9,410.8 1110.2,405.8 1110.4,400.9 1110.6,396.1 1110.7,391.3 1110.7,386.7 1110.7,382.1 1110.6,377.5 1110.4,373.1 1110.2,368.7 1109.8,364.4 1109.5,360.2 1109.0,356.0 1108.5,352.0 1107.9,348.0 1107.3,344.0 1106.5,340.2 1105.7,336.4 1104.9,332.7 1103.9,329.0 1102.9,325.5 1101.8,322.0 1100.6,318.5 1105.2,316.6 1087.0,305.4 1085.0,325.3 1089.6,323.3 1091.1,326.2 1092.5,329.3 1093.9,332.5 1095.2,335.7 1096.4,339.1 1097.6,342.5 1098.7,346.1 1099.8,349.7 1100.8,353.5 1101.7,357.3 1102.6,361.3 1103.4,365.3 1104.1,369.4 1104.8,373.6 1105.5,378.0 1106.0,382.4 1106.5,386.9 1106.9,391.5 1107.3,396.2 1107.6,400.9 1107.8,405.8 1108.0,410.8 1108.1,415.8 1108.1,421.0" fill="#a3bde8" fill-opacity="0.85"/>
<polygon points="1208.4,421.0 1208.4,415.9 1208.4,410.9 1208.5,406.0 1208.7,401.1 1208.9,396.4 1209.1,391.8 1209.4,387.2 1209.8,382.7 1210.2,378.4 1210.7,374.1 1211.2,369.9 1211.7,365.8 1212.3,361.7 1213.0,357.8 1213.7,354.0 1214.5,350.2 1215.3,346.6 1216.1,343.0 1217.1,339.5 1218.0,336.2 1219.0,332.9 1220.1,329.7 1221.2,326.6 1222.3,323.6 1227.1,325.1 1223.0,305.4 1206.1,318.6 1210.9,320.1 1210.1,323.4 1209.4,326.9 1208.7,330.4 1208.1,334.0 1207.5,337.6 1207.1,341.3 1206.6,345.1 1206.2,349.0 1205.9,352.9 1205.6,356.9 1205.4,361.0 1205.3,365.2 1205.1,369.4 1205.1,373.7 1205.1,378.1 1205.1,382.6 1205.2,387.1 1205.4,391.7 1205.6,396.4 1205.8,401.2 1206.2,406.0 1206.5,410.9 1206.9,415.9 1207.4,421.0" fill="#a3bde8" fill-opacity="0.85"/>
<polygon points="1036.5,428.0 1100.7,428.0 1094.5,442.6 1030.3,442.6" fill="#f8da92"/><path d="M1057.9,428.0L1051.7,442.6M1079.3,428.0L1073.1,442.6M1036.5,428.0L1051.7,442.6M1057.9,428.0L1030.3,442.6M1057.9,428.0L1073.1,442.6M1079.3,428.0L1051.7,442.6M1079.3,428.0L1094.5,442.6M1100.7,428.0L1073.1,442.6" stroke="#fff4dc" stroke-width="0.7" fill="none"/><circle cx="1044.1" cy="435.3" r="1.7" fill="#8ea2dc"/><circle cx="1065.5" cy="435.3" r="1.7" fill="#8ea2dc"/><circle cx="1086.9" cy="435.3" r="1.7" fill="#8ea2dc"/><circle cx="1036.5" cy="428.0" r="1.8" fill="#f2b9a2"/><circle cx="1030.3" cy="442.6" r="1.8" fill="#f2b9a2"/><circle cx="1057.9" cy="428.0" r="1.8" fill="#f2b9a2"/><circle cx="1051.7" cy="442.6" r="1.8" fill="#f2b9a2"/><circle cx="1079.3" cy="428.0" r="1.8" fill="#f2b9a2"/><circle cx="1073.1" cy="442.6" r="1.8" fill="#f2b9a2"/><circle cx="1100.7" cy="428.0" r="1.8" fill="#f2b9a2"/><circle cx="1094.5" cy="442.6" r="1.8" fill="#f2b9a2"/>
<polygon points="1116.5,414.0 1202.1,414.0 1195.9,428.6 1110.3,428.6" fill="#f8da92"/><path d="M1137.9,414.0L1131.7,428.6M1159.3,414.0L1153.1,428.6M1180.7,414.0L1174.5,428.6M1116.5,414.0L1131.7,428.6M1137.9,414.0L1110.3,428.6M1137.9,414.0L1153.1,428.6M1159.3,414.0L1131.7,428.6M1159.3,414.0L1174.5,428.6M1180.7,414.0L1153.1,428.6M1180.7,414.0L1195.9,428.6M1202.1,414.0L1174.5,428.6" stroke="#fff4dc" stroke-width="0.7" fill="none"/><circle cx="1124.1" cy="421.3" r="1.7" fill="#8ea2dc"/><circle cx="1145.5" cy="421.3" r="1.7" fill="#8ea2dc"/><circle cx="1166.9" cy="421.3" r="1.7" fill="#8ea2dc"/><circle cx="1188.3" cy="421.3" r="1.7" fill="#8ea2dc"/><circle cx="1116.5" cy="414.0" r="1.8" fill="#f2b9a2"/><circle cx="1110.3" cy="428.6" r="1.8" fill="#f2b9a2"/><circle cx="1137.9" cy="414.0" r="1.8" fill="#f2b9a2"/><circle cx="1131.7" cy="428.6" r="1.8" fill="#f2b9a2"/><circle cx="1159.3" cy="414.0" r="1.8" fill="#f2b9a2"/><circle cx="1153.1" cy="428.6" r="1.8" fill="#f2b9a2"/><circle cx="1180.7" cy="414.0" r="1.8" fill="#f2b9a2"/><circle cx="1174.5" cy="428.6" r="1.8" fill="#f2b9a2"/><circle cx="1202.1" cy="414.0" r="1.8" fill="#f2b9a2"/><circle cx="1195.9" cy="428.6" r="1.8" fill="#f2b9a2"/>
<polygon points="1211.7,429.8 1275.9,429.8 1269.7,444.4 1205.5,444.4" fill="#f8da92"/><path d="M1233.1,429.8L1226.9,444.4M1254.5,429.8L1248.3,444.4M1211.7,429.8L1226.9,444.4M1233.1,429.8L1205.5,444.4M1233.1,429.8L1248.3,444.4M1254.5,429.8L1226.9,444.4M1254.5,429.8L1269.7,444.4M1275.9,429.8L1248.3,444.4" stroke="#fff4dc" stroke-width="0.7" fill="none"/><circle cx="1219.3" cy="437.1" r="1.7" fill="#8ea2dc"/><circle cx="1240.7" cy="437.1" r="1.7" fill="#8ea2dc"/><circle cx="1262.1" cy="437.1" r="1.7" fill="#8ea2dc"/><circle cx="1211.7" cy="429.8" r="1.8" fill="#f2b9a2"/><circle cx="1205.5" cy="444.4" r="1.8" fill="#f2b9a2"/><circle cx="1233.1" cy="429.8" r="1.8" fill="#f2b9a2"/><circle cx="1226.9" cy="444.4" r="1.8" fill="#f2b9a2"/><circle cx="1254.5" cy="429.8" r="1.8" fill="#f2b9a2"/><circle cx="1248.3" cy="444.4" r="1.8" fill="#f2b9a2"/><circle cx="1275.9" cy="429.8" r="1.8" fill="#f2b9a2"/><circle cx="1269.7" cy="444.4" r="1.8" fill="#f2b9a2"/>
<use href="#dmso" x="1121.0" y="441.0"/>
<use href="#dmso" transform="translate(1132.0,446.0) rotate(30)"/>
<use href="#dmso" transform="translate(1144.0,440.0) rotate(-40)"/>
<use href="#dmso" transform="translate(1156.0,446.0) rotate(60)"/>
<use href="#dmso" transform="translate(1168.0,440.0) rotate(10)"/>
<use href="#dmso" transform="translate(1180.0,446.0) rotate(-30)"/>
<use href="#dmso" transform="translate(1191.0,440.0) rotate(40)"/>
<use href="#dmso" transform="translate(1100.0,322.0) rotate(30)"/>
<use href="#dmso" transform="translate(1215.0,320.0) rotate(-30)"/>
<path d="M1097.4,448.8 C1100,430 1130,431 1150,431 C1175,431 1200,432 1204,448.8 L1282.8,448.8" fill="none" stroke="#2c4f9e" stroke-width="1.6" stroke-dasharray="5,3"/>
<circle cx="1067.0" cy="314.3" r="16.5" fill="none" stroke="#c0262c" stroke-width="1.6" stroke-dasharray="5,3"/>
<use href="#fai" transform="translate(1059.0,308.3) rotate(0)"/>
<use href="#fai" transform="translate(1067.0,308.3) rotate(60)"/>
<use href="#fai" transform="translate(1075.0,308.3) rotate(120)"/>
<use href="#fai" transform="translate(1059.0,318.3) rotate(200)"/>
<use href="#fai" transform="translate(1067.0,318.3) rotate(270)"/>
<use href="#fai" transform="translate(1075.0,318.3) rotate(330)"/>
<circle cx="1243.4" cy="315.5" r="16.5" fill="none" stroke="#c0262c" stroke-width="1.6" stroke-dasharray="5,3"/>
<use href="#fai" transform="translate(1235.4,309.5) rotate(0)"/>
<use href="#fai" transform="translate(1243.4,309.5) rotate(60)"/>
<use href="#fai" transform="translate(1251.4,309.5) rotate(120)"/>
<use href="#fai" transform="translate(1235.4,319.5) rotate(200)"/>
<use href="#fai" transform="translate(1243.4,319.5) rotate(270)"/>
<use href="#fai" transform="translate(1251.4,319.5) rotate(330)"/>
<path d="M1085,305 L1100,297" stroke="#c0262c" stroke-width="1.6" stroke-dasharray="4,3"/>
<path d="M1213,297 L1228,305" stroke="#c0262c" stroke-width="1.6" stroke-dasharray="4,3"/>
<text x="1157.0" y="302.0" font-size="19.5" text-anchor="middle" font-weight="bold" fill="#000" >Residual FAI</text>
<text x="1322.0" y="445.0" font-size="19.5" text-anchor="middle" font-weight="bold" fill="#000" >Residual</text>
<text x="1314.5" y="469.0" font-size="19.5" text-anchor="middle" font-weight="bold" fill="#000" >DMSO</text>
<use href="#snw" x="1042.3" y="465.3"/>
<use href="#snt" x="1064.8" y="465.3"/>
<use href="#snw" x="1087.3" y="465.3"/>
<use href="#snt" x="1109.8" y="465.3"/>
<use href="#snw" x="1132.3" y="465.3"/>
<use href="#snt" x="1154.8" y="465.3"/>
<use href="#snw" x="1177.3" y="465.3"/>
<use href="#snt" x="1199.8" y="465.3"/>
<use href="#snw" x="1222.3" y="465.3"/>
<use href="#snt" x="1244.8" y="465.3"/>
<use href="#snw" x="1267.3" y="465.3"/>
<use href="#snt" x="1042.3" y="487.4"/>
<use href="#snw" x="1064.8" y="487.4"/>
<use href="#snt" x="1087.3" y="487.4"/>
<use href="#snw" x="1109.8" y="487.4"/>
<use href="#snt" x="1132.3" y="487.4"/>
<use href="#snw" x="1154.8" y="487.4"/>
<use href="#snt" x="1177.3" y="487.4"/>
<use href="#snw" x="1199.8" y="487.4"/>
<use href="#snt" x="1222.3" y="487.4"/>
<use href="#snw" x="1244.8" y="487.4"/>
<use href="#snt" x="1267.3" y="487.4"/>
<use href="#snw" x="1042.3" y="509.5"/>
<use href="#snt" x="1064.8" y="509.5"/>
<use href="#snw" x="1087.3" y="509.5"/>
<use href="#snt" x="1109.8" y="509.5"/>
<use href="#snw" x="1132.3" y="509.5"/>
<use href="#snt" x="1154.8" y="509.5"/>
<use href="#snw" x="1177.3" y="509.5"/>
<use href="#snt" x="1199.8" y="509.5"/>
<use href="#snw" x="1222.3" y="509.5"/>
<use href="#snt" x="1244.8" y="509.5"/>
<use href="#snw" x="1267.3" y="509.5"/>
<circle cx="1064.8" cy="450.1" r="1.8" fill="#fff" stroke="#d0e8c0" stroke-width="0.8"/>
<circle cx="1109.8" cy="450.1" r="1.8" fill="#fff" stroke="#d0e8c0" stroke-width="0.8"/>
<circle cx="1154.8" cy="450.1" r="1.8" fill="#fff" stroke="#d0e8c0" stroke-width="0.8"/>
<circle cx="1199.8" cy="450.1" r="1.8" fill="#fff" stroke="#d0e8c0" stroke-width="0.8"/>
<circle cx="1244.8" cy="450.1" r="1.8" fill="#fff" stroke="#d0e8c0" stroke-width="0.8"/>
<polygon points="1039.9,607.2 1051.8,594.9 1063.7,607.2 1051.8,619.5" fill="#cc935f"/><polygon points="1063.7,607.2 1075.6,594.9 1087.5,607.2 1075.6,619.5" fill="#cc935f"/><polygon points="1087.5,607.2 1099.4,594.9 1111.4,607.2 1099.4,619.5" fill="#cc935f"/><polygon points="1111.3,607.2 1123.3,594.9 1135.2,607.2 1123.3,619.5" fill="#cc935f"/><polygon points="1135.2,607.2 1147.1,594.9 1159.0,607.2 1147.1,619.5" fill="#cc935f"/><polygon points="1159.0,607.2 1170.9,594.9 1182.8,607.2 1170.9,619.5" fill="#cc935f"/><polygon points="1182.8,607.2 1194.7,594.9 1206.6,607.2 1194.7,619.5" fill="#cc935f"/><polygon points="1206.6,607.2 1218.5,594.9 1230.5,607.2 1218.5,619.5" fill="#cc935f"/><polygon points="1230.4,607.2 1242.4,594.9 1254.3,607.2 1242.4,619.5" fill="#cc935f"/><polygon points="1254.3,607.2 1266.2,594.9 1278.1,607.2 1266.2,619.5" fill="#cc935f"/><polygon points="1039.9,631.8 1051.8,619.5 1063.7,631.8 1051.8,644.1" fill="#cc935f"/><polygon points="1063.7,631.8 1075.6,619.5 1087.5,631.8 1075.6,644.1" fill="#cc935f"/><polygon points="1087.5,631.8 1099.4,619.5 1111.4,631.8 1099.4,644.1" fill="#cc935f"/><polygon points="1111.3,631.8 1123.3,619.5 1135.2,631.8 1123.3,644.1" fill="#cc935f"/><polygon points="1135.2,631.8 1147.1,619.5 1159.0,631.8 1147.1,644.1" fill="#cc935f"/><polygon points="1159.0,631.8 1170.9,619.5 1182.8,631.8 1170.9,644.1" fill="#cc935f"/><polygon points="1182.8,631.8 1194.7,619.5 1206.6,631.8 1194.7,644.1" fill="#cc935f"/><polygon points="1206.6,631.8 1218.5,619.5 1230.5,631.8 1218.5,644.1" fill="#cc935f"/><polygon points="1230.4,631.8 1242.4,619.5 1254.3,631.8 1242.4,644.1" fill="#cc935f"/><polygon points="1254.3,631.8 1266.2,619.5 1278.1,631.8 1266.2,644.1" fill="#cc935f"/><polygon points="1039.9,656.4 1051.8,644.1 1063.7,656.4 1051.8,668.6" fill="#cc935f"/><polygon points="1063.7,656.4 1075.6,644.1 1087.5,656.4 1075.6,668.6" fill="#cc935f"/><polygon points="1087.5,656.4 1099.4,644.1 1111.4,656.4 1099.4,668.6" fill="#cc935f"/><polygon points="1111.3,656.4 1123.3,644.1 1135.2,656.4 1123.3,668.6" fill="#cc935f"/><polygon points="1135.2,656.4 1147.1,644.1 1159.0,656.4 1147.1,668.6" fill="#cc935f"/><polygon points="1159.0,656.4 1170.9,644.1 1182.8,656.4 1170.9,668.6" fill="#cc935f"/><polygon points="1182.8,656.4 1194.7,644.1 1206.6,656.4 1194.7,668.6" fill="#cc935f"/><polygon points="1206.6,656.4 1218.5,644.1 1230.5,656.4 1218.5,668.6" fill="#cc935f"/><polygon points="1230.4,656.4 1242.4,644.1 1254.3,656.4 1242.4,668.6" fill="#cc935f"/><polygon points="1254.3,656.4 1266.2,644.1 1278.1,656.4 1266.2,668.6" fill="#cc935f"/><polygon points="1039.9,680.9 1051.8,668.7 1063.7,680.9 1051.8,693.2" fill="#cc935f"/><polygon points="1063.7,680.9 1075.6,668.7 1087.5,680.9 1075.6,693.2" fill="#cc935f"/><polygon points="1087.5,680.9 1099.4,668.7 1111.4,680.9 1099.4,693.2" fill="#cc935f"/><polygon points="1111.3,680.9 1123.3,668.7 1135.2,680.9 1123.3,693.2" fill="#cc935f"/><polygon points="1135.2,680.9 1147.1,668.7 1159.0,680.9 1147.1,693.2" fill="#cc935f"/><polygon points="1159.0,680.9 1170.9,668.7 1182.8,680.9 1170.9,693.2" fill="#cc935f"/><polygon points="1182.8,680.9 1194.7,668.7 1206.6,680.9 1194.7,693.2" fill="#cc935f"/><polygon points="1206.6,680.9 1218.5,668.7 1230.5,680.9 1218.5,693.2" fill="#cc935f"/><polygon points="1230.4,680.9 1242.4,668.7 1254.3,680.9 1242.4,693.2" fill="#cc935f"/><polygon points="1254.3,680.9 1266.2,668.7 1278.1,680.9 1266.2,693.2" fill="#cc935f"/><polygon points="1039.9,705.5 1051.8,693.2 1063.7,705.5 1051.8,717.8" fill="#cc935f"/><polygon points="1063.7,705.5 1075.6,693.2 1087.5,705.5 1075.6,717.8" fill="#cc935f"/><polygon points="1087.5,705.5 1099.4,693.2 1111.4,705.5 1099.4,717.8" fill="#cc935f"/><polygon points="1111.3,705.5 1123.3,693.2 1135.2,705.5 1123.3,717.8" fill="#cc935f"/><polygon points="1135.2,705.5 1147.1,693.2 1159.0,705.5 1147.1,717.8" fill="#cc935f"/><polygon points="1159.0,705.5 1170.9,693.2 1182.8,705.5 1170.9,717.8" fill="#cc935f"/><polygon points="1182.8,705.5 1194.7,693.2 1206.6,705.5 1194.7,717.8" fill="#cc935f"/><polygon points="1206.6,705.5 1218.5,693.2 1230.5,705.5 1218.5,717.8" fill="#cc935f"/><polygon points="1230.4,705.5 1242.4,693.2 1254.3,705.5 1242.4,717.8" fill="#cc935f"/><polygon points="1254.3,705.5 1266.2,693.2 1278.1,705.5 1266.2,717.8" fill="#cc935f"/><path d="M1039.9,607.2H1278.1M1039.9,631.8H1278.1M1039.9,656.4H1278.1M1039.9,680.9H1278.1M1039.9,705.5H1278.1M1051.8,594.9V717.8M1075.6,594.9V717.8M1099.4,594.9V717.8M1123.3,594.9V717.8M1147.1,594.9V717.8M1170.9,594.9V717.8M1194.7,594.9V717.8M1218.5,594.9V717.8M1242.4,594.9V717.8M1266.2,594.9V717.8" stroke="#f3dcc8" stroke-width="0.8"/><circle cx="1051.8" cy="607.2" r="1.8" fill="#8f9fd9"/><circle cx="1075.6" cy="607.2" r="1.8" fill="#8f9fd9"/><circle cx="1099.4" cy="607.2" r="1.8" fill="#8f9fd9"/><circle cx="1123.3" cy="607.2" r="1.8" fill="#8f9fd9"/><circle cx="1147.1" cy="607.2" r="1.8" fill="#8f9fd9"/><circle cx="1170.9" cy="607.2" r="1.8" fill="#8f9fd9"/><circle cx="1194.7" cy="607.2" r="1.8" fill="#8f9fd9"/><circle cx="1218.5" cy="607.2" r="1.8" fill="#8f9fd9"/><circle cx="1242.4" cy="607.2" r="1.8" fill="#8f9fd9"/><circle cx="1266.2" cy="607.2" r="1.8" fill="#8f9fd9"/><circle cx="1051.8" cy="631.8" r="1.8" fill="#8f9fd9"/><circle cx="1075.6" cy="631.8" r="1.8" fill="#8f9fd9"/><circle cx="1099.4" cy="631.8" r="1.8" fill="#8f9fd9"/><circle cx="1123.3" cy="631.8" r="1.8" fill="#8f9fd9"/><circle cx="1147.1" cy="631.8" r="1.8" fill="#8f9fd9"/><circle cx="1170.9" cy="631.8" r="1.8" fill="#8f9fd9"/><circle cx="1194.7" cy="631.8" r="1.8" fill="#8f9fd9"/><circle cx="1218.5" cy="631.8" r="1.8" fill="#8f9fd9"/><circle cx="1242.4" cy="631.8" r="1.8" fill="#8f9fd9"/><circle cx="1266.2" cy="631.8" r="1.8" fill="#8f9fd9"/><circle cx="1051.8" cy="656.4" r="1.8" fill="#8f9fd9"/><circle cx="1075.6" cy="656.4" r="1.8" fill="#8f9fd9"/><circle cx="1099.4" cy="656.4" r="1.8" fill="#8f9fd9"/><circle cx="1123.3" cy="656.4" r="1.8" fill="#8f9fd9"/><circle cx="1147.1" cy="656.4" r="1.8" fill="#8f9fd9"/><circle cx="1170.9" cy="656.4" r="1.8" fill="#8f9fd9"/><circle cx="1194.7" cy="656.4" r="1.8" fill="#8f9fd9"/><circle cx="1218.5" cy="656.4" r="1.8" fill="#8f9fd9"/><circle cx="1242.4" cy="656.4" r="1.8" fill="#8f9fd9"/><circle cx="1266.2" cy="656.4" r="1.8" fill="#8f9fd9"/><circle cx="1051.8" cy="680.9" r="1.8" fill="#8f9fd9"/><circle cx="1075.6" cy="680.9" r="1.8" fill="#8f9fd9"/><circle cx="1099.4" cy="680.9" r="1.8" fill="#8f9fd9"/><circle cx="1123.3" cy="680.9" r="1.8" fill="#8f9fd9"/><circle cx="1147.1" cy="680.9" r="1.8" fill="#8f9fd9"/><circle cx="1170.9" cy="680.9" r="1.8" fill="#8f9fd9"/><circle cx="1194.7" cy="680.9" r="1.8" fill="#8f9fd9"/><circle cx="1218.5" cy="680.9" r="1.8" fill="#8f9fd9"/><circle cx="1242.4" cy="680.9" r="1.8" fill="#8f9fd9"/><circle cx="1266.2" cy="680.9" r="1.8" fill="#8f9fd9"/><circle cx="1051.8" cy="705.5" r="1.8" fill="#8f9fd9"/><circle cx="1075.6" cy="705.5" r="1.8" fill="#8f9fd9"/><circle cx="1099.4" cy="705.5" r="1.8" fill="#8f9fd9"/><circle cx="1123.3" cy="705.5" r="1.8" fill="#8f9fd9"/><circle cx="1147.1" cy="705.5" r="1.8" fill="#8f9fd9"/><circle cx="1170.9" cy="705.5" r="1.8" fill="#8f9fd9"/><circle cx="1194.7" cy="705.5" r="1.8" fill="#8f9fd9"/><circle cx="1218.5" cy="705.5" r="1.8" fill="#8f9fd9"/><circle cx="1242.4" cy="705.5" r="1.8" fill="#8f9fd9"/><circle cx="1266.2" cy="705.5" r="1.8" fill="#8f9fd9"/><circle cx="1039.9" cy="607.2" r="1.6" fill="#f2bea6"/><circle cx="1063.7" cy="607.2" r="1.6" fill="#f2bea6"/><circle cx="1087.5" cy="607.2" r="1.6" fill="#f2bea6"/><circle cx="1111.3" cy="607.2" r="1.6" fill="#f2bea6"/><circle cx="1135.2" cy="607.2" r="1.6" fill="#f2bea6"/><circle cx="1159.0" cy="607.2" r="1.6" fill="#f2bea6"/><circle cx="1182.8" cy="607.2" r="1.6" fill="#f2bea6"/><circle cx="1206.6" cy="607.2" r="1.6" fill="#f2bea6"/><circle cx="1230.5" cy="607.2" r="1.6" fill="#f2bea6"/><circle cx="1254.3" cy="607.2" r="1.6" fill="#f2bea6"/><circle cx="1278.1" cy="607.2" r="1.6" fill="#f2bea6"/><circle cx="1039.9" cy="631.8" r="1.6" fill="#f2bea6"/><circle cx="1063.7" cy="631.8" r="1.6" fill="#f2bea6"/><circle cx="1087.5" cy="631.8" r="1.6" fill="#f2bea6"/><circle cx="1111.3" cy="631.8" r="1.6" fill="#f2bea6"/><circle cx="1135.2" cy="631.8" r="1.6" fill="#f2bea6"/><circle cx="1159.0" cy="631.8" r="1.6" fill="#f2bea6"/><circle cx="1182.8" cy="631.8" r="1.6" fill="#f2bea6"/><circle cx="1206.6" cy="631.8" r="1.6" fill="#f2bea6"/><circle cx="1230.5" cy="631.8" r="1.6" fill="#f2bea6"/><circle cx="1254.3" cy="631.8" r="1.6" fill="#f2bea6"/><circle cx="1278.1" cy="631.8" r="1.6" fill="#f2bea6"/><circle cx="1039.9" cy="656.4" r="1.6" fill="#f2bea6"/><circle cx="1063.7" cy="656.4" r="1.6" fill="#f2bea6"/><circle cx="1087.5" cy="656.4" r="1.6" fill="#f2bea6"/><circle cx="1111.3" cy="656.4" r="1.6" fill="#f2bea6"/><circle cx="1135.2" cy="656.4" r="1.6" fill="#f2bea6"/><circle cx="1159.0" cy="656.4" r="1.6" fill="#f2bea6"/><circle cx="1182.8" cy="656.4" r="1.6" fill="#f2bea6"/><circle cx="1206.6" cy="656.4" r="1.6" fill="#f2bea6"/><circle cx="1230.5" cy="656.4" r="1.6" fill="#f2bea6"/><circle cx="1254.3" cy="656.4" r="1.6" fill="#f2bea6"/><circle cx="1278.1" cy="656.4" r="1.6" fill="#f2bea6"/><circle cx="1039.9" cy="680.9" r="1.6" fill="#f2bea6"/><circle cx="1063.7" cy="680.9" r="1.6" fill="#f2bea6"/><circle cx="1087.5" cy="680.9" r="1.6" fill="#f2bea6"/><circle cx="1111.3" cy="680.9" r="1.6" fill="#f2bea6"/><circle cx="1135.2" cy="680.9" r="1.6" fill="#f2bea6"/><circle cx="1159.0" cy="680.9" r="1.6" fill="#f2bea6"/><circle cx="1182.8" cy="680.9" r="1.6" fill="#f2bea6"/><circle cx="1206.6" cy="680.9" r="1.6" fill="#f2bea6"/><circle cx="1230.5" cy="680.9" r="1.6" fill="#f2bea6"/><circle cx="1254.3" cy="680.9" r="1.6" fill="#f2bea6"/><circle cx="1278.1" cy="680.9" r="1.6" fill="#f2bea6"/><circle cx="1039.9" cy="705.5" r="1.6" fill="#f2bea6"/><circle cx="1063.7" cy="705.5" r="1.6" fill="#f2bea6"/><circle cx="1087.5" cy="705.5" r="1.6" fill="#f2bea6"/><circle cx="1111.3" cy="705.5" r="1.6" fill="#f2bea6"/><circle cx="1135.2" cy="705.5" r="1.6" fill="#f2bea6"/><circle cx="1159.0" cy="705.5" r="1.6" fill="#f2bea6"/><circle cx="1182.8" cy="705.5" r="1.6" fill="#f2bea6"/><circle cx="1206.6" cy="705.5" r="1.6" fill="#f2bea6"/><circle cx="1230.5" cy="705.5" r="1.6" fill="#f2bea6"/><circle cx="1254.3" cy="705.5" r="1.6" fill="#f2bea6"/><circle cx="1278.1" cy="705.5" r="1.6" fill="#f2bea6"/><circle cx="1051.8" cy="594.9" r="1.6" fill="#f2bea6"/><circle cx="1075.6" cy="594.9" r="1.6" fill="#f2bea6"/><circle cx="1099.4" cy="594.9" r="1.6" fill="#f2bea6"/><circle cx="1123.3" cy="594.9" r="1.6" fill="#f2bea6"/><circle cx="1147.1" cy="594.9" r="1.6" fill="#f2bea6"/><circle cx="1170.9" cy="594.9" r="1.6" fill="#f2bea6"/><circle cx="1194.7" cy="594.9" r="1.6" fill="#f2bea6"/><circle cx="1218.5" cy="594.9" r="1.6" fill="#f2bea6"/><circle cx="1242.4" cy="594.9" r="1.6" fill="#f2bea6"/><circle cx="1266.2" cy="594.9" r="1.6" fill="#f2bea6"/><circle cx="1051.8" cy="619.5" r="1.6" fill="#f2bea6"/><circle cx="1075.6" cy="619.5" r="1.6" fill="#f2bea6"/><circle cx="1099.4" cy="619.5" r="1.6" fill="#f2bea6"/><circle cx="1123.3" cy="619.5" r="1.6" fill="#f2bea6"/><circle cx="1147.1" cy="619.5" r="1.6" fill="#f2bea6"/><circle cx="1170.9" cy="619.5" r="1.6" fill="#f2bea6"/><circle cx="1194.7" cy="619.5" r="1.6" fill="#f2bea6"/><circle cx="1218.5" cy="619.5" r="1.6" fill="#f2bea6"/><circle cx="1242.4" cy="619.5" r="1.6" fill="#f2bea6"/><circle cx="1266.2" cy="619.5" r="1.6" fill="#f2bea6"/><circle cx="1051.8" cy="644.1" r="1.6" fill="#f2bea6"/><circle cx="1075.6" cy="644.1" r="1.6" fill="#f2bea6"/><circle cx="1099.4" cy="644.1" r="1.6" fill="#f2bea6"/><circle cx="1123.3" cy="644.1" r="1.6" fill="#f2bea6"/><circle cx="1147.1" cy="644.1" r="1.6" fill="#f2bea6"/><circle cx="1170.9" cy="644.1" r="1.6" fill="#f2bea6"/><circle cx="1194.7" cy="644.1" r="1.6" fill="#f2bea6"/><circle cx="1218.5" cy="644.1" r="1.6" fill="#f2bea6"/><circle cx="1242.4" cy="644.1" r="1.6" fill="#f2bea6"/><circle cx="1266.2" cy="644.1" r="1.6" fill="#f2bea6"/><circle cx="1051.8" cy="668.7" r="1.6" fill="#f2bea6"/><circle cx="1075.6" cy="668.7" r="1.6" fill="#f2bea6"/><circle cx="1099.4" cy="668.7" r="1.6" fill="#f2bea6"/><circle cx="1123.3" cy="668.7" r="1.6" fill="#f2bea6"/><circle cx="1147.1" cy="668.7" r="1.6" fill="#f2bea6"/><circle cx="1170.9" cy="668.7" r="1.6" fill="#f2bea6"/><circle cx="1194.7" cy="668.7" r="1.6" fill="#f2bea6"/><circle cx="1218.5" cy="668.7" r="1.6" fill="#f2bea6"/><circle cx="1242.4" cy="668.7" r="1.6" fill="#f2bea6"/><circle cx="1266.2" cy="668.7" r="1.6" fill="#f2bea6"/><circle cx="1051.8" cy="693.2" r="1.6" fill="#f2bea6"/><circle cx="1075.6" cy="693.2" r="1.6" fill="#f2bea6"/><circle cx="1099.4" cy="693.2" r="1.6" fill="#f2bea6"/><circle cx="1123.3" cy="693.2" r="1.6" fill="#f2bea6"/><circle cx="1147.1" cy="693.2" r="1.6" fill="#f2bea6"/><circle cx="1170.9" cy="693.2" r="1.6" fill="#f2bea6"/><circle cx="1194.7" cy="693.2" r="1.6" fill="#f2bea6"/><circle cx="1218.5" cy="693.2" r="1.6" fill="#f2bea6"/><circle cx="1242.4" cy="693.2" r="1.6" fill="#f2bea6"/><circle cx="1266.2" cy="693.2" r="1.6" fill="#f2bea6"/><circle cx="1051.8" cy="717.8" r="1.6" fill="#f2bea6"/><circle cx="1075.6" cy="717.8" r="1.6" fill="#f2bea6"/><circle cx="1099.4" cy="717.8" r="1.6" fill="#f2bea6"/><circle cx="1123.3" cy="717.8" r="1.6" fill="#f2bea6"/><circle cx="1147.1" cy="717.8" r="1.6" fill="#f2bea6"/><circle cx="1170.9" cy="717.8" r="1.6" fill="#f2bea6"/><circle cx="1194.7" cy="717.8" r="1.6" fill="#f2bea6"/><circle cx="1218.5" cy="717.8" r="1.6" fill="#f2bea6"/><circle cx="1242.4" cy="717.8" r="1.6" fill="#f2bea6"/><circle cx="1266.2" cy="717.8" r="1.6" fill="#f2bea6"/>
<use href="#fai" transform="translate(1063.7,621.0) rotate(0)"/>
<use href="#fai" transform="translate(1087.5,621.0) rotate(0)"/>
<use href="#fai" transform="translate(1111.3,621.0) rotate(0)"/>
<use href="#fai" transform="translate(1135.2,621.0) rotate(0)"/>
<use href="#fai" transform="translate(1159.0,621.0) rotate(0)"/>
<use href="#fai" transform="translate(1182.8,621.0) rotate(0)"/>
<use href="#fai" transform="translate(1206.6,621.0) rotate(0)"/>
<use href="#fai" transform="translate(1230.5,621.0) rotate(0)"/>
<use href="#fai" transform="translate(1254.3,621.0) rotate(0)"/>
<use href="#fai" transform="translate(1063.7,645.6) rotate(0)"/>
<use href="#fai" transform="translate(1087.5,645.6) rotate(0)"/>
<use href="#fai" transform="translate(1111.3,645.6) rotate(0)"/>
<use href="#fai" transform="translate(1135.2,645.6) rotate(0)"/>
<use href="#fai" transform="translate(1159.0,645.6) rotate(0)"/>
<use href="#fai" transform="translate(1182.8,645.6) rotate(0)"/>
<use href="#fai" transform="translate(1206.6,645.6) rotate(0)"/>
<use href="#fai" transform="translate(1230.5,645.6) rotate(0)"/>
<use href="#fai" transform="translate(1254.3,645.6) rotate(0)"/>
<use href="#fai" transform="translate(1063.7,670.2) rotate(0)"/>
<use href="#fai" transform="translate(1087.5,670.2) rotate(0)"/>
<use href="#fai" transform="translate(1111.3,670.2) rotate(0)"/>
<use href="#fai" transform="translate(1135.2,670.2) rotate(0)"/>
<use href="#fai" transform="translate(1159.0,670.2) rotate(0)"/>
<use href="#fai" transform="translate(1182.8,670.2) rotate(0)"/>
<use href="#fai" transform="translate(1206.6,670.2) rotate(0)"/>
<use href="#fai" transform="translate(1230.5,670.2) rotate(0)"/>
<use href="#fai" transform="translate(1254.3,670.2) rotate(0)"/>
<use href="#fai" transform="translate(1063.7,694.7) rotate(0)"/>
<use href="#fai" transform="translate(1087.5,694.7) rotate(0)"/>
<use href="#fai" transform="translate(1111.3,694.7) rotate(0)"/>
<use href="#fai" transform="translate(1135.2,694.7) rotate(0)"/>
<use href="#fai" transform="translate(1159.0,694.7) rotate(0)"/>
<use href="#fai" transform="translate(1182.8,694.7) rotate(0)"/>
<use href="#fai" transform="translate(1206.6,694.7) rotate(0)"/>
<use href="#fai" transform="translate(1230.5,694.7) rotate(0)"/>
<use href="#fai" transform="translate(1254.3,694.7) rotate(0)"/>
<use href="#snw" x="1050.3" y="741.7"/>
<use href="#snt" x="1072.8" y="741.7"/>
<use href="#snw" x="1095.3" y="741.7"/>
<use href="#snt" x="1117.8" y="741.7"/>
<use href="#snw" x="1140.3" y="741.7"/>
<use href="#snt" x="1162.8" y="741.7"/>
<use href="#snw" x="1185.3" y="741.7"/>
<use href="#snt" x="1207.8" y="741.7"/>
<use href="#snw" x="1230.3" y="741.7"/>
<use href="#snt" x="1252.8" y="741.7"/>
<use href="#snw" x="1275.3" y="741.7"/>
<use href="#snt" x="1050.3" y="763.8"/>
<use href="#snw" x="1072.8" y="763.8"/>
<use href="#snt" x="1095.3" y="763.8"/>
<use href="#snw" x="1117.8" y="763.8"/>
<use href="#snt" x="1140.3" y="763.8"/>
<use href="#snw" x="1162.8" y="763.8"/>
<use href="#snt" x="1185.3" y="763.8"/>
<use href="#snw" x="1207.8" y="763.8"/>
<use href="#snt" x="1230.3" y="763.8"/>
<use href="#snw" x="1252.8" y="763.8"/>
<use href="#snt" x="1275.3" y="763.8"/>
<use href="#snw" x="1050.3" y="785.9"/>
<use href="#snt" x="1072.8" y="785.9"/>
<use href="#snw" x="1095.3" y="785.9"/>
<use href="#snt" x="1117.8" y="785.9"/>
<use href="#snw" x="1140.3" y="785.9"/>
<use href="#snt" x="1162.8" y="785.9"/>
<use href="#snw" x="1185.3" y="785.9"/>
<use href="#snt" x="1207.8" y="785.9"/>
<use href="#snw" x="1230.3" y="785.9"/>
<use href="#snt" x="1252.8" y="785.9"/>
<use href="#snw" x="1275.3" y="785.9"/>
<use href="#idpac" x="1072.1" y="727.7"/>
<use href="#idpac" x="1117.1" y="727.7"/>
<use href="#idpac" x="1162.1" y="727.7"/>
<use href="#idpac" x="1207.1" y="727.7"/>
<use href="#idpac" x="1252.1" y="727.7"/>
<text x="1156.0" y="584.0" font-size="19.5" text-anchor="middle" font-weight="bold" fill="#000" >Without buried voids</text>
<rect x="320.2" y="560.0" width="1.4" height="23.2" fill="url(#barrow)"/>
<rect x="322.8" y="560.0" width="2.4" height="23.2" fill="url(#barrow)"/>
<polygon points="326.7,560.0 357.2,560.0 357.2,550.4 379.8,572.1 357.2,593.9 357.2,583.2 326.7,583.2" fill="url(#barrow)" />
<rect x="637.9" y="560.0" width="1.4" height="22.6" fill="url(#barrow)"/>
<rect x="640.5" y="560.0" width="2.4" height="22.6" fill="url(#barrow)"/>
<polygon points="644.4,560.0 675.9,560.0 675.9,549.8 697.4,571.5 675.9,593.2 675.9,582.6 644.4,582.6" fill="url(#barrow)" />
<rect x="968.1" y="558.5" width="1.4" height="23.3" fill="url(#barrow)"/>
<rect x="970.7" y="558.5" width="2.4" height="23.3" fill="url(#barrow)"/>
<polygon points="974.6,558.5 1005.6,558.5 1005.6,548.8 1027.7,570.5 1005.6,592.2 1005.6,581.8 974.6,581.8" fill="url(#barrow)" />
<text x="344.8" y="545.6" font-size="19.5" text-anchor="middle" font-weight="bold" fill="#000" >Annealing</text>
<text x="659.0" y="543.3" font-size="19.5" text-anchor="middle" font-weight="bold" fill="#000" >+FAI</text>
<text x="992.7" y="541.6" font-size="19.5" text-anchor="middle" font-weight="bold" fill="#000" >Annealing</text>
<use href="#snw" transform="translate(134.7,855.6) scale(1.98)"/>
<use href="#snt" transform="translate(181,855) scale(2.15,2.0)"/>
<text x="208.0" y="860.5" font-size="17" font-weight="bold">SnO<tspan font-size="11.1" dy="3.5">2</tspan><tspan dy="-3.5"></tspan></text>
<g transform="translate(313.4,836.3) scale(2.07)">
<polygon points="0.0,0.0 42.4,0.0 35.8,14.6 -6.6,14.6" fill="#f8da92"/><path d="M21.2,0.0L14.6,14.6M0.0,0.0L14.6,14.6M21.2,0.0L-6.6,14.6M21.2,0.0L35.8,14.6M42.4,0.0L14.6,14.6" stroke="#fff4dc" stroke-width="0.7" fill="none"/><circle cx="7.3" cy="7.3" r="1.7" fill="#8ea2dc"/><circle cx="28.5" cy="7.3" r="1.7" fill="#8ea2dc"/><circle cx="0.0" cy="0.0" r="1.8" fill="#f2b9a2"/><circle cx="-6.6" cy="14.6" r="1.8" fill="#f2b9a2"/><circle cx="21.2" cy="0.0" r="1.8" fill="#f2b9a2"/><circle cx="14.6" cy="14.6" r="1.8" fill="#f2b9a2"/><circle cx="42.4" cy="0.0" r="1.8" fill="#f2b9a2"/><circle cx="35.8" cy="14.6" r="1.8" fill="#f2b9a2"/>
</g>
<text x="408.0" y="860.5" font-size="17" font-weight="bold">PbI<tspan font-size="11.1" dy="3.5">2</tspan><tspan dy="-3.5"></tspan></text>
<use href="#dmso" transform="translate(501.3,853.5) scale(2.0) rotate(180)"/>
<text x="524.0" y="860.7" font-size="17" text-anchor="start" font-weight="bold" fill="#000" >DMSO</text>
<use href="#fai" transform="translate(638.1,857) scale(2.6)"/>
<text x="659.8" y="860.7" font-size="17" text-anchor="start" font-weight="bold" fill="#000" >FAI</text>
<use href="#idpac" transform="translate(747.4,856) scale(2.1)"/>
<text x="764.6" y="860.7" font-size="17" text-anchor="start" font-weight="bold" fill="#000" >IDPAC</text>
<polygon points="882.2,853.4 898.3,826.1 931.1,826.1 914.4,853.4 931.1,879.2 898.3,879.2" fill="#d5d8c2"/>
<path d="M898.3,826.1L914.4,853.4L898.3,879.2M882.2,853.4H914.4M931.1,826.1L905,840M931.1,879.2L905,866" stroke="#f4f5ec" stroke-width="0.8" fill="none"/>
<circle cx="898.3" cy="826.1" r="3.3" fill="#f2bca4"/>
<circle cx="931.1" cy="826.1" r="3.3" fill="#f2bca4"/>
<circle cx="882.2" cy="853.4" r="3.3" fill="#f2bca4"/>
<circle cx="914.4" cy="853.4" r="3.3" fill="#f2bca4"/>
<circle cx="898.3" cy="879.2" r="3.3" fill="#f2bca4"/>
<circle cx="931.1" cy="879.2" r="3.3" fill="#f2bca4"/>
<circle cx="906.5" cy="841.0" r="3.3" fill="#8e9fda"/>
<circle cx="906.5" cy="866.0" r="3.3" fill="#8e9fda"/>
<use href="#fai" transform="translate(869.3,852.8) scale(2.2) rotate(90)"/>
<use href="#fai" transform="translate(927.2,852.8) scale(2.2) rotate(90)"/>
<text x="948.2" y="861.5" font-size="17" font-weight="bold">δ-FAPbI<tspan font-size="11.1" dy="3.5">3</tspan><tspan dy="-3.5"></tspan></text>
<polygon points="1067.7,853.4 1091.4,829.4 1115.1,853.4 1091.4,877.4" fill="#cc935f"/>
<path d="M1067.7,853.4H1115.1M1091.4,829.4V877.4" stroke="#f3dcc8" stroke-width="0.9"/>
<circle cx="1091.4" cy="853.4" r="3.4" fill="#8f9fd9"/>
<circle cx="1067.7" cy="853.4" r="3.2" fill="#f2bea6"/>
<circle cx="1115.1" cy="853.4" r="3.2" fill="#f2bea6"/>
<circle cx="1091.4" cy="829.4" r="3.2" fill="#f2bea6"/>
<circle cx="1091.4" cy="877.4" r="3.2" fill="#f2bea6"/>
<polygon points="1115.0,853.4 1138.7,829.4 1162.4,853.4 1138.7,877.4" fill="#cc935f"/>
<path d="M1115.0,853.4H1162.4M1138.7,829.4V877.4" stroke="#f3dcc8" stroke-width="0.9"/>
<circle cx="1138.7" cy="853.4" r="3.4" fill="#8f9fd9"/>
<circle cx="1115.0" cy="853.4" r="3.2" fill="#f2bea6"/>
<circle cx="1162.4" cy="853.4" r="3.2" fill="#f2bea6"/>
<circle cx="1138.7" cy="829.4" r="3.2" fill="#f2bea6"/>
<circle cx="1138.7" cy="877.4" r="3.2" fill="#f2bea6"/>
<use href="#fai" transform="translate(1114.6,836) scale(2.3)"/>
<text x="1171.9" y="861.5" font-size="17" font-weight="bold">α-FAPbI<tspan font-size="11.1" dy="3.5">3</tspan><tspan dy="-3.5"></tspan></text>
<g clip-path="url(#clipc)">
<rect x="65.5" y="945.0" width="252.1" height="244.5" fill="url(#rgc)"/>
<ellipse cx="119.0" cy="1177.5" rx="42" ry="34" fill="url(#lobec)"/>
<ellipse cx="191.0" cy="1177.5" rx="42" ry="34" fill="url(#lobec)"/>
<g filter="url(#blc)">
<path d="M272.6,1179.2 A118.0,118.0 0 0 0 37.4,1179.2" fill="none" stroke="#31678e" stroke-width="2.2" stroke-opacity="0.60" stroke-linecap="round"/>
<path d="M286.4,1178.0 A131.9,131.9 0 0 0 23.6,1178.0" fill="none" stroke="#355f8d" stroke-width="1.6" stroke-opacity="0.50" stroke-linecap="round"/>
<path d="M299.3,1176.9 A144.9,144.9 0 0 0 10.7,1176.9" fill="none" stroke="#2e6f8e" stroke-width="2.2" stroke-opacity="0.60" stroke-linecap="round"/>
<path d="M315.6,1175.5 A161.2,161.2 0 0 0 -5.6,1175.5" fill="none" stroke="#2c738e" stroke-width="2.2" stroke-opacity="0.60" stroke-linecap="round"/>
<path d="M326.9,1174.5 A172.6,172.6 0 0 0 -16.9,1174.5" fill="none" stroke="#31678e" stroke-width="1.8" stroke-opacity="0.50" stroke-linecap="round"/>
<path d="M353.7,1172.1 A199.4,199.4 0 0 0 -43.7,1172.1" fill="none" stroke="#31678e" stroke-width="2.2" stroke-opacity="0.55" stroke-linecap="round"/>
<path d="M367.5,1170.9 A213.3,213.3 0 0 0 -57.5,1170.9" fill="none" stroke="#355f8d" stroke-width="1.6" stroke-opacity="0.50" stroke-linecap="round"/>
<path d="M390.2,1168.9 A236.1,236.1 0 0 0 -80.2,1168.9" fill="none" stroke="#306a8e" stroke-width="2.2" stroke-opacity="0.55" stroke-linecap="round"/>
<path d="M406.4,1167.5 A252.3,252.3 0 0 0 -96.4,1167.5" fill="none" stroke="#355f8d" stroke-width="1.8" stroke-opacity="0.50" stroke-linecap="round"/>
<path d="M430.7,1165.4 A276.8,276.8 0 0 0 -120.7,1165.4" fill="none" stroke="#355f8d" stroke-width="1.8" stroke-opacity="0.45" stroke-linecap="round"/>
</g>
<path d="M310.7,1147.8 A161.2,161.2 0 0 0 269.0,1075.5" fill="none" stroke="#26ad81" stroke-width="2.0" stroke-opacity="0.90" stroke-linecap="round"/>
<path d="M324.8,1127.7 A180.7,180.7 0 0 0 293.4,1073.3" fill="none" stroke="#44bf70" stroke-width="2.0" stroke-opacity="0.90" stroke-linecap="round"/>
<path d="M301.6,1111.5 A166.1,166.1 0 0 0 285.9,1087.3" fill="none" stroke="#9bd93c" stroke-width="1.6" stroke-opacity="0.90" stroke-linecap="round"/>
<path d="M236.4,1178.1 A82.2,82.2 0 0 0 73.6,1178.1" fill="none" stroke="#1e9c89" stroke-width="2.0" stroke-opacity="0.90" stroke-linecap="round"/>
<path d="M231.2,1158.7 A82.2,82.2 0 0 0 214.1,1132.4" fill="none" stroke="#9bd93c" stroke-width="2.6" stroke-opacity="1.00" stroke-linecap="round"/>
<path d="M95.9,1132.4 A82.2,82.2 0 0 0 78.8,1158.7" fill="none" stroke="#9bd93c" stroke-width="2.6" stroke-opacity="1.00" stroke-linecap="round"/>
<path d="M228.3,1152.2 A82.2,82.2 0 0 0 218.0,1136.7" fill="none" stroke="#fde725" stroke-width="3.0" stroke-opacity="1.00" stroke-linecap="round"/>
<path d="M92.0,1136.7 A82.2,82.2 0 0 0 81.7,1152.2" fill="none" stroke="#fde725" stroke-width="3.0" stroke-opacity="1.00" stroke-linecap="round"/>
<path d="M196.1,1118.3 A82.2,82.2 0 0 0 113.9,1118.3" fill="none" stroke="#26ad81" stroke-width="2.2" stroke-opacity="0.90" stroke-linecap="round"/>
<path d="M155.1,1174.8 L155.3,1168.7 L155.6,1162.6 L155.9,1156.4 L156.3,1150.3 L156.8,1144.1 L157.4,1138.0 L158.1,1131.8 L158.8,1125.7 L159.7,1119.5 L160.7,1113.4 L161.8,1107.2 L163.0,1101.1 L164.3,1095.0 L165.7,1088.8 L167.2,1082.7 L168.8,1076.5 L170.5,1070.4 L172.4,1064.2 L174.4,1058.1 L176.4,1051.9 L178.6,1045.8 L181.0,1039.6 L183.4,1033.5 L186.0,1027.4 L188.7,1021.2 L191.5,1015.1 L194.4,1008.9 L197.5,1002.8 L200.7,996.6 L204.0,990.5 L207.5,984.3 L211.1,978.2 L214.8,972.0 L218.6,965.9 L222.6,959.7 L226.7,953.6 L231.0,947.5 L235.4,941.3 L239.9,935.2 L244.6,929.0 L65.4,929.0 L70.1,935.2 L74.6,941.3 L79.0,947.5 L83.3,953.6 L87.4,959.7 L91.4,965.9 L95.2,972.0 L98.9,978.2 L102.5,984.3 L106.0,990.5 L109.3,996.6 L112.5,1002.8 L115.6,1008.9 L118.5,1015.1 L121.3,1021.2 L124.0,1027.4 L126.6,1033.5 L129.0,1039.6 L131.4,1045.8 L133.6,1051.9 L135.6,1058.1 L137.6,1064.2 L139.5,1070.4 L141.2,1076.5 L142.8,1082.7 L144.3,1088.8 L145.7,1095.0 L147.0,1101.1 L148.2,1107.2 L149.3,1113.4 L150.3,1119.5 L151.2,1125.7 L151.9,1131.8 L152.6,1138.0 L153.2,1144.1 L153.7,1150.3 L154.1,1156.4 L154.4,1162.6 L154.7,1168.7 L154.9,1174.8Z" fill="#440154"/>
<polygon points="65.5,1001.5 317.6,1008.5 317.6,1016.0 65.5,1009.0" fill="#440154" />
<polygon points="65.5,1090.0 317.6,1096.0 317.6,1103.0 65.5,1097.0" fill="#440154" />
<path d="M290.5,945.0 Q286.5,1067.2 279.5,1189.5" stroke="#440154" stroke-width="3.8" fill="none"/>
<circle cx="155.0" cy="1183.5" r="18" fill="url(#bsc)"/>
<circle cx="155.0" cy="1183.5" r="12" fill="#440154"/>
<circle cx="110.9" cy="1008.2" r="1.2" fill="#dfe318"/>
<circle cx="182.3" cy="1124.3" r="1.2" fill="#dfe318"/>
<circle cx="171.4" cy="1084.9" r="1.2" fill="#dfe318"/>
<circle cx="68.7" cy="1085.2" r="1.2" fill="#dfe318"/>
<circle cx="302.9" cy="1145.0" r="1.2" fill="#dfe318"/>
<circle cx="249.5" cy="1022.9" r="1.2" fill="#dfe318"/>
<circle cx="290.9" cy="1146.0" r="1.2" fill="#dfe318"/>
<circle cx="107.1" cy="1109.0" r="1.2" fill="#dfe318"/>
<circle cx="70.7" cy="1024.2" r="1.2" fill="#dfe318"/>
</g>
<rect x="65.5" y="945.0" width="252.1" height="244.5" fill="none" stroke="#000" stroke-width="1.3"/>
<path d="M65.5,1189.5h-9.0M65.5,1181.4h-4.6M65.5,1173.2h-4.6M65.5,1165.1h-4.6M65.5,1156.9h-4.6M65.5,1148.8h-9.0M65.5,1140.7h-4.6M65.5,1132.5h-4.6M65.5,1124.4h-4.6M65.5,1116.2h-4.6M65.5,1108.1h-9.0M65.5,1100.0h-4.6M65.5,1091.8h-4.6M65.5,1083.7h-4.6M65.5,1075.5h-4.6M65.5,1067.4h-9.0M65.5,1059.3h-4.6M65.5,1051.1h-4.6M65.5,1043.0h-4.6M65.5,1034.8h-4.6M65.5,1026.7h-9.0M65.5,1018.6h-4.6M65.5,1010.4h-4.6M65.5,1002.3h-4.6M65.5,994.1h-4.6M65.5,986.0h-9.0M65.5,977.9h-4.6M65.5,969.7h-4.6M65.5,961.6h-4.6M65.5,953.4h-4.6M65.5,945.3h-9.0M65.5,1189.5v4.6M73.6,1189.5v9.0M81.7,1189.5v4.6M89.9,1189.5v4.6M98.0,1189.5v4.6M106.2,1189.5v4.6M114.3,1189.5v9.0M122.4,1189.5v4.6M130.6,1189.5v4.6M138.7,1189.5v4.6M146.9,1189.5v4.6M155.0,1189.5v9.0M163.1,1189.5v4.6M171.3,1189.5v4.6M179.4,1189.5v4.6M187.6,1189.5v4.6M195.7,1189.5v9.0M203.8,1189.5v4.6M212.0,1189.5v4.6M220.1,1189.5v4.6M228.3,1189.5v4.6M236.4,1189.5v9.0M244.5,1189.5v4.6M252.7,1189.5v4.6M260.8,1189.5v4.6M269.0,1189.5v4.6M277.1,1189.5v9.0M285.2,1189.5v4.6M293.4,1189.5v4.6M301.5,1189.5v4.6M309.7,1189.5v4.6M317.8,1189.5v9.0" stroke="#000" stroke-width="1.3" fill="none"/>
<text x="46.8" y="1195.1" font-size="16" text-anchor="end" font-weight="normal" fill="#000" >0.0</text>
<text x="46.8" y="1154.4" font-size="16" text-anchor="end" font-weight="normal" fill="#000" >0.5</text>
<text x="46.8" y="1113.7" font-size="16" text-anchor="end" font-weight="normal" fill="#000" >1.0</text>
<text x="46.8" y="1073.0" font-size="16" text-anchor="end" font-weight="normal" fill="#000" >1.5</text>
<text x="46.8" y="1032.3" font-size="16" text-anchor="end" font-weight="normal" fill="#000" >2.0</text>
<text x="46.8" y="991.6" font-size="16" text-anchor="end" font-weight="normal" fill="#000" >2.5</text>
<text x="46.8" y="950.9" font-size="16" text-anchor="end" font-weight="normal" fill="#000" >3.0</text>
<text x="73.6" y="1219.5" font-size="16" text-anchor="middle" font-weight="normal" fill="#000" >−1.0</text>
<text x="114.3" y="1219.5" font-size="16" text-anchor="middle" font-weight="normal" fill="#000" >−0.5</text>
<text x="155.0" y="1219.5" font-size="16" text-anchor="middle" font-weight="normal" fill="#000" >0.0</text>
<text x="195.7" y="1219.5" font-size="16" text-anchor="middle" font-weight="normal" fill="#000" >0.5</text>
<text x="236.4" y="1219.5" font-size="16" text-anchor="middle" font-weight="normal" fill="#000" >1.0</text>
<text x="277.1" y="1219.5" font-size="16" text-anchor="middle" font-weight="normal" fill="#000" >1.5</text>
<text x="317.8" y="1219.5" font-size="16" text-anchor="middle" font-weight="normal" fill="#000" >2.0</text>
<g clip-path="url(#clipd)">
<rect x="393.0" y="943.0" width="255.6" height="245.8" fill="url(#rgd)"/>
<ellipse cx="447.4" cy="1176.8" rx="42" ry="34" fill="url(#lobed)"/>
<ellipse cx="519.4" cy="1176.8" rx="42" ry="34" fill="url(#lobed)"/>
<g filter="url(#bld)">
<path d="M602.3,1178.4 A119.3,119.3 0 0 0 364.5,1178.4" fill="none" stroke="#2c738e" stroke-width="2.6" stroke-opacity="0.70" stroke-linecap="round"/>
<path d="M616.2,1177.2 A133.3,133.3 0 0 0 350.6,1177.2" fill="none" stroke="#32648e" stroke-width="1.8" stroke-opacity="0.55" stroke-linecap="round"/>
<path d="M629.3,1176.0 A146.5,146.5 0 0 0 337.5,1176.0" fill="none" stroke="#287d8e" stroke-width="2.6" stroke-opacity="0.70" stroke-linecap="round"/>
<path d="M645.7,1174.6 A163.0,163.0 0 0 0 321.1,1174.6" fill="none" stroke="#26828e" stroke-width="2.6" stroke-opacity="0.75" stroke-linecap="round"/>
<path d="M657.2,1173.6 A174.5,174.5 0 0 0 309.6,1173.6" fill="none" stroke="#2f6c8e" stroke-width="2.0" stroke-opacity="0.60" stroke-linecap="round"/>
<path d="M684.3,1171.2 A201.6,201.6 0 0 0 282.5,1171.2" fill="none" stroke="#2e6f8e" stroke-width="2.6" stroke-opacity="0.60" stroke-linecap="round"/>
<path d="M698.2,1170.0 A215.6,215.6 0 0 0 268.6,1170.0" fill="none" stroke="#32648e" stroke-width="1.8" stroke-opacity="0.50" stroke-linecap="round"/>
<path d="M721.2,1168.0 A238.7,238.7 0 0 0 245.6,1168.0" fill="none" stroke="#2c738e" stroke-width="2.6" stroke-opacity="0.60" stroke-linecap="round"/>
<path d="M737.6,1166.6 A255.1,255.1 0 0 0 229.2,1166.6" fill="none" stroke="#32648e" stroke-width="2.0" stroke-opacity="0.50" stroke-linecap="round"/>
<path d="M762.2,1164.4 A279.8,279.8 0 0 0 204.6,1164.4" fill="none" stroke="#32648e" stroke-width="2.0" stroke-opacity="0.45" stroke-linecap="round"/>
</g>
<path d="M640.8,1146.6 A163.0,163.0 0 0 0 588.1,1064.0" fill="none" stroke="#26ad81" stroke-width="2.2" stroke-opacity="0.90" stroke-linecap="round"/>
<path d="M657.2,1132.3 A182.7,182.7 0 0 0 619.2,1066.5" fill="none" stroke="#32b67a" stroke-width="2.0" stroke-opacity="0.90" stroke-linecap="round"/>
<path d="M371.2,1094.6 A146.5,146.5 0 0 0 345.7,1138.7" fill="none" stroke="#1e9c89" stroke-width="2.2" stroke-opacity="0.80" stroke-linecap="round"/>
<path d="M385.6,1120.4 A119.3,119.3 0 0 0 366.7,1164.0" fill="none" stroke="#1e9c89" stroke-width="2.2" stroke-opacity="0.80" stroke-linecap="round"/>
<path d="M631.6,1110.0 A167.9,167.9 0 0 0 612.0,1080.9" fill="none" stroke="#9bd93c" stroke-width="1.6" stroke-opacity="0.90" stroke-linecap="round"/>
<path d="M566.5,1177.1 A83.9,83.9 0 0 0 400.3,1177.1" fill="none" stroke="#1e9c89" stroke-width="1.8" stroke-opacity="0.90" stroke-linecap="round"/>
<path d="M561.2,1157.4 A83.9,83.9 0 0 0 541.7,1128.4" fill="none" stroke="#7ad151" stroke-width="2.6" stroke-opacity="1.00" stroke-linecap="round"/>
<path d="M425.1,1128.4 A83.9,83.9 0 0 0 405.6,1157.4" fill="none" stroke="#7ad151" stroke-width="2.6" stroke-opacity="1.00" stroke-linecap="round"/>
<path d="M558.9,1152.0 A83.9,83.9 0 0 0 545.8,1132.6" fill="none" stroke="#fde725" stroke-width="3.2" stroke-opacity="1.00" stroke-linecap="round"/>
<path d="M421.0,1132.6 A83.9,83.9 0 0 0 407.9,1152.0" fill="none" stroke="#fde725" stroke-width="3.2" stroke-opacity="1.00" stroke-linecap="round"/>
<path d="M522.8,1114.7 A83.9,83.9 0 0 0 495.1,1105.7" fill="none" stroke="#7ad151" stroke-width="2.4" stroke-opacity="1.00" stroke-linecap="round"/>
<path d="M471.7,1105.7 A83.9,83.9 0 0 0 444.0,1114.7" fill="none" stroke="#7ad151" stroke-width="2.4" stroke-opacity="1.00" stroke-linecap="round"/>
<path d="M517.5,1112.1 A83.9,83.9 0 0 0 500.9,1106.7" fill="none" stroke="#ece51b" stroke-width="2.4" stroke-opacity="1.00" stroke-linecap="round"/>
<path d="M465.9,1106.7 A83.9,83.9 0 0 0 449.3,1112.1" fill="none" stroke="#ece51b" stroke-width="2.4" stroke-opacity="1.00" stroke-linecap="round"/>
<path d="M483.5,1174.0 L483.7,1167.8 L484.0,1161.6 L484.3,1155.3 L484.7,1149.1 L485.2,1142.9 L485.8,1136.7 L486.5,1130.5 L487.3,1124.3 L488.2,1118.1 L489.2,1111.8 L490.2,1105.6 L491.4,1099.4 L492.8,1093.2 L494.2,1087.0 L495.7,1080.8 L497.3,1074.6 L499.1,1068.4 L501.0,1062.1 L503.0,1055.9 L505.1,1049.7 L507.3,1043.5 L509.7,1037.3 L512.1,1031.1 L514.7,1024.9 L517.4,1018.6 L520.3,1012.4 L523.3,1006.2 L526.4,1000.0 L529.6,993.8 L533.0,987.6 L536.5,981.4 L540.1,975.1 L543.9,968.9 L547.7,962.7 L551.8,956.5 L555.9,950.3 L560.2,944.1 L564.7,937.9 L569.3,931.7 L574.0,925.4 L392.8,925.4 L397.5,931.7 L402.1,937.9 L406.6,944.1 L410.9,950.3 L415.0,956.5 L419.1,962.7 L422.9,968.9 L426.7,975.1 L430.3,981.4 L433.8,987.6 L437.2,993.8 L440.4,1000.0 L443.5,1006.2 L446.5,1012.4 L449.4,1018.6 L452.1,1024.9 L454.7,1031.1 L457.1,1037.3 L459.5,1043.5 L461.7,1049.7 L463.8,1055.9 L465.8,1062.1 L467.7,1068.4 L469.5,1074.6 L471.1,1080.8 L472.6,1087.0 L474.0,1093.2 L475.4,1099.4 L476.6,1105.6 L477.6,1111.8 L478.6,1118.1 L479.5,1124.3 L480.3,1130.5 L481.0,1136.7 L481.6,1142.9 L482.1,1149.1 L482.5,1155.3 L482.8,1161.6 L483.1,1167.8 L483.3,1174.0Z" fill="#440154"/>
<polygon points="393.0,999.0 648.6,1009.2 648.6,1016.2 393.0,1006.0" fill="#440154" />
<polygon points="393.0,1087.6 648.6,1094.8 648.6,1101.3 393.0,1094.1" fill="#440154" />
<path d="M620.7,943.0 Q616.6,1065.9 609.5,1188.8" stroke="#440154" stroke-width="3.8" fill="none"/>
<circle cx="483.4" cy="1182.8" r="18" fill="url(#bsd)"/>
<circle cx="483.4" cy="1182.8" r="12" fill="#440154"/>
<circle cx="432.4" cy="1125.7" r="1.2" fill="#dfe318"/>
<circle cx="460.3" cy="1091.5" r="1.2" fill="#dfe318"/>
<circle cx="396.7" cy="1155.3" r="1.2" fill="#dfe318"/>
<circle cx="623.2" cy="1008.5" r="1.2" fill="#dfe318"/>
<circle cx="637.6" cy="1025.7" r="1.2" fill="#dfe318"/>
<circle cx="465.5" cy="1103.5" r="1.2" fill="#dfe318"/>
<circle cx="634.3" cy="1144.4" r="1.2" fill="#dfe318"/>
<circle cx="393.6" cy="1089.4" r="1.2" fill="#dfe318"/>
<circle cx="534.1" cy="1083.5" r="1.2" fill="#dfe318"/>
</g>
<rect x="393.0" y="943.0" width="255.6" height="245.8" fill="none" stroke="#000" stroke-width="1.3"/>
<path d="M393.0,1188.8h-9.0M393.0,1180.6h-4.6M393.0,1172.3h-4.6M393.0,1164.1h-4.6M393.0,1155.9h-4.6M393.0,1147.6h-9.0M393.0,1139.4h-4.6M393.0,1131.2h-4.6M393.0,1123.0h-4.6M393.0,1114.7h-4.6M393.0,1106.5h-9.0M393.0,1098.3h-4.6M393.0,1090.0h-4.6M393.0,1081.8h-4.6M393.0,1073.6h-4.6M393.0,1065.3h-9.0M393.0,1057.1h-4.6M393.0,1048.9h-4.6M393.0,1040.7h-4.6M393.0,1032.4h-4.6M393.0,1024.2h-9.0M393.0,1016.0h-4.6M393.0,1007.7h-4.6M393.0,999.5h-4.6M393.0,991.3h-4.6M393.0,983.0h-9.0M393.0,974.8h-4.6M393.0,966.6h-4.6M393.0,958.4h-4.6M393.0,950.1h-4.6M393.0,941.9h-9.0M392.9,1188.8v4.6M401.1,1188.8v9.0M409.3,1188.8v4.6M417.6,1188.8v4.6M425.8,1188.8v4.6M434.0,1188.8v4.6M442.2,1188.8v9.0M450.5,1188.8v4.6M458.7,1188.8v4.6M466.9,1188.8v4.6M475.2,1188.8v4.6M483.4,1188.8v9.0M491.6,1188.8v4.6M499.9,1188.8v4.6M508.1,1188.8v4.6M516.3,1188.8v4.6M524.5,1188.8v9.0M532.8,1188.8v4.6M541.0,1188.8v4.6M549.2,1188.8v4.6M557.5,1188.8v4.6M565.7,1188.8v9.0M573.9,1188.8v4.6M582.2,1188.8v4.6M590.4,1188.8v4.6M598.6,1188.8v4.6M606.8,1188.8v9.0M615.1,1188.8v4.6M623.3,1188.8v4.6M631.5,1188.8v4.6M639.8,1188.8v4.6M648.0,1188.8v9.0" stroke="#000" stroke-width="1.3" fill="none"/>
<text x="374.3" y="1194.4" font-size="16" text-anchor="end" font-weight="normal" fill="#000" >0.0</text>
<text x="374.3" y="1153.2" font-size="16" text-anchor="end" font-weight="normal" fill="#000" >0.5</text>
<text x="374.3" y="1112.1" font-size="16" text-anchor="end" font-weight="normal" fill="#000" >1.0</text>
<text x="374.3" y="1070.9" font-size="16" text-anchor="end" font-weight="normal" fill="#000" >1.5</text>
<text x="374.3" y="1029.8" font-size="16" text-anchor="end" font-weight="normal" fill="#000" >2.0</text>
<text x="374.3" y="988.6" font-size="16" text-anchor="end" font-weight="normal" fill="#000" >2.5</text>
<text x="374.3" y="947.5" font-size="16" text-anchor="end" font-weight="normal" fill="#000" >3.0</text>
<text x="401.1" y="1218.8" font-size="16" text-anchor="middle" font-weight="normal" fill="#000" >−1.0</text>
<text x="442.2" y="1218.8" font-size="16" text-anchor="middle" font-weight="normal" fill="#000" >−0.5</text>
<text x="483.4" y="1218.8" font-size="16" text-anchor="middle" font-weight="normal" fill="#000" >0.0</text>
<text x="524.5" y="1218.8" font-size="16" text-anchor="middle" font-weight="normal" fill="#000" >0.5</text>
<text x="565.7" y="1218.8" font-size="16" text-anchor="middle" font-weight="normal" fill="#000" >1.0</text>
<text x="606.8" y="1218.8" font-size="16" text-anchor="middle" font-weight="normal" fill="#000" >1.5</text>
<text x="648.0" y="1218.8" font-size="16" text-anchor="middle" font-weight="normal" fill="#000" >2.0</text>
<text x="74.0" y="967.0" font-size="20.4" text-anchor="start" font-weight="bold" fill="#fff" >Control</text>
<text x="406.0" y="965.5" font-size="20" text-anchor="start" font-weight="bold" fill="#fff" >IDPAC</text>
<text x="106.9" y="1096.0" font-size="17.7" text-anchor="start" font-weight="bold" fill="#fff" >(001) α-MHP</text>
<text x="437.5" y="1095.0" font-size="17.6" text-anchor="start" font-weight="bold" fill="#fff" >(001) α-MHP</text>
<text x="138.4" y="1135.5" font-size="17.6" font-weight="bold" fill="#fff" text-anchor="start">PbI<tspan font-size="11.4" dy="4">2</tspan><tspan dy="-4"></tspan></text>
<text x="469.0" y="1134.5" font-size="17.6" font-weight="bold" fill="#fff" text-anchor="start">PbI<tspan font-size="11.4" dy="4">2</tspan><tspan dy="-4"></tspan></text>
<text x="163.0" y="1242.5" font-size="16.5"><tspan font-family="Liberation Sans" font-style="italic">q</tspan><tspan font-size="12" dy="4">xy</tspan><tspan dy="-4"> (Å</tspan><tspan font-size="11" dy="-8">−1</tspan><tspan dy="8">)</tspan></text>
<text x="491.0" y="1242.5" font-size="16.5"><tspan font-family="Liberation Sans" font-style="italic">q</tspan><tspan font-size="12" dy="4">xy</tspan><tspan dy="-4"> (Å</tspan><tspan font-size="11" dy="-8">−1</tspan><tspan dy="8">)</tspan></text>
<text transform="translate(18.7,1068.0) rotate(-90)" font-size="16.5" text-anchor="middle"><tspan font-family="Liberation Sans" font-style="italic">q</tspan><tspan font-size="12" dy="4">z</tspan><tspan dy="-4"> (Å</tspan><tspan font-size="11" dy="-8">−1</tspan><tspan dy="8">)</tspan></text>
<text transform="translate(346.5,1066.0) rotate(-90)" font-size="16.5" text-anchor="middle"><tspan font-family="Liberation Sans" font-style="italic">q</tspan><tspan font-size="12" dy="4">z</tspan><tspan dy="-4"> (Å</tspan><tspan font-size="11" dy="-8">−1</tspan><tspan dy="8">)</tspan></text>
<rect x="708.0" y="945.2" width="256.1" height="244.8" fill="url(#lge)"/>
<rect x="870.0" y="1113.0" width="94.1" height="77.0" fill="url(#lge2)" mask="url(#me2)"/>
<rect x="708.0" y="945.2" width="256.1" height="244.8" fill="none" stroke="#000" stroke-width="1.2"/>
<path d="M708.0,1165.5h-7.0M708.0,1138.0h-3.5M708.0,1110.4h-7.0M708.0,1082.9h-3.5M708.0,1055.3h-7.0M708.0,1027.8h-3.5M708.0,1000.3h-7.0M708.0,972.7h-3.5M708.0,945.2h-7.0M708.0,1190.0v8M793.4,1190.0v8M878.7,1190.0v8M964.1,1190.0v8" stroke="#333" stroke-width="1.1" fill="none"/>
<text x="695.5" y="1170.5" font-size="14.5" text-anchor="end" font-weight="normal" fill="#000" >0.8</text>
<text x="695.5" y="1115.4" font-size="14.5" text-anchor="end" font-weight="normal" fill="#000" >1.0</text>
<text x="695.5" y="1060.3" font-size="14.5" text-anchor="end" font-weight="normal" fill="#000" >1.2</text>
<text x="695.5" y="1005.3" font-size="14.5" text-anchor="end" font-weight="normal" fill="#000" >1.4</text>
<text x="695.5" y="950.2" font-size="14.5" text-anchor="end" font-weight="normal" fill="#000" >1.6</text>
<text x="708.0" y="1217.5" font-size="14.5" text-anchor="middle" font-weight="normal" fill="#000" >0</text>
<text x="793.4" y="1217.5" font-size="14.5" text-anchor="middle" font-weight="normal" fill="#000" >50</text>
<text x="878.7" y="1217.5" font-size="14.5" text-anchor="middle" font-weight="normal" fill="#000" >100</text>
<text x="964.1" y="1217.5" font-size="14.5" text-anchor="middle" font-weight="normal" fill="#000" >150</text>
<text x="836.0" y="1242.3" font-size="17.3" text-anchor="middle" font-weight="normal" fill="#000" >Time (s)</text>
<rect x="1025.3" y="945.3" width="255.4" height="244.7" fill="url(#lgf)"/>
<rect x="1025.3" y="945.3" width="255.4" height="244.7" fill="none" stroke="#000" stroke-width="1.2"/>
<path d="M1025.3,1165.5h-7.0M1025.3,1138.0h-3.5M1025.3,1110.5h-7.0M1025.3,1082.9h-3.5M1025.3,1055.4h-7.0M1025.3,1027.9h-3.5M1025.3,1000.4h-7.0M1025.3,972.8h-3.5M1025.3,945.3h-7.0M1025.3,1190.0v8M1110.4,1190.0v8M1195.6,1190.0v8M1280.7,1190.0v8" stroke="#333" stroke-width="1.1" fill="none"/>
<text x="1012.8" y="1170.5" font-size="14.5" text-anchor="end" font-weight="normal" fill="#000" >0.8</text>
<text x="1012.8" y="1115.5" font-size="14.5" text-anchor="end" font-weight="normal" fill="#000" >1.0</text>
<text x="1012.8" y="1060.4" font-size="14.5" text-anchor="end" font-weight="normal" fill="#000" >1.2</text>
<text x="1012.8" y="1005.4" font-size="14.5" text-anchor="end" font-weight="normal" fill="#000" >1.4</text>
<text x="1012.8" y="950.3" font-size="14.5" text-anchor="end" font-weight="normal" fill="#000" >1.6</text>
<text x="1025.3" y="1217.5" font-size="14.5" text-anchor="middle" font-weight="normal" fill="#000" >0</text>
<text x="1110.4" y="1217.5" font-size="14.5" text-anchor="middle" font-weight="normal" fill="#000" >50</text>
<text x="1195.6" y="1217.5" font-size="14.5" text-anchor="middle" font-weight="normal" fill="#000" >100</text>
<text x="1280.7" y="1217.5" font-size="14.5" text-anchor="middle" font-weight="normal" fill="#000" >150</text>
<text x="1153.0" y="1242.3" font-size="17.3" text-anchor="middle" font-weight="normal" fill="#000" >Time (s)</text>
<rect x="1297" y="945.3" width="17.4" height="244.7" fill="url(#cbar)"/>
<text x="1324.0" y="1195.0" font-size="14.5" text-anchor="start" font-weight="normal" fill="#000" >0.0</text>
<text x="1324.0" y="1146.1" font-size="14.5" text-anchor="start" font-weight="normal" fill="#000" >0.2</text>
<text x="1324.0" y="1097.1" font-size="14.5" text-anchor="start" font-weight="normal" fill="#000" >0.4</text>
<text x="1324.0" y="1048.2" font-size="14.5" text-anchor="start" font-weight="normal" fill="#000" >0.6</text>
<text x="1324.0" y="999.2" font-size="14.5" text-anchor="start" font-weight="normal" fill="#000" >0.8</text>
<text x="1324.0" y="950.3" font-size="14.5" text-anchor="start" font-weight="normal" fill="#000" >1.0</text>
<text transform="translate(1354,1068) rotate(90)" font-size="15" font-weight="bold" text-anchor="middle">Intensity (a.u.)</text>
<text transform="translate(668.0,1068.0) rotate(-90)" font-size="15" font-weight="bold" text-anchor="middle">q (Å<tspan font-size="11" dy="-6">-1</tspan><tspan dy="6">)</tspan></text>
<text transform="translate(984.0,1068.0) rotate(-90)" font-size="15" font-weight="bold" text-anchor="middle">q (Å<tspan font-size="11" dy="-6">-1</tspan><tspan dy="6">)</tspan></text>
<text x="721.0" y="966.7" font-size="20.5" text-anchor="start" font-weight="bold" fill="#fff" >Control</text>
<text x="1039.5" y="967.2" font-size="20.5" text-anchor="start" font-weight="bold" fill="#fff" >IDPAC</text>
<text x="719.5" y="1090.0" font-size="17.5" text-anchor="start" font-weight="bold" fill="#fff" >(001) α-MHP</text>
<text x="1041.5" y="1089.5" font-size="17.5" text-anchor="start" font-weight="bold" fill="#fff" >(001) α-MHP</text>
<text x="722.0" y="1170.0" font-size="17.6" font-weight="bold" fill="#fff" text-anchor="start">PbI<tspan font-size="11.4" dy="4">2</tspan><tspan dy="-4">·DMSO</tspan></text>
<text x="1043.0" y="1173.0" font-size="17.6" font-weight="bold" fill="#fff" text-anchor="start">PbI<tspan font-size="11.4" dy="4">2</tspan><tspan dy="-4">·DMSO</tspan></text>
<text x="924.3" y="1155.0" font-size="17.5" font-weight="bold" fill="#fff" text-anchor="start">PbI<tspan font-size="11.4" dy="4">2</tspan><tspan dy="-4"></tspan></text>
<text x="1237.7" y="1155.0" font-size="17.5" font-weight="bold" fill="#fff" text-anchor="start">PbI<tspan font-size="11.4" dy="4">2</tspan><tspan dy="-4"></tspan></text>
<text x="5.0" y="950.5" font-size="26" text-anchor="start" font-weight="bold" fill="#000" >c</text>
<text x="333.0" y="950.5" font-size="26" text-anchor="start" font-weight="bold" fill="#000" >d</text>
<text x="658.0" y="950.5" font-size="26" text-anchor="start" font-weight="bold" fill="#000" >e</text>
<text x="975.0" y="950.5" font-size="26" text-anchor="start" font-weight="bold" fill="#000" >f</text>
</svg></body></html>
